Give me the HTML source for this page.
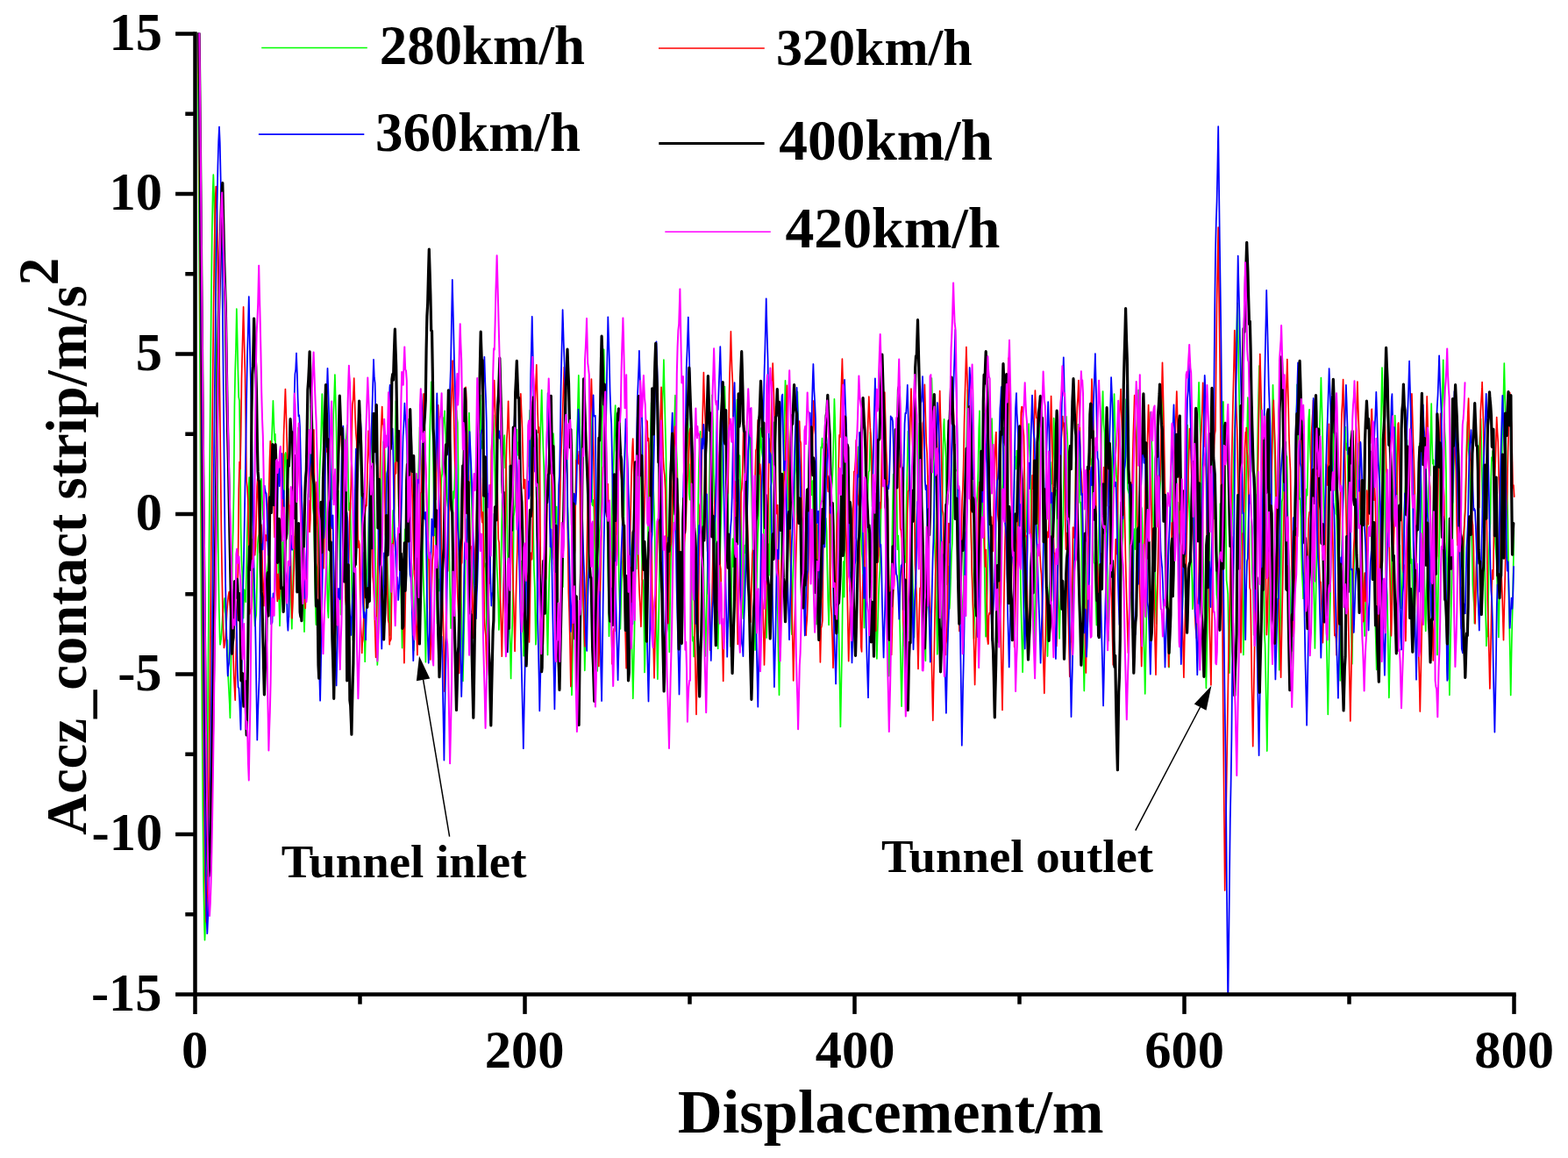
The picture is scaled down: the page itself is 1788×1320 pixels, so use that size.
<!DOCTYPE html>
<html lang="en"><head><meta charset="utf-8"><title>Accz contact strip vs displacement</title>
<style>html,body{margin:0;padding:0;background:#fff;}body{width:1788px;height:1320px;overflow:hidden;}svg{display:block;}text{font-family:"Liberation Serif","DejaVu Serif",serif;font-weight:bold;fill:#000;}</style></head><body>
<svg width="1788" height="1320" viewBox="0 0 1788 1320">
<rect width="1788" height="1320" fill="#fff"/>
<defs><clipPath id="plotclip"><rect x="221.5" y="37.5" width="1507" height="1097"/></clipPath></defs>
<g clip-path="url(#plotclip)" fill="none" stroke-linejoin="round" stroke-linecap="round">
<path stroke="#00ff00" stroke-width="1.7" d="M222.6 -200.0 L223.4 -167.9 224.2 -109.5 225.0 -27.1 225.8 76.1 226.6 195.6 227.4 325.9 228.2 461.3 229.0 595.6 229.8 722.5 230.6 836.4 231.4 932.3 232.2 1006.1 233.0 1054.8 233.5 1071.7 233.8 1064.7 234.6 1030.6 235.4 975.1 236.2 900.8 237.0 811.8 237.8 712.8 238.6 609.5 239.4 507.7 240.2 413.0 241.0 330.8 241.8 265.5 242.6 220.4 243.3 199.2 243.4 200.8 244.2 226.0 245.0 272.3 245.8 336.3 246.6 412.0 247.4 491.6 248.2 570.6 249.0 640.7 249.8 693.0 250.6 726.4 251.0 734.8 251.4 733.4 252.2 727.8 253.0 716.1 253.8 702.4 254.6 697.0 255.4 685.9 256.2 681.8 256.2 681.8 257.0 697.4 257.8 719.0 258.6 730.5 259.4 729.8 260.2 771.5 261.0 787.1 261.8 802.6 262.4 818.3 262.6 807.7 263.4 753.0 264.2 699.6 265.0 630.7 265.8 603.1 266.6 560.9 267.4 464.2 268.2 423.3 269.0 396.6 269.8 353.8 269.8 352.0 270.6 384.6 271.4 421.8 272.2 452.7 273.0 456.7 273.8 512.1 274.6 600.2 275.4 638.3 276.2 652.9 277.0 680.5 277.5 704.7 277.8 693.9 278.6 672.2 279.4 678.8 280.2 686.3 281.0 654.2 281.8 612.4 282.6 586.1 283.4 559.5 284.2 544.4 284.2 544.2 285.0 579.7 285.8 629.7 286.6 637.3 287.4 614.8 288.2 638.5 289.0 679.7 289.8 694.5 290.6 711.4 290.7 713.6 291.4 705.6 292.2 700.9 293.0 664.4 293.8 620.6 294.6 611.9 295.4 609.1 296.2 588.9 297.0 566.3 297.8 547.7 297.9 545.8 298.6 559.2 299.4 579.0 300.2 592.1 301.0 592.7 301.8 614.3 302.6 649.0 303.4 659.7 304.2 663.8 304.4 667.5 305.0 649.9 305.8 641.5 306.6 612.9 307.4 559.7 308.2 536.3 309.0 533.8 309.8 505.9 310.6 480.1 311.4 458.1 311.4 456.9 312.2 479.5 313.0 501.8 313.8 494.8 314.6 539.0 315.4 618.8 316.2 612.0 317.0 631.1 317.8 671.3 318.6 698.6 319.0 713.5 319.4 700.8 320.2 673.6 321.0 666.3 321.8 646.3 322.6 595.7 323.4 585.4 324.2 557.9 325.0 518.1 325.8 516.0 326.4 519.2 326.6 529.8 327.4 558.2 328.2 559.4 329.0 557.4 329.8 581.3 330.6 633.8 331.4 671.8 332.2 696.5 332.8 716.8 333.0 708.0 333.8 678.9 334.6 640.7 335.4 612.1 336.2 612.9 337.0 599.3 337.8 557.3 338.6 523.0 339.4 503.0 340.0 487.7 340.2 493.3 341.0 515.9 341.8 542.7 342.6 570.6 343.4 580.3 344.2 597.8 345.0 645.0 345.8 679.7 346.6 704.8 347.0 720.2 347.4 706.3 348.2 674.9 349.0 648.9 349.8 631.8 350.6 589.3 351.4 563.0 352.2 566.4 353.0 542.0 353.8 491.5 354.5 462.5 354.6 464.4 355.4 506.7 356.2 559.0 357.0 579.9 357.8 587.1 358.6 630.6 359.4 681.0 360.2 707.6 360.4 712.2 361.0 674.3 361.8 647.1 362.6 641.9 363.4 607.2 364.2 549.1 365.0 525.7 365.8 510.6 366.6 476.8 367.3 449.2 367.4 451.0 368.2 483.9 369.0 513.3 369.8 532.9 370.6 555.8 371.4 575.0 372.2 607.9 373.0 662.8 373.8 695.4 374.5 704.1 374.6 695.7 375.4 653.5 376.2 634.7 377.0 596.7 377.8 561.4 378.6 569.1 379.4 524.2 380.2 472.1 381.0 455.5 381.8 430.8 381.9 427.1 382.6 452.0 383.4 484.2 384.2 529.9 385.0 564.2 385.8 559.4 386.6 585.8 387.4 635.2 388.2 681.1 388.6 700.6 389.0 691.5 389.8 669.1 390.6 631.8 391.4 608.7 392.2 605.7 393.0 572.2 393.8 522.3 394.6 501.3 395.4 492.2 395.9 484.5 396.2 497.4 397.0 540.5 397.8 581.6 398.6 581.8 399.4 573.2 400.2 615.5 401.0 665.1 401.8 700.0 402.5 729.7 402.6 725.6 403.4 696.1 404.2 639.7 405.0 591.7 405.8 602.6 406.6 603.3 407.4 541.0 408.2 491.9 409.0 479.8 409.5 469.7 409.8 480.7 410.6 499.4 411.4 530.0 412.2 592.4 413.0 631.6 413.8 629.7 414.6 652.2 415.4 706.4 416.2 754.2 416.2 753.8 417.0 722.6 417.8 685.6 418.6 658.0 419.4 634.6 420.2 602.3 421.0 570.2 421.8 548.6 422.6 526.3 423.4 497.9 424.2 474.3 424.4 470.6 425.0 503.5 425.8 539.7 426.6 563.7 427.4 598.3 428.2 646.7 429.0 682.3 429.8 723.0 430.3 757.9 430.6 751.6 431.4 726.1 432.2 664.4 433.0 609.8 433.8 607.2 434.6 590.6 435.4 548.8 436.2 528.3 437.0 506.7 437.1 503.6 437.8 511.2 438.6 512.3 439.4 540.8 440.2 578.7 441.0 609.3 441.8 641.7 442.6 668.2 443.4 694.3 444.2 718.8 444.5 724.2 445.0 692.2 445.8 644.4 446.6 628.0 447.4 613.0 448.2 581.8 449.0 587.9 449.8 578.6 450.6 505.9 451.4 457.8 452.2 455.1 452.2 456.0 453.0 496.3 453.8 519.1 454.6 564.3 455.4 603.9 456.2 618.8 457.0 661.8 457.8 700.7 458.6 738.6 458.6 738.2 459.4 704.8 460.2 669.0 461.0 635.0 461.8 603.4 462.6 603.7 463.4 577.7 464.2 514.2 465.0 477.7 465.0 478.3 465.8 520.2 466.6 565.4 467.4 581.4 468.2 604.6 469.0 638.7 469.8 649.8 470.6 669.5 471.4 717.1 471.8 741.7 472.2 732.8 473.0 699.1 473.8 650.1 474.6 610.0 475.4 583.6 476.2 563.3 477.0 544.9 477.8 520.3 478.6 488.8 478.6 487.1 479.4 508.6 480.2 531.2 481.0 560.5 481.8 606.1 482.6 653.9 483.4 678.8 484.2 698.7 485.0 734.9 485.4 754.8 485.8 732.7 486.6 683.7 487.4 641.4 488.2 629.0 489.0 585.9 489.8 507.3 490.6 476.9 491.4 452.9 491.8 435.3 492.2 449.5 493.0 478.1 493.8 507.5 494.6 570.2 495.4 610.3 496.2 588.8 497.0 614.6 497.8 674.9 498.6 711.1 498.6 709.5 499.4 670.2 500.2 660.7 501.0 673.6 501.8 635.6 502.6 567.2 503.4 545.0 504.2 540.0 505.0 503.4 505.8 476.4 506.6 475.0 507.1 468.4 507.4 479.8 508.2 495.4 509.0 523.4 509.8 568.4 510.6 576.7 511.4 579.7 512.2 623.9 513.0 668.9 513.8 704.4 514.1 716.3 514.6 702.0 515.4 666.4 516.2 598.8 517.0 560.2 517.8 568.0 518.6 543.7 519.4 508.2 520.2 484.4 520.6 467.8 521.0 475.0 521.8 481.9 522.6 535.0 523.4 617.6 524.2 628.6 525.0 620.4 525.8 670.6 526.6 716.3 527.4 753.1 527.9 776.4 528.2 761.4 529.0 725.6 529.8 689.6 530.6 633.7 531.4 592.1 532.2 592.7 533.0 575.8 533.8 528.7 534.6 481.5 534.9 470.6 535.4 487.1 536.2 522.9 537.0 551.2 537.8 569.4 538.6 611.1 539.4 655.6 540.2 670.8 541.0 685.9 541.2 693.2 541.8 672.4 542.6 657.4 543.4 612.9 544.2 556.1 545.0 554.0 545.8 552.3 546.6 502.9 547.4 457.8 547.7 450.3 548.2 474.9 549.0 511.1 549.8 503.1 550.6 502.5 551.4 579.6 552.2 645.7 553.0 642.2 553.8 651.6 554.6 702.2 555.4 728.0 555.9 730.6 556.2 704.1 557.0 659.5 557.8 658.9 558.6 647.9 559.4 603.1 560.2 578.3 561.0 558.7 561.8 514.3 562.6 473.7 562.6 473.0 563.4 497.6 564.2 537.4 565.0 579.2 565.8 619.5 566.6 645.5 567.4 661.8 568.2 684.6 568.9 717.9 569.0 715.5 569.8 690.1 570.6 670.2 571.4 638.6 572.2 597.5 573.0 558.3 573.8 521.7 574.6 503.2 575.2 496.2 575.4 505.3 576.2 533.4 577.0 528.3 577.8 559.1 578.6 626.5 579.4 643.3 580.2 668.3 581.0 711.3 581.8 739.4 582.6 773.4 582.6 772.6 583.4 734.9 584.2 711.7 585.0 671.7 585.8 588.7 586.6 583.4 587.4 574.8 588.2 521.2 589.0 495.9 589.5 489.5 589.8 505.8 590.6 518.8 591.4 504.1 592.2 546.0 593.0 631.1 593.8 653.6 594.6 639.6 595.4 671.8 596.2 709.8 597.0 740.8 597.2 747.8 597.8 720.6 598.6 689.7 599.4 670.1 600.2 619.5 601.0 545.4 601.8 532.1 602.6 531.2 603.4 500.1 604.2 469.9 604.3 467.6 605.0 507.6 605.8 543.4 606.6 543.1 607.4 554.9 608.2 612.2 609.0 650.2 609.8 669.6 610.6 715.3 610.9 734.7 611.4 726.7 612.2 696.2 613.0 630.1 613.8 579.8 614.6 562.7 615.4 528.7 616.2 496.3 617.0 469.3 617.7 444.7 617.8 450.4 618.6 482.4 619.4 511.6 620.2 532.8 621.0 567.2 621.8 613.6 622.6 655.0 623.4 694.6 624.2 732.1 624.5 746.6 625.0 722.8 625.8 676.2 626.6 643.2 627.4 631.1 628.2 597.6 629.0 547.9 629.8 525.4 630.6 505.8 630.9 494.0 631.4 501.8 632.2 519.3 633.0 572.2 633.8 595.6 634.6 577.5 635.4 635.4 636.2 713.7 637.0 703.0 637.8 704.1 638.5 759.4 638.6 759.0 639.4 738.6 640.2 672.1 641.0 654.2 641.8 669.2 642.6 579.8 643.4 512.4 644.2 539.9 645.0 530.2 645.4 502.3 645.8 502.9 646.6 522.8 647.4 576.8 648.2 597.8 649.0 629.4 649.8 696.1 650.6 727.0 651.4 759.7 652.0 792.3 652.2 784.2 653.0 742.3 653.8 705.1 654.6 667.0 655.4 625.8 656.2 580.5 657.0 526.4 657.8 494.5 658.6 475.7 659.4 443.1 659.8 427.9 660.2 446.3 661.0 477.3 661.8 508.0 662.6 557.3 663.4 606.9 664.2 644.5 665.0 679.6 665.8 711.4 666.6 753.0 666.8 764.3 667.4 736.4 668.2 700.1 669.0 677.4 669.8 638.6 670.6 598.5 671.4 574.2 672.2 527.3 673.0 476.1 673.5 458.9 673.8 470.7 674.6 527.0 675.4 575.5 676.2 576.5 677.0 569.9 677.8 610.0 678.6 664.3 679.4 691.4 680.2 717.3 681.0 759.8 681.1 765.0 681.8 733.7 682.6 670.6 683.4 608.9 684.2 601.5 685.0 591.8 685.8 524.4 686.6 480.2 687.4 452.4 688.2 416.5 688.6 398.3 689.0 415.9 689.8 444.2 690.6 489.3 691.4 545.7 692.2 575.6 693.0 634.8 693.8 682.3 694.5 725.2 694.6 720.9 695.4 687.5 696.2 661.8 697.0 646.5 697.8 584.0 698.6 539.2 699.4 540.6 700.2 513.7 701.0 476.2 701.7 462.0 701.8 469.4 702.6 513.5 703.4 522.6 704.2 533.4 705.0 602.2 705.8 661.7 706.6 685.6 707.4 715.7 707.4 716.9 708.2 686.5 709.0 658.0 709.8 641.3 710.6 633.0 711.4 594.8 712.2 537.0 713.0 503.4 713.8 494.8 714.6 487.6 714.6 487.7 715.4 531.8 716.2 562.4 717.0 574.9 717.8 581.9 718.6 619.7 719.4 684.1 720.2 722.7 721.0 755.4 721.8 793.9 721.8 796.2 722.6 760.3 723.4 724.5 724.2 667.7 725.0 638.1 725.8 648.5 726.6 591.0 727.4 528.1 728.2 523.6 729.0 506.1 729.3 484.5 729.8 487.5 730.6 499.0 731.4 575.6 732.2 660.9 733.0 661.1 733.8 670.2 734.6 730.5 735.0 766.4 735.4 755.9 736.2 714.0 737.0 666.2 737.8 651.7 738.6 635.3 739.4 572.0 740.2 514.9 741.0 507.6 741.8 500.3 742.6 462.9 742.7 458.8 743.4 476.4 744.2 512.2 745.0 554.6 745.8 576.0 746.6 607.0 747.4 660.7 748.2 696.9 749.0 731.4 749.8 770.9 749.9 774.2 750.6 732.2 751.4 689.9 752.2 640.1 753.0 593.4 753.8 566.7 754.6 504.3 755.4 460.4 756.2 440.8 756.9 410.2 757.0 414.1 757.8 450.9 758.6 483.7 759.4 514.2 760.2 574.1 761.0 612.0 761.8 644.5 762.6 701.5 763.3 743.3 763.4 739.6 764.2 683.4 765.0 635.1 765.8 621.8 766.6 611.7 767.4 582.2 768.2 536.9 769.0 485.6 769.8 455.5 770.0 450.7 770.6 479.4 771.4 513.2 772.2 530.6 773.0 566.2 773.8 604.8 774.6 621.4 775.4 657.6 776.2 706.1 777.0 729.1 777.3 734.6 777.8 697.2 778.6 661.3 779.4 667.0 780.2 655.5 781.0 575.0 781.8 506.2 782.6 496.6 783.4 484.6 784.0 458.8 784.2 465.1 785.0 500.2 785.8 562.3 786.6 569.7 787.4 529.0 788.2 591.9 789.0 706.2 789.8 730.6 790.6 726.3 791.1 748.6 791.4 740.0 792.2 723.2 793.0 678.4 793.8 636.7 794.6 643.2 795.4 631.7 796.2 570.5 797.0 524.6 797.8 508.3 798.6 491.9 798.6 492.9 799.4 526.8 800.2 561.4 801.0 596.5 801.8 626.7 802.6 657.9 803.4 695.4 804.2 736.8 804.4 748.0 805.0 723.4 805.8 688.6 806.6 653.3 807.4 624.8 808.2 594.1 809.0 549.6 809.8 515.0 810.6 500.3 811.4 474.4 811.9 450.3 812.2 456.6 813.0 482.4 813.8 539.3 814.6 574.8 815.4 567.8 816.2 613.5 817.0 667.8 817.8 699.2 818.6 736.7 818.7 739.5 819.4 707.6 820.2 674.0 821.0 641.1 821.8 607.0 822.6 581.8 823.4 540.5 824.2 492.8 825.0 481.1 825.8 459.9 826.4 440.5 826.6 449.2 827.4 481.9 828.2 521.5 829.0 531.1 829.8 541.9 830.6 624.4 831.4 676.0 832.2 698.2 833.0 734.1 833.1 736.9 833.8 700.0 834.6 639.5 835.4 614.2 836.2 646.2 837.0 628.3 837.8 547.5 838.6 507.7 839.4 489.1 840.2 464.5 840.5 455.6 841.0 471.7 841.8 503.5 842.6 521.3 843.4 519.2 844.2 551.2 845.0 591.3 845.8 640.9 846.6 693.5 847.4 705.1 847.5 704.4 848.2 653.3 849.0 621.7 849.8 630.1 850.6 612.3 851.4 584.0 852.2 578.7 853.0 546.6 853.8 499.7 854.6 480.5 855.0 477.4 855.4 498.8 856.2 532.9 857.0 559.9 857.8 596.7 858.6 633.3 859.4 663.8 860.2 698.7 861.0 736.1 861.1 741.1 861.8 711.0 862.6 677.6 863.4 638.3 864.2 608.2 865.0 596.0 865.8 553.3 866.6 507.7 867.4 492.8 867.7 488.1 868.2 509.1 869.0 516.5 869.8 521.7 870.6 588.2 871.4 636.6 872.2 616.4 873.0 640.6 873.8 708.6 874.1 727.1 874.6 709.9 875.4 643.9 876.2 620.2 877.0 655.8 877.8 624.5 878.6 556.8 879.4 552.3 880.2 548.4 881.0 504.4 881.8 482.1 882.3 481.5 882.6 504.6 883.4 551.1 884.2 581.7 885.0 611.4 885.8 637.3 886.6 681.7 887.4 734.5 888.2 778.1 888.5 792.3 889.0 761.6 889.8 716.2 890.6 661.0 891.4 607.7 892.2 587.4 893.0 572.2 893.8 523.4 894.6 474.9 895.4 438.4 895.5 433.8 896.2 457.3 897.0 485.4 897.8 526.8 898.6 576.5 899.4 588.3 900.2 569.4 901.0 601.4 901.8 675.2 902.6 717.0 902.9 723.1 903.4 689.4 904.2 653.7 905.0 635.8 905.8 586.6 906.6 542.5 907.4 532.2 908.2 498.2 909.0 456.9 909.4 446.7 909.8 464.9 910.6 505.6 911.4 526.4 912.2 545.3 913.0 561.2 913.8 554.8 914.6 579.8 915.4 645.0 916.2 678.9 917.0 687.7 917.3 694.4 917.8 675.9 918.6 660.6 919.4 625.1 920.2 569.9 921.0 556.9 921.8 559.7 922.6 527.2 923.4 486.0 923.4 486.2 924.2 506.8 925.0 552.7 925.8 564.4 926.6 548.1 927.4 591.9 928.2 650.6 929.0 643.3 929.8 643.2 930.6 692.1 930.9 711.6 931.4 701.5 932.2 646.5 933.0 598.4 933.8 615.6 934.6 607.1 935.4 538.9 936.2 509.7 937.0 510.6 937.5 499.5 937.8 505.2 938.6 506.2 939.4 529.0 940.2 579.6 941.0 600.1 941.8 590.9 942.6 605.6 943.4 648.1 944.2 685.3 945.0 709.1 945.1 712.4 945.8 680.1 946.6 635.5 947.4 588.4 948.2 558.0 949.0 549.4 949.8 530.7 950.6 496.1 951.4 455.5 951.4 454.8 952.2 478.2 953.0 514.7 953.8 576.6 954.6 628.0 955.4 655.1 956.2 702.5 957.0 748.5 957.8 791.6 958.4 828.4 958.6 818.8 959.4 776.8 960.2 735.8 961.0 666.6 961.8 640.0 962.6 680.6 963.4 621.2 964.2 523.0 965.0 491.2 965.1 490.0 965.8 526.8 966.6 542.7 967.4 559.4 968.2 635.6 969.0 673.8 969.8 652.6 970.6 671.6 971.4 728.0 971.6 738.4 972.2 726.1 973.0 685.3 973.8 634.9 974.6 611.8 975.4 613.7 976.2 593.2 977.0 554.6 977.8 532.2 978.6 514.6 978.8 509.4 979.4 520.4 980.2 530.4 981.0 561.1 981.8 605.4 982.6 629.0 983.4 636.2 984.2 657.4 985.0 694.0 985.5 715.7 985.8 706.7 986.6 668.9 987.4 639.3 988.2 635.1 989.0 606.5 989.8 551.9 990.6 537.7 991.4 536.6 992.2 504.4 992.4 492.8 993.0 500.6 993.8 535.6 994.6 577.1 995.4 579.3 996.2 592.6 997.0 654.4 997.8 685.6 998.6 702.2 999.4 732.9 999.9 750.9 1000.2 738.7 1001.0 710.6 1001.8 680.2 1002.6 660.7 1003.4 649.7 1004.2 599.9 1005.0 559.6 1005.8 548.2 1006.6 523.8 1007.4 499.5 1007.6 496.5 1008.2 533.5 1009.0 576.9 1009.8 581.5 1010.6 597.6 1011.4 643.9 1012.2 665.5 1013.0 705.2 1013.7 770.2 1013.8 770.7 1014.6 761.2 1015.4 699.5 1016.2 650.9 1017.0 639.1 1017.8 582.7 1018.6 540.5 1019.4 580.5 1020.2 582.0 1021.0 512.5 1021.3 489.5 1021.8 498.0 1022.6 565.4 1023.4 626.3 1024.2 610.5 1025.0 628.4 1025.8 698.3 1026.6 734.9 1027.4 772.9 1028.1 805.2 1028.2 798.5 1029.0 763.8 1029.8 727.8 1030.6 663.7 1031.4 634.0 1032.2 641.1 1033.0 611.3 1033.8 567.8 1034.6 529.4 1035.4 495.3 1035.5 491.5 1036.2 511.7 1037.0 545.0 1037.8 579.3 1038.6 601.7 1039.4 614.7 1040.2 637.3 1041.0 670.5 1041.8 703.0 1042.4 726.8 1042.6 718.8 1043.4 687.6 1044.2 645.4 1045.0 600.1 1045.8 580.7 1046.6 553.5 1047.4 509.2 1048.2 487.1 1048.5 482.4 1049.0 508.5 1049.8 524.0 1050.6 530.1 1051.4 587.9 1052.2 631.1 1053.0 622.1 1053.8 664.9 1054.6 734.2 1055.4 753.3 1055.4 753.2 1056.2 682.4 1057.0 654.9 1057.8 648.0 1058.6 583.4 1059.4 542.7 1060.2 539.6 1061.0 495.1 1061.8 457.0 1062.4 431.1 1062.6 437.5 1063.4 467.9 1064.2 487.4 1065.0 529.8 1065.8 617.0 1066.6 643.7 1067.4 666.8 1068.2 711.6 1068.8 745.8 1069.0 739.2 1069.8 708.2 1070.6 673.2 1071.4 658.2 1072.2 633.5 1073.0 590.8 1073.8 585.0 1074.6 563.0 1075.4 512.7 1076.2 484.4 1076.6 477.9 1077.0 494.5 1077.8 506.2 1078.6 521.4 1079.4 598.1 1080.2 666.2 1081.0 654.4 1081.8 645.5 1082.6 685.8 1082.7 693.9 1083.4 681.5 1084.2 656.2 1085.0 630.2 1085.8 619.6 1086.6 581.6 1087.4 528.0 1088.2 507.8 1089.0 506.7 1089.0 508.0 1089.8 536.6 1090.6 535.8 1091.4 536.0 1092.2 566.3 1093.0 604.3 1093.8 630.6 1094.6 649.1 1095.4 660.8 1096.2 672.6 1097.0 696.1 1097.4 713.6 1097.8 700.5 1098.6 677.0 1099.4 631.0 1100.2 562.8 1101.0 532.2 1101.8 522.0 1102.6 483.9 1103.4 444.2 1103.4 445.6 1104.2 481.1 1105.0 517.0 1105.8 529.4 1106.6 557.4 1107.4 608.7 1108.2 639.8 1109.0 665.4 1109.8 697.8 1110.5 727.9 1110.6 724.6 1111.4 696.1 1112.2 680.5 1113.0 634.0 1113.8 573.4 1114.6 559.9 1115.4 536.3 1116.2 488.5 1117.0 468.5 1117.0 468.4 1117.8 517.5 1118.6 542.5 1119.4 543.5 1120.2 574.9 1121.0 602.8 1121.8 606.9 1122.6 641.6 1123.4 693.7 1124.1 725.8 1124.2 723.0 1125.0 693.4 1125.8 670.1 1126.6 633.0 1127.4 575.9 1128.2 533.7 1129.0 513.0 1129.8 500.0 1130.6 486.9 1131.0 477.1 1131.4 494.0 1132.2 517.0 1133.0 539.2 1133.8 561.6 1134.6 573.1 1135.4 602.2 1136.2 664.7 1137.0 711.3 1137.8 724.8 1138.2 732.1 1138.6 708.9 1139.4 684.7 1140.2 678.3 1141.0 635.6 1141.8 576.5 1142.6 564.0 1143.4 550.9 1144.2 507.9 1144.6 487.7 1145.0 495.8 1145.8 539.7 1146.6 573.5 1147.4 548.1 1148.2 545.6 1149.0 617.3 1149.8 664.4 1150.6 661.0 1151.4 673.2 1152.0 697.4 1152.2 692.9 1153.0 664.7 1153.8 632.1 1154.6 632.9 1155.4 637.1 1156.2 581.5 1157.0 520.6 1157.8 520.7 1158.6 534.6 1159.3 513.5 1159.4 515.1 1160.2 519.1 1161.0 539.6 1161.8 596.5 1162.6 626.8 1163.4 637.3 1164.2 685.6 1165.0 720.5 1165.8 751.4 1166.1 766.3 1166.6 745.9 1167.4 709.9 1168.2 687.9 1169.0 642.4 1169.8 604.9 1170.6 606.2 1171.4 560.3 1172.2 506.0 1173.0 486.8 1173.2 483.0 1173.8 507.2 1174.6 522.2 1175.4 558.4 1176.2 621.7 1177.0 651.8 1177.8 672.6 1178.6 707.5 1179.4 737.1 1179.5 739.2 1180.2 694.7 1181.0 656.1 1181.8 632.8 1182.6 614.2 1183.4 596.1 1184.2 567.7 1185.0 526.2 1185.8 485.2 1186.6 451.8 1186.6 450.7 1187.4 470.1 1188.2 499.5 1189.0 543.7 1189.8 588.4 1190.6 615.7 1191.4 632.3 1192.2 644.4 1193.0 666.7 1193.8 710.0 1194.5 748.1 1194.6 743.9 1195.4 712.1 1196.2 677.3 1197.0 662.4 1197.8 620.3 1198.6 540.0 1199.4 526.9 1200.2 551.8 1201.0 518.5 1201.6 476.7 1201.8 477.7 1202.6 509.8 1203.4 564.5 1204.2 558.8 1205.0 562.1 1205.8 642.4 1206.6 677.4 1207.4 699.1 1208.1 728.0 1208.2 723.7 1209.0 693.3 1209.8 668.0 1210.6 636.8 1211.4 614.3 1212.2 598.7 1213.0 544.8 1213.8 497.3 1214.6 496.2 1215.4 494.7 1215.9 474.8 1216.2 482.3 1217.0 494.0 1217.8 514.8 1218.6 563.8 1219.4 619.4 1220.2 653.3 1221.0 682.3 1221.8 722.7 1222.0 732.1 1222.6 708.5 1223.4 669.4 1224.2 638.0 1225.0 631.7 1225.8 597.4 1226.6 529.3 1227.4 508.4 1228.2 519.0 1229.0 494.2 1229.2 483.8 1229.8 496.7 1230.6 531.3 1231.4 572.9 1232.2 572.7 1233.0 592.8 1233.8 668.3 1234.6 712.6 1235.4 744.8 1236.2 783.9 1236.3 787.6 1237.0 750.9 1237.8 711.8 1238.6 660.0 1239.4 608.3 1240.2 593.6 1241.0 580.5 1241.8 541.9 1242.6 499.3 1242.7 494.9 1243.4 515.5 1244.2 529.7 1245.0 523.4 1245.8 555.9 1246.6 626.6 1247.4 641.6 1248.2 641.7 1249.0 669.0 1249.8 694.5 1250.4 712.6 1250.6 703.1 1251.4 670.6 1252.2 649.2 1253.0 611.7 1253.8 556.3 1254.6 547.2 1255.4 518.7 1256.2 489.3 1257.0 465.2 1257.6 446.0 1257.8 454.3 1258.6 483.6 1259.4 493.4 1260.2 539.1 1261.0 603.9 1261.8 613.2 1262.6 660.9 1263.4 713.8 1264.1 730.4 1264.2 720.4 1265.0 659.3 1265.8 641.7 1266.6 642.3 1267.4 600.7 1268.2 542.5 1269.0 504.1 1269.8 473.3 1270.6 449.0 1270.6 449.7 1271.4 488.2 1272.2 525.3 1273.0 542.2 1273.8 549.4 1274.6 577.2 1275.4 627.3 1276.2 674.2 1277.0 701.8 1277.3 710.0 1277.8 683.7 1278.6 642.4 1279.4 624.1 1280.2 613.3 1281.0 590.2 1281.8 565.0 1282.6 530.6 1283.4 482.6 1284.1 455.1 1284.2 456.9 1285.0 503.5 1285.8 556.8 1286.6 560.0 1287.4 563.3 1288.2 634.6 1289.0 681.5 1289.8 675.7 1290.6 698.3 1290.9 715.6 1291.4 707.0 1292.2 679.5 1293.0 617.6 1293.8 603.1 1294.6 626.2 1295.4 562.3 1296.2 498.1 1297.0 482.2 1297.8 458.0 1298.2 444.7 1298.6 461.4 1299.4 494.6 1300.2 532.9 1301.0 576.7 1301.8 579.6 1302.6 602.0 1303.4 678.3 1304.2 721.9 1305.0 753.4 1305.7 791.0 1305.8 787.4 1306.6 741.4 1307.4 694.9 1308.2 642.4 1309.0 625.0 1309.8 595.5 1310.6 524.3 1311.4 483.5 1311.9 470.1 1312.2 483.1 1313.0 500.5 1313.8 515.9 1314.6 574.3 1315.4 605.7 1316.2 597.2 1317.0 640.4 1317.8 693.2 1318.6 707.7 1318.8 711.0 1319.4 675.4 1320.2 656.8 1321.0 636.7 1321.8 587.2 1322.6 560.0 1323.4 547.2 1324.2 503.8 1325.0 457.5 1325.6 439.1 1325.8 446.9 1326.6 490.0 1327.4 528.9 1328.2 555.1 1329.0 578.1 1329.8 598.0 1330.6 620.7 1331.4 665.7 1332.2 722.1 1333.0 759.2 1333.1 760.7 1333.8 711.3 1334.6 654.5 1335.4 625.6 1336.2 607.5 1337.0 569.8 1337.8 537.1 1338.6 513.1 1339.1 492.9 1339.4 498.2 1340.2 502.4 1341.0 529.3 1341.8 592.6 1342.6 613.2 1343.4 572.7 1344.2 577.7 1345.0 668.1 1345.8 728.1 1346.6 722.8 1347.4 725.4 1347.4 725.6 1348.2 697.5 1349.0 673.9 1349.8 626.9 1350.6 610.8 1351.4 634.6 1352.2 597.1 1353.0 518.0 1353.8 484.4 1354.1 484.6 1354.6 513.2 1355.4 560.0 1356.2 579.4 1357.0 600.4 1357.8 625.7 1358.6 638.2 1359.4 664.0 1359.9 694.2 1360.2 688.7 1361.0 674.7 1361.8 642.7 1362.6 592.8 1363.4 549.3 1364.2 520.9 1365.0 491.6 1365.8 474.0 1366.6 453.2 1367.1 435.9 1367.4 445.4 1368.2 475.2 1369.0 501.1 1369.8 541.0 1370.6 575.0 1371.4 594.7 1372.2 650.9 1373.0 688.9 1373.8 708.2 1374.6 748.1 1375.4 784.3 1375.4 782.7 1376.2 743.7 1377.0 700.2 1377.8 672.0 1378.6 663.2 1379.4 585.9 1380.2 539.6 1381.0 539.4 1381.8 508.6 1381.8 508.7 1382.6 511.9 1383.4 545.9 1384.2 591.4 1385.0 576.2 1385.8 574.3 1386.6 639.4 1387.4 677.6 1388.2 684.2 1389.0 712.9 1389.0 714.0 1389.8 687.9 1390.6 630.8 1391.4 574.2 1392.2 581.6 1393.0 576.0 1393.8 515.7 1394.6 466.1 1394.9 457.9 1395.4 482.5 1396.2 519.7 1397.0 543.7 1397.8 593.2 1398.6 661.5 1399.4 668.1 1400.2 677.4 1401.0 723.8 1401.8 762.5 1401.9 767.2 1402.6 731.2 1403.4 696.3 1404.2 640.2 1405.0 590.0 1405.8 568.2 1406.6 531.8 1407.4 499.8 1408.2 483.1 1409.0 440.1 1409.8 394.1 1410.6 362.1 1411.0 345.6 1411.4 365.5 1412.2 405.2 1413.0 450.0 1413.8 491.9 1414.6 529.5 1415.4 576.3 1416.2 625.7 1417.0 681.2 1417.8 738.5 1417.9 746.5 1418.6 706.6 1419.4 653.4 1420.2 596.8 1421.0 547.4 1421.8 506.3 1422.6 468.2 1422.9 453.1 1423.4 473.2 1424.2 512.5 1425.0 541.7 1425.8 549.7 1426.6 576.8 1427.4 631.1 1428.2 659.1 1429.0 680.8 1429.7 723.8 1429.8 720.7 1430.6 696.4 1431.4 627.2 1432.2 564.3 1433.0 568.5 1433.8 522.5 1434.6 471.2 1435.4 440.6 1435.9 417.0 1436.2 428.2 1437.0 460.9 1437.8 480.7 1438.6 548.3 1439.4 597.5 1440.2 577.5 1441.0 641.0 1441.8 721.4 1442.6 734.8 1443.4 775.7 1444.2 821.4 1444.8 856.1 1445.0 844.4 1445.8 788.4 1446.6 732.8 1447.4 693.7 1448.2 635.1 1449.0 588.0 1449.8 544.2 1450.6 491.5 1451.4 446.7 1451.5 438.8 1452.2 464.2 1453.0 493.0 1453.8 527.7 1454.6 571.0 1455.4 605.3 1456.2 634.3 1457.0 659.1 1457.8 694.1 1458.6 749.7 1458.8 763.7 1459.4 747.0 1460.2 701.1 1461.0 622.0 1461.8 571.8 1462.6 567.9 1463.4 535.9 1464.2 487.8 1464.8 463.2 1465.0 471.5 1465.8 507.6 1466.6 518.8 1467.4 520.8 1468.2 566.7 1469.0 622.3 1469.8 637.1 1470.6 651.6 1471.4 695.6 1472.2 731.2 1472.7 742.2 1473.0 718.9 1473.8 664.7 1474.6 636.6 1475.4 617.2 1476.2 580.6 1477.0 545.6 1477.8 511.6 1478.6 462.3 1479.0 438.3 1479.4 441.8 1480.2 471.1 1481.0 531.0 1481.8 569.1 1482.6 567.9 1483.4 589.9 1484.2 636.0 1485.0 658.5 1485.8 672.4 1486.1 682.5 1486.6 666.8 1487.4 663.1 1488.2 637.2 1489.0 577.9 1489.8 557.9 1490.6 564.7 1491.4 525.6 1492.2 478.2 1493.0 467.2 1493.1 466.8 1493.8 507.7 1494.6 525.9 1495.4 538.8 1496.2 596.3 1497.0 641.6 1497.8 655.1 1498.6 691.2 1499.4 739.0 1499.4 738.7 1500.2 697.1 1501.0 648.8 1501.8 621.8 1502.6 597.3 1503.4 555.4 1504.2 518.7 1505.0 485.8 1505.8 454.4 1506.4 430.5 1506.6 438.2 1507.4 464.8 1508.2 497.2 1509.0 548.4 1509.8 585.4 1510.6 614.8 1511.4 655.9 1512.2 701.5 1513.0 745.4 1513.8 787.7 1514.3 814.5 1514.6 797.7 1515.4 753.6 1516.2 708.7 1517.0 676.2 1517.8 632.5 1518.6 587.2 1519.4 565.7 1520.2 526.0 1521.0 472.1 1521.1 468.3 1521.8 493.5 1522.6 551.1 1523.4 585.7 1524.2 587.3 1525.0 618.4 1525.8 655.3 1526.6 668.3 1527.4 709.8 1528.2 775.8 1528.3 775.8 1529.0 754.9 1529.8 676.8 1530.6 597.3 1531.4 575.3 1532.2 561.5 1533.0 526.1 1533.8 501.9 1534.3 486.5 1534.6 499.8 1535.4 513.1 1536.2 505.6 1537.0 538.5 1537.8 605.9 1538.6 631.5 1539.4 632.0 1540.2 669.7 1541.0 724.2 1541.8 756.7 1541.8 756.2 1542.6 709.2 1543.4 665.2 1544.2 638.4 1545.0 609.5 1545.8 568.0 1546.6 535.6 1547.4 516.8 1547.8 505.4 1548.2 517.5 1549.0 530.9 1549.8 532.4 1550.6 560.3 1551.4 609.3 1552.2 621.9 1553.0 616.6 1553.8 654.0 1554.6 699.5 1555.4 710.6 1556.2 724.2 1556.2 725.0 1557.0 698.1 1557.8 674.9 1558.6 624.9 1559.4 584.0 1560.2 565.1 1561.0 532.0 1561.8 496.9 1561.8 497.7 1562.6 522.3 1563.4 552.3 1564.2 581.3 1565.0 606.6 1565.8 615.6 1566.6 629.1 1567.4 670.4 1568.2 707.7 1569.0 736.2 1569.7 763.4 1569.8 756.8 1570.6 709.8 1571.4 636.7 1572.2 578.4 1573.0 564.5 1573.8 535.7 1574.6 492.0 1575.4 449.1 1576.0 419.0 1576.2 425.7 1577.0 458.6 1577.8 483.7 1578.6 526.6 1579.4 595.1 1580.2 649.9 1581.0 666.0 1581.8 678.9 1582.6 720.5 1583.4 767.4 1583.9 795.3 1584.2 781.1 1585.0 741.9 1585.8 715.6 1586.6 672.3 1587.4 601.8 1588.2 574.4 1589.0 555.7 1589.8 514.7 1590.6 477.5 1590.7 473.6 1591.4 495.8 1592.2 519.6 1593.0 543.9 1593.8 588.9 1594.6 625.7 1595.4 622.3 1596.2 621.6 1597.0 653.3 1597.7 693.2 1597.8 691.9 1598.6 679.4 1599.4 657.6 1600.2 622.1 1601.0 586.6 1601.8 568.6 1602.6 553.2 1603.4 528.2 1604.2 507.3 1604.5 501.5 1605.0 518.6 1605.8 539.3 1606.6 545.1 1607.4 570.0 1608.2 622.3 1609.0 642.2 1609.8 637.6 1610.6 666.0 1611.4 710.2 1611.7 722.0 1612.2 704.1 1613.0 662.4 1613.8 639.5 1614.6 633.1 1615.4 603.9 1616.2 570.7 1617.0 552.5 1617.8 531.4 1618.6 509.8 1618.8 505.3 1619.4 523.5 1620.2 540.8 1621.0 559.7 1621.8 603.6 1622.6 628.1 1623.4 620.7 1624.2 651.7 1625.0 701.0 1625.8 719.4 1625.8 719.0 1626.6 672.7 1627.4 657.4 1628.2 629.1 1629.0 557.3 1629.8 539.4 1630.6 542.3 1631.4 497.7 1632.2 461.1 1632.2 460.2 1633.0 504.0 1633.8 528.7 1634.6 524.3 1635.4 575.7 1636.2 633.6 1637.0 636.1 1637.8 671.7 1638.6 731.9 1638.9 746.6 1639.4 716.6 1640.2 657.4 1641.0 629.3 1641.8 584.5 1642.6 501.1 1643.4 480.8 1644.2 473.3 1645.0 438.5 1645.7 410.3 1645.8 416.3 1646.6 455.1 1647.4 491.6 1648.2 504.5 1649.0 539.0 1649.8 624.0 1650.6 675.7 1651.4 710.4 1652.2 752.0 1652.9 792.3 1653.0 785.9 1653.8 741.4 1654.6 699.3 1655.4 663.7 1656.2 618.2 1657.0 567.9 1657.8 533.1 1658.6 505.6 1659.2 481.7 1659.4 488.0 1660.2 506.2 1661.0 523.7 1661.8 545.7 1662.6 562.5 1663.4 586.1 1664.2 634.6 1665.0 670.0 1665.8 669.3 1666.6 680.7 1667.2 714.2 1667.4 711.2 1668.2 697.8 1669.0 651.4 1669.8 595.5 1670.6 584.9 1671.4 570.1 1672.2 522.3 1673.0 491.1 1673.6 480.9 1673.8 490.0 1674.6 513.4 1675.4 520.1 1676.2 547.5 1677.0 584.5 1677.8 597.4 1678.6 624.1 1679.4 666.1 1680.2 679.5 1681.0 691.4 1681.4 710.4 1681.8 702.3 1682.6 687.1 1683.4 649.5 1684.2 619.1 1685.0 611.5 1685.8 569.7 1686.6 516.1 1687.4 499.7 1688.2 488.8 1688.6 477.4 1689.0 492.1 1689.8 531.9 1690.6 583.6 1691.4 601.0 1692.2 599.0 1693.0 640.6 1693.8 687.0 1694.6 718.9 1694.9 736.2 1695.4 725.6 1696.2 725.7 1697.0 694.8 1697.8 629.0 1698.6 607.8 1699.4 596.8 1700.2 546.4 1701.0 521.3 1701.8 520.9 1702.1 514.2 1702.6 525.4 1703.4 527.9 1704.2 562.9 1705.0 618.3 1705.8 628.3 1706.6 639.0 1707.4 670.5 1708.2 700.2 1708.9 726.5 1709.0 722.5 1709.8 679.1 1710.6 642.7 1711.4 616.8 1712.2 563.1 1713.0 500.3 1713.8 474.4 1714.6 444.7 1715.3 414.0 1715.4 418.4 1716.2 455.3 1717.0 492.4 1717.8 530.7 1718.6 558.9 1719.4 595.1 1720.2 657.2 1721.0 705.0 1721.8 742.0 1722.6 786.8 1722.7 792.5 1723.4 754.2 1724.2 713.6 1725.0 687.2 1725.8 639.1 1726.3 604.0"/>
<path stroke="#ff0000" stroke-width="1.7" d="M222.7 -200.0 L223.5 -173.9 224.3 -128.0 225.1 -63.6 225.9 17.4 226.7 112.4 227.5 218.2 228.3 331.2 229.1 447.5 229.9 563.0 230.7 673.7 231.5 775.9 232.3 866.0 233.1 941.0 233.9 998.7 234.7 1037.2 235.2 1051.2 235.5 1045.4 236.3 1018.4 237.1 975.1 237.9 917.1 238.7 846.8 239.5 767.0 240.3 681.3 241.1 593.4 241.9 507.3 242.7 426.7 243.5 355.4 244.3 295.0 245.1 249.6 245.9 220.8 246.3 212.6 246.7 219.2 247.5 244.6 248.3 285.1 249.1 335.9 249.9 393.6 250.7 458.6 251.5 529.0 252.3 598.2 253.1 652.0 253.9 692.9 254.7 724.3 255.4 738.5 255.5 738.2 256.3 733.8 257.1 727.2 257.9 714.3 258.7 697.9 259.5 687.5 260.3 680.1 261.1 675.1 261.3 674.5 261.9 684.1 262.7 697.7 263.5 716.7 264.3 733.6 265.1 728.3 265.9 743.1 266.7 769.9 267.5 785.1 268.2 798.2 268.3 790.4 269.1 747.3 269.9 704.7 270.7 684.2 271.5 641.0 272.3 558.2 273.1 526.5 273.9 534.7 274.7 494.0 275.5 431.9 276.3 400.6 277.1 368.9 277.6 349.9 277.9 364.9 278.7 398.2 279.5 427.0 280.3 486.0 281.1 548.7 281.9 555.0 282.7 569.6 283.5 617.0 284.3 668.8 284.8 699.8 285.1 697.0 285.9 696.9 286.7 693.5 287.5 659.8 288.3 611.8 289.1 595.1 289.9 611.8 290.7 632.8 291.5 622.1 292.3 585.6 293.1 554.3 293.7 545.7 293.9 548.6 294.7 573.0 295.5 609.6 296.3 630.0 297.1 614.7 297.9 598.2 298.7 619.3 299.5 657.5 300.3 684.2 300.8 690.7 301.1 681.7 301.9 644.3 302.7 609.8 303.5 610.6 304.3 616.5 305.1 592.5 305.9 573.8 306.7 559.7 307.5 523.7 308.3 502.8 308.6 504.8 309.1 530.4 309.9 570.6 310.7 552.9 311.5 528.1 312.3 576.2 313.1 612.5 313.9 591.1 314.7 604.8 315.5 672.7 316.3 685.5 317.1 654.3 317.9 664.8 318.3 683.0 318.7 678.8 319.5 660.0 320.3 609.7 321.1 581.6 321.9 588.5 322.7 548.2 323.5 497.1 324.3 474.9 325.1 451.9 325.4 443.5 325.9 459.5 326.7 485.0 327.5 513.8 328.3 554.0 329.1 576.5 329.9 576.0 330.7 594.4 331.5 635.5 332.3 676.7 333.0 704.8 333.1 701.9 333.9 685.1 334.7 665.1 335.5 638.7 336.3 611.6 337.1 591.8 337.9 577.9 338.7 566.2 339.5 549.7 340.3 528.7 341.1 512.7 341.3 509.0 341.9 526.0 342.7 546.3 343.5 555.7 344.3 573.9 345.1 602.5 345.9 616.1 346.7 635.2 347.5 671.0 348.2 693.4 348.3 690.7 349.1 663.2 349.9 645.1 350.7 630.5 351.5 585.6 352.3 570.5 353.1 606.5 353.9 591.8 354.7 525.8 355.5 517.7 356.3 524.1 357.0 492.1 357.1 491.2 357.9 489.9 358.7 555.7 359.5 627.4 360.3 595.6 361.1 549.4 361.9 589.2 362.7 659.0 363.5 695.3 364.3 715.5 365.1 732.0 365.1 732.8 365.9 696.3 366.7 653.2 367.5 630.0 368.3 640.1 369.1 647.8 369.9 609.9 370.7 543.0 371.5 511.7 372.3 514.9 373.1 508.0 373.3 503.1 373.9 519.4 374.7 536.3 375.5 559.3 376.3 581.9 377.1 608.0 377.9 647.8 378.7 682.5 379.5 702.2 380.3 724.9 380.3 725.6 381.1 695.9 381.9 672.9 382.7 646.2 383.5 616.2 384.3 586.7 385.1 553.5 385.9 523.8 386.7 506.4 387.5 488.6 387.8 479.4 388.3 490.7 389.1 497.0 389.9 515.2 390.7 557.8 391.5 587.8 392.3 600.3 393.1 638.1 393.9 681.3 394.7 689.8 395.4 693.3 395.5 686.4 396.3 657.0 397.1 658.5 397.9 634.9 398.7 590.8 399.5 577.4 400.3 553.0 401.1 492.0 401.9 461.2 402.7 455.0 403.5 437.4 403.7 431.1 404.3 449.7 405.1 477.0 405.9 494.1 406.7 503.1 407.5 566.2 408.3 624.1 409.1 616.4 409.9 620.9 410.7 678.7 411.5 714.3 412.3 727.7 412.7 744.5 413.1 733.7 413.9 729.4 414.7 706.4 415.5 639.9 416.3 584.5 417.1 575.9 417.9 576.6 418.7 551.2 419.5 515.9 420.2 491.1 420.3 493.6 421.1 516.6 421.9 529.7 422.7 540.1 423.5 574.2 424.3 624.0 425.1 657.3 425.9 665.9 426.7 683.0 427.5 712.0 428.3 740.6 428.6 749.5 429.1 724.4 429.9 689.8 430.7 651.0 431.5 609.6 432.3 586.1 433.1 556.9 433.9 515.2 434.7 487.2 435.5 468.6 435.7 463.6 436.3 483.5 437.1 484.1 437.9 493.4 438.7 550.9 439.5 608.4 440.3 619.4 441.1 631.8 441.9 678.3 442.7 707.0 443.5 710.6 444.2 734.7 444.3 731.5 445.1 730.5 445.9 728.2 446.7 671.1 447.5 619.8 448.3 628.3 449.1 612.8 449.9 548.4 450.7 527.9 451.5 539.8 452.3 512.0 452.5 497.5 453.1 494.5 453.9 518.3 454.7 576.7 455.5 590.0 456.3 574.6 457.1 620.1 457.9 681.5 458.7 683.1 459.5 684.0 460.3 725.2 460.9 755.8 461.1 747.7 461.9 705.8 462.7 660.4 463.5 643.3 464.3 615.4 465.1 554.0 465.9 520.0 466.7 514.8 467.1 506.8 467.5 520.6 468.3 527.8 469.1 531.6 469.9 555.0 470.7 586.6 471.5 622.1 472.3 653.9 473.1 661.7 473.9 678.5 474.7 708.6 475.5 734.7 475.9 746.7 476.3 727.0 477.1 691.7 477.9 659.3 478.7 612.3 479.5 562.4 480.3 560.9 481.1 537.8 481.9 493.7 482.7 463.1 483.1 448.9 483.5 462.4 484.3 491.3 485.1 523.7 485.9 543.6 486.7 578.4 487.5 613.0 488.3 617.2 489.1 639.9 489.9 700.4 490.7 750.5 490.7 751.9 491.5 720.7 492.3 667.8 493.1 639.3 493.9 631.8 494.7 600.0 495.5 565.3 496.3 567.5 497.1 569.4 497.9 524.3 498.7 475.9 499.5 462.5 499.7 461.9 500.3 496.9 501.1 531.2 501.9 538.8 502.7 565.4 503.5 631.8 504.3 676.1 505.1 699.9 505.9 737.2 506.7 777.4 506.9 788.1 507.5 761.4 508.3 724.3 509.1 675.1 509.9 646.6 510.7 650.9 511.5 616.1 512.3 552.4 513.1 506.0 513.9 479.0 514.7 459.4 515.5 434.0 516.1 411.1 516.3 417.7 517.1 451.4 517.9 489.9 518.7 525.7 519.5 535.8 520.3 583.9 521.1 657.0 521.9 680.5 522.7 698.8 523.5 755.5 523.7 767.5 524.3 747.1 525.1 690.5 525.9 643.4 526.7 641.5 527.5 605.1 528.3 537.7 529.1 520.2 529.9 511.7 530.7 467.0 531.1 441.3 531.5 446.7 532.3 478.6 533.1 514.8 533.9 524.0 534.7 544.4 535.5 594.6 536.3 625.3 537.1 622.7 537.9 637.6 538.7 682.6 539.5 726.4 539.5 727.3 540.3 704.1 541.1 661.8 541.9 626.0 542.7 613.8 543.5 593.8 544.3 556.8 545.1 538.0 545.9 531.3 546.6 512.3 546.7 514.9 547.5 524.5 548.3 547.4 549.1 588.2 549.9 595.7 550.7 583.9 551.5 627.7 552.3 703.0 553.1 717.0 553.9 724.3 554.7 752.2 555.2 770.5 555.5 758.6 556.3 723.0 557.1 682.7 557.9 659.3 558.7 665.0 559.5 604.1 560.3 514.2 561.1 500.8 561.9 489.2 562.7 461.6 563.5 437.7 563.6 433.5 564.3 455.4 565.1 483.8 565.9 500.7 566.7 512.5 567.5 574.9 568.3 614.3 569.1 618.3 569.9 654.7 570.7 687.4 571.5 714.1 572.3 746.2 572.3 748.2 573.1 714.6 573.9 683.2 574.7 643.4 575.5 623.3 576.3 599.6 577.1 527.3 577.9 501.3 578.7 487.6 579.5 459.5 579.6 457.3 580.3 482.1 581.1 510.3 581.9 536.0 582.7 550.2 583.5 583.5 584.3 637.1 585.1 667.1 585.9 692.5 586.7 725.1 587.1 742.5 587.5 723.7 588.3 684.3 589.1 650.0 589.9 627.2 590.7 584.8 591.5 534.2 592.3 506.4 593.1 477.2 593.8 448.9 593.9 450.7 594.7 470.8 595.5 488.2 596.3 521.4 597.1 557.0 597.9 546.5 598.7 546.8 599.5 598.2 600.3 651.9 601.1 656.8 601.9 659.1 602.7 695.1 603.5 730.5 603.5 731.9 604.3 690.9 605.1 640.7 605.9 630.0 606.7 637.7 607.5 585.5 608.3 500.8 609.1 475.0 609.9 464.4 610.7 444.0 611.5 424.2 611.8 415.8 612.3 436.3 613.1 469.9 613.9 493.1 614.7 487.1 615.5 531.0 616.3 638.1 617.1 690.6 617.9 687.4 618.7 703.3 619.3 734.7 619.5 727.5 620.3 693.8 621.1 662.7 621.9 664.2 622.7 658.1 623.5 598.5 624.3 548.3 625.1 540.8 625.9 528.4 626.7 500.4 626.8 497.9 627.5 514.1 628.3 532.0 629.1 543.4 629.9 565.1 630.7 605.4 631.5 636.0 632.3 643.7 633.1 653.5 633.9 680.7 634.5 707.5 634.7 703.1 635.5 677.1 636.3 641.3 637.1 613.4 637.9 595.7 638.7 563.5 639.5 525.3 640.3 506.2 641.1 488.5 641.9 461.1 642.7 436.8 643.3 418.5 643.5 425.9 644.3 456.8 645.1 487.6 645.9 517.7 646.7 541.6 647.5 611.3 648.3 675.1 649.1 697.1 649.9 729.5 650.7 773.3 650.9 782.6 651.5 757.5 652.3 732.6 653.1 699.9 653.9 649.2 654.7 638.1 655.5 627.3 656.3 568.6 657.1 524.5 657.9 527.2 658.7 521.8 658.8 519.1 659.5 528.6 660.3 514.5 661.1 538.6 661.9 605.8 662.7 632.1 663.5 616.9 664.3 641.6 665.1 682.5 665.9 707.3 666.7 733.2 666.8 736.9 667.5 706.1 668.3 674.0 669.1 639.5 669.9 585.8 670.7 549.5 671.5 538.3 672.3 513.4 673.1 479.9 673.9 448.7 674.4 432.1 674.7 443.4 675.5 469.4 676.3 493.6 677.1 526.3 677.9 569.8 678.7 606.1 679.5 625.0 680.3 635.4 681.1 664.0 681.9 711.2 682.7 756.2 682.8 759.6 683.5 728.4 684.3 683.0 685.1 641.1 685.9 604.8 686.7 558.8 687.5 532.2 688.3 531.8 689.1 503.5 689.4 480.1 689.9 474.3 690.7 477.8 691.5 537.8 692.3 575.4 693.1 551.6 693.9 586.4 694.7 663.6 695.5 658.6 696.3 628.3 697.1 692.2 697.9 756.7 698.7 755.5 699.0 753.7 699.5 719.4 700.3 716.3 701.1 719.4 701.9 644.4 702.7 582.6 703.5 608.7 704.3 609.3 705.1 541.1 705.9 500.2 706.7 499.3 706.8 499.1 707.5 535.4 708.3 540.5 709.1 550.1 709.9 603.2 710.7 649.1 711.5 660.1 712.3 686.7 713.1 720.9 713.9 752.6 714.1 761.8 714.7 740.2 715.5 708.2 716.3 682.1 717.1 667.0 717.9 642.9 718.7 605.9 719.5 565.7 720.3 532.4 721.1 511.0 721.7 500.1 721.9 506.3 722.7 535.8 723.5 565.4 724.3 579.1 725.1 569.9 725.9 566.0 726.7 588.5 727.5 623.5 728.3 653.5 729.1 675.4 729.9 690.3 730.7 709.0 730.9 714.3 731.5 691.2 732.3 658.0 733.1 633.6 733.9 612.1 734.7 587.6 735.5 549.6 736.3 497.7 737.1 479.2 737.9 483.0 738.1 480.2 738.7 502.6 739.5 499.6 740.3 532.8 741.1 599.3 741.9 590.9 742.7 582.3 743.5 669.1 744.3 716.0 745.1 734.3 745.9 768.4 746.0 773.0 746.7 741.3 747.5 704.6 748.3 664.7 749.1 633.5 749.9 616.4 750.7 589.6 751.5 549.8 752.3 506.9 753.1 475.4 753.9 447.2 754.1 441.3 754.7 460.2 755.5 491.2 756.3 522.4 757.1 535.2 757.9 541.9 758.7 557.9 759.5 597.5 760.3 654.6 761.1 694.1 761.9 708.9 762.0 710.7 762.7 674.3 763.5 638.8 764.3 623.8 765.1 619.4 765.9 605.2 766.7 573.2 767.5 535.6 768.3 510.3 769.1 494.1 769.5 486.0 769.9 496.6 770.7 517.7 771.5 541.4 772.3 561.6 773.1 570.6 773.9 584.9 774.7 616.4 775.5 646.2 776.3 661.6 777.1 679.0 777.6 694.1 777.9 687.9 778.7 674.6 779.5 649.0 780.3 619.0 781.1 609.8 781.9 603.5 782.7 578.0 783.5 553.4 784.3 539.7 785.1 516.3 785.9 494.6 786.7 489.3 786.9 488.4 787.5 521.7 788.3 547.6 789.1 582.1 789.9 636.2 790.7 649.8 791.5 668.0 792.3 727.4 793.1 769.7 793.9 809.7 794.0 814.5 794.7 778.0 795.5 742.0 796.3 718.8 797.1 646.0 797.9 576.0 798.7 573.6 799.5 561.5 800.3 517.4 801.1 479.3 801.9 444.4 802.4 424.5 802.7 436.6 803.5 462.8 804.3 482.2 805.1 532.3 805.9 601.0 806.7 628.8 807.5 632.7 808.3 656.8 809.1 702.7 809.7 741.1 809.9 737.0 810.7 721.9 811.5 700.0 812.3 662.8 813.1 621.7 813.9 594.3 814.7 576.3 815.5 564.2 816.3 553.6 817.1 532.0 817.7 506.2 817.9 509.3 818.7 520.5 819.5 555.9 820.3 614.2 821.1 643.8 821.9 649.1 822.7 687.0 823.5 726.9 824.3 759.1 824.7 776.4 825.1 755.9 825.9 713.6 826.7 681.6 827.5 649.7 828.3 577.2 829.1 542.7 829.9 562.4 830.7 523.5 831.5 450.5 832.3 419.5 833.1 390.9 833.4 377.9 833.9 396.6 834.7 422.5 835.5 437.2 836.3 509.5 837.1 568.1 837.9 548.7 838.7 576.7 839.5 644.0 840.3 685.4 841.1 723.9 841.3 734.4 841.9 710.0 842.7 679.4 843.5 655.8 844.3 609.5 845.1 561.9 845.9 556.3 846.7 540.0 847.5 499.0 848.1 474.5 848.3 479.8 849.1 512.9 849.9 544.9 850.7 549.0 851.5 557.6 852.3 592.1 853.1 622.5 853.9 643.7 854.7 670.2 855.5 696.6 855.9 709.1 856.3 696.4 857.1 662.5 857.9 631.6 858.7 625.0 859.5 631.1 860.3 600.4 861.1 541.7 861.9 513.4 862.7 511.5 863.5 497.5 864.3 480.1 864.4 478.5 865.1 514.5 865.9 540.1 866.7 529.0 867.5 544.4 868.3 632.6 869.1 681.0 869.9 690.4 870.7 722.1 871.5 757.5 871.5 757.9 872.3 726.9 873.1 693.6 873.9 662.6 874.7 665.5 875.5 636.9 876.3 550.5 877.1 500.0 877.9 525.8 878.7 524.0 879.5 473.8 880.3 442.8 881.1 418.4 881.2 414.0 881.9 435.8 882.7 462.1 883.5 480.4 884.3 525.7 885.1 583.9 885.9 585.7 886.7 575.7 887.5 621.6 888.3 687.1 889.1 721.0 889.4 726.5 889.9 695.1 890.7 650.7 891.5 634.8 892.3 626.1 893.1 588.9 893.9 549.6 894.7 539.5 895.5 528.5 896.3 490.2 897.1 450.2 897.4 439.4 897.9 456.4 898.7 496.8 899.5 543.2 900.3 586.9 901.1 617.9 901.9 645.2 902.7 680.6 903.5 715.2 904.3 754.7 904.7 776.0 905.1 757.8 905.9 721.1 906.7 691.5 907.5 644.1 908.3 613.2 909.1 582.6 909.9 520.4 910.7 489.5 911.5 483.7 911.6 480.2 912.3 501.9 913.1 505.0 913.9 537.4 914.7 588.8 915.5 595.0 916.3 607.4 917.1 660.2 917.9 692.0 918.7 705.4 919.2 724.1 919.5 715.3 920.3 705.7 921.1 682.6 921.9 640.3 922.7 608.7 923.5 578.3 924.3 542.1 925.1 528.0 925.9 524.8 926.7 500.8 927.5 469.8 927.9 456.9 928.3 471.3 929.1 489.7 929.9 495.8 930.7 539.7 931.5 628.5 932.3 672.6 933.1 660.0 933.9 675.1 934.7 720.3 935.4 755.0 935.5 750.1 936.3 716.0 937.1 713.4 937.9 707.2 938.7 628.8 939.5 542.2 940.3 534.4 941.1 543.8 941.9 520.1 942.2 506.0 942.7 521.2 943.5 551.5 944.3 560.5 945.1 542.5 945.9 573.6 946.7 654.5 947.5 690.1 948.3 700.8 949.1 726.3 949.9 756.2 950.0 761.3 950.7 736.2 951.5 702.5 952.3 686.2 953.1 666.6 953.9 608.6 954.7 588.0 955.5 581.3 956.3 531.1 957.1 495.9 957.9 498.4 958.7 466.8 959.5 437.0 960.3 413.4 960.4 409.2 961.1 434.6 961.9 459.7 962.7 489.8 963.5 549.9 964.3 596.1 965.1 616.4 965.9 661.9 966.7 704.3 967.5 745.7 967.7 753.7 968.3 732.3 969.1 703.5 969.9 678.1 970.7 664.9 971.5 658.1 972.3 622.6 973.1 565.8 973.9 537.5 974.7 537.0 975.5 525.8 976.3 501.9 976.3 502.2 977.1 531.5 977.9 561.8 978.7 573.7 979.5 577.3 980.3 627.6 981.1 700.2 981.9 738.0 982.6 742.9 982.7 736.3 983.5 676.4 984.3 655.0 985.1 665.2 985.9 638.8 986.7 580.8 987.5 558.9 988.3 546.6 989.1 506.6 989.9 479.6 990.7 455.4 990.8 452.1 991.5 469.0 992.3 487.4 993.1 499.4 993.9 516.8 994.7 569.5 995.5 596.3 996.3 592.7 997.1 633.2 997.9 696.5 998.7 719.0 998.8 719.1 999.5 674.8 1000.3 635.2 1001.1 640.9 1001.9 632.6 1002.7 587.2 1003.5 573.1 1004.3 579.4 1005.1 539.8 1005.9 484.7 1006.7 475.5 1007.5 474.2 1008.3 457.5 1008.8 447.2 1009.1 459.1 1009.9 487.3 1010.7 514.9 1011.5 531.7 1012.3 569.2 1013.1 631.3 1013.9 666.6 1014.7 679.7 1015.5 700.9 1016.3 734.3 1016.6 746.5 1017.1 725.1 1017.9 695.9 1018.7 674.6 1019.5 667.1 1020.3 642.1 1021.1 584.1 1021.9 541.7 1022.7 532.9 1023.5 518.2 1023.9 505.1 1024.3 512.9 1025.1 529.8 1025.9 567.7 1026.7 602.6 1027.5 605.0 1028.3 613.6 1029.1 661.4 1029.9 707.0 1030.7 719.8 1031.5 732.9 1031.6 736.8 1032.3 711.0 1033.1 699.7 1033.9 658.6 1034.7 585.8 1035.5 560.4 1036.3 558.5 1037.1 512.6 1037.9 478.7 1038.7 452.5 1039.0 443.0 1039.5 462.1 1040.3 498.2 1041.1 517.1 1041.9 509.1 1042.7 565.1 1043.5 643.7 1044.3 661.8 1045.1 678.4 1045.9 713.8 1046.7 748.7 1047.0 762.6 1047.5 738.9 1048.3 696.8 1049.1 670.5 1049.9 669.4 1050.7 609.6 1051.5 516.1 1052.3 482.6 1053.1 479.8 1053.9 457.1 1054.4 438.4 1054.7 449.4 1055.5 479.9 1056.3 505.3 1057.1 516.3 1057.9 544.3 1058.7 610.5 1059.5 666.2 1060.3 691.1 1061.1 699.8 1061.9 728.3 1062.7 770.4 1063.5 808.1 1063.8 821.3 1064.3 794.4 1065.1 755.2 1065.9 707.7 1066.7 656.2 1067.5 625.3 1068.3 595.4 1069.1 557.7 1069.9 525.8 1070.7 488.4 1071.5 453.0 1071.7 445.5 1072.3 470.4 1073.1 493.1 1073.9 536.9 1074.7 581.8 1075.5 584.9 1076.3 647.9 1077.1 709.8 1077.9 729.2 1078.4 746.5 1078.7 734.4 1079.5 728.1 1080.3 704.8 1081.1 630.6 1081.9 596.5 1082.7 618.4 1083.5 602.0 1084.3 548.0 1085.1 521.5 1085.9 501.6 1086.7 465.4 1086.9 458.0 1087.5 473.1 1088.3 522.8 1089.1 572.8 1089.9 573.3 1090.7 569.0 1091.5 613.5 1092.3 661.0 1093.1 686.0 1093.9 714.7 1094.0 719.6 1094.7 694.4 1095.5 658.6 1096.3 607.5 1097.1 570.5 1097.9 556.9 1098.7 528.8 1099.5 484.4 1100.3 452.4 1101.1 424.2 1101.9 395.5 1101.9 396.2 1102.7 423.0 1103.5 446.0 1104.3 476.1 1105.1 507.9 1105.9 535.4 1106.7 569.2 1107.5 611.2 1108.3 654.6 1109.1 680.1 1109.9 703.7 1110.7 739.9 1111.5 775.7 1111.6 780.6 1112.3 752.0 1113.1 723.3 1113.9 697.6 1114.7 666.8 1115.5 609.6 1116.3 556.4 1117.1 549.7 1117.9 555.6 1118.7 536.4 1119.2 514.9 1119.5 521.7 1120.3 524.9 1121.1 518.0 1121.9 547.7 1122.7 622.0 1123.5 646.0 1124.3 626.6 1125.1 668.7 1125.9 727.8 1126.7 734.2 1127.0 733.3 1127.5 701.7 1128.3 698.5 1129.1 699.6 1129.9 632.0 1130.7 589.2 1131.5 621.2 1132.3 628.4 1133.1 582.0 1133.9 541.4 1134.7 514.7 1135.5 496.2 1135.9 492.7 1136.3 515.1 1137.1 565.4 1137.9 587.6 1138.7 595.7 1139.5 637.0 1140.3 685.6 1141.1 718.5 1141.9 756.6 1142.7 795.4 1143.0 809.4 1143.5 776.2 1144.3 724.3 1145.1 668.5 1145.9 623.4 1146.7 588.0 1147.5 531.8 1148.3 476.4 1149.1 444.1 1149.9 408.4 1149.9 409.8 1150.7 442.9 1151.5 478.1 1152.3 523.1 1153.1 564.0 1153.9 580.9 1154.7 602.8 1155.5 651.2 1156.3 710.6 1156.7 737.4 1157.1 727.9 1157.9 691.7 1158.7 651.2 1159.5 627.6 1160.3 606.1 1161.1 580.9 1161.9 576.8 1162.7 574.0 1163.5 524.6 1164.3 470.4 1165.1 463.7 1165.9 465.7 1166.0 464.1 1166.7 487.7 1167.5 496.8 1168.3 545.6 1169.1 611.3 1169.9 610.3 1170.7 613.1 1171.5 683.5 1172.3 737.1 1173.1 750.5 1173.1 751.3 1173.9 707.5 1174.7 713.4 1175.5 685.4 1176.3 580.5 1177.1 541.8 1177.9 557.1 1178.7 515.6 1179.5 479.6 1180.3 449.1 1180.4 445.1 1181.1 463.7 1181.9 476.0 1182.7 477.4 1183.5 523.7 1184.3 589.7 1185.1 616.3 1185.9 630.9 1186.7 646.8 1187.5 654.4 1188.3 678.6 1189.1 721.5 1189.9 757.3 1190.7 786.4 1190.8 790.3 1191.5 758.2 1192.3 721.3 1193.1 666.6 1193.9 614.7 1194.7 606.3 1195.5 612.4 1196.3 589.8 1197.1 536.6 1197.9 483.0 1198.6 451.5 1198.7 454.5 1199.5 485.8 1200.3 535.7 1201.1 596.1 1201.9 630.3 1202.7 630.8 1203.5 652.5 1204.3 707.9 1204.7 736.6 1205.1 726.5 1205.9 689.0 1206.7 637.8 1207.5 613.9 1208.3 603.0 1209.1 554.7 1209.9 503.9 1210.7 493.2 1211.5 485.4 1211.8 474.5 1212.3 485.0 1213.1 482.0 1213.9 511.8 1214.7 589.7 1215.5 626.3 1216.3 607.7 1217.1 634.1 1217.9 692.5 1218.7 724.9 1219.5 756.9 1219.8 771.3 1220.3 753.9 1221.1 726.2 1221.9 706.5 1222.7 657.8 1223.5 601.2 1224.3 601.6 1225.1 613.2 1225.9 587.3 1226.7 532.5 1227.5 489.8 1228.3 464.5 1229.1 452.8 1229.9 433.5 1229.9 433.5 1230.7 462.1 1231.5 497.3 1232.3 532.6 1233.1 538.6 1233.9 555.3 1234.7 609.1 1235.5 654.2 1236.3 681.9 1237.1 714.9 1237.9 749.9 1238.3 767.1 1238.7 744.3 1239.5 700.6 1240.3 659.3 1241.1 624.1 1241.9 579.4 1242.7 529.2 1243.5 496.1 1244.3 463.3 1245.0 432.0 1245.1 434.9 1245.9 456.2 1246.7 477.5 1247.5 508.0 1248.3 510.0 1249.1 519.5 1249.9 581.7 1250.7 637.5 1251.5 646.0 1252.3 662.2 1253.1 699.1 1253.5 714.7 1253.9 699.8 1254.7 652.7 1255.5 631.1 1256.3 656.9 1257.1 645.6 1257.9 572.2 1258.7 532.6 1259.5 554.7 1260.3 545.4 1261.1 495.9 1261.7 472.2 1261.9 477.2 1262.7 525.2 1263.5 576.6 1264.3 578.8 1265.1 577.5 1265.9 628.9 1266.7 668.5 1267.5 682.7 1268.3 716.2 1269.1 748.9 1269.3 757.9 1269.9 735.1 1270.7 705.2 1271.5 652.9 1272.3 614.7 1273.1 631.6 1273.9 616.3 1274.7 556.1 1275.5 508.9 1276.3 478.5 1277.1 465.2 1277.9 448.0 1278.1 443.5 1278.7 464.8 1279.5 491.5 1280.3 525.6 1281.1 550.1 1281.9 564.4 1282.7 597.8 1283.5 638.0 1284.3 668.8 1285.1 696.5 1285.9 725.0 1286.4 744.2 1286.7 730.2 1287.5 699.8 1288.3 669.2 1289.1 622.6 1289.9 589.2 1290.7 572.4 1291.5 526.7 1292.3 494.9 1293.1 470.7 1293.7 450.6 1293.9 458.8 1294.7 485.5 1295.5 508.9 1296.3 560.4 1297.1 605.1 1297.9 601.4 1298.7 631.6 1299.5 666.5 1300.3 694.0 1301.1 733.5 1301.7 759.6 1301.9 751.6 1302.7 720.6 1303.5 689.3 1304.3 649.6 1305.1 614.2 1305.9 557.8 1306.7 536.2 1307.5 545.1 1308.3 513.0 1309.1 478.2 1309.6 461.5 1309.9 471.3 1310.7 496.6 1311.5 528.9 1312.3 552.8 1313.1 584.4 1313.9 635.7 1314.7 643.5 1315.5 645.8 1316.3 694.8 1317.1 733.8 1317.9 765.6 1318.0 769.2 1318.7 731.9 1319.5 687.6 1320.3 651.0 1321.1 602.2 1321.9 553.3 1322.7 547.7 1323.5 517.0 1324.3 466.9 1325.1 431.6 1325.5 413.3 1325.9 429.1 1326.7 464.6 1327.5 503.7 1328.3 549.8 1329.1 599.0 1329.9 620.3 1330.7 651.9 1331.5 699.6 1332.3 744.4 1332.6 759.9 1333.1 740.4 1333.9 714.5 1334.7 684.8 1335.5 628.3 1336.3 595.9 1337.1 609.4 1337.9 592.5 1338.7 544.7 1339.5 520.5 1340.3 494.2 1341.1 467.6 1341.8 446.0 1341.9 449.1 1342.7 477.5 1343.5 507.7 1344.3 523.0 1345.1 561.6 1345.9 616.5 1346.7 622.2 1347.5 651.7 1348.3 704.7 1349.1 737.8 1349.9 772.2 1349.9 770.5 1350.7 731.9 1351.5 697.4 1352.3 662.3 1353.1 613.7 1353.9 580.8 1354.7 553.1 1355.5 524.6 1356.3 496.8 1356.5 488.5 1357.1 502.3 1357.9 513.6 1358.7 541.9 1359.5 585.8 1360.3 605.3 1361.1 616.7 1361.9 659.0 1362.7 703.5 1363.5 716.4 1364.3 724.6 1364.4 727.5 1365.1 691.3 1365.9 684.8 1366.7 679.1 1367.5 624.1 1368.3 546.6 1369.1 506.9 1369.9 488.6 1370.7 470.8 1371.5 442.9 1371.7 436.3 1372.3 456.9 1373.1 489.4 1373.9 509.2 1374.7 499.1 1375.5 545.7 1376.3 635.9 1377.1 669.5 1377.9 649.0 1378.7 674.9 1379.5 722.3 1380.3 755.7 1380.9 780.9 1381.1 767.3 1381.9 711.9 1382.7 661.9 1383.5 600.3 1384.3 518.4 1385.1 495.5 1385.9 490.8 1386.7 416.4 1387.5 347.7 1388.3 309.1 1389.1 264.7 1389.2 259.2 1389.9 321.4 1390.7 386.0 1391.5 451.4 1392.3 548.6 1393.1 613.3 1393.9 695.6 1394.7 799.4 1395.5 884.2 1396.3 970.1 1396.7 1015.0 1397.1 989.3 1397.9 938.4 1398.7 887.5 1399.5 836.4 1400.3 786.6 1401.1 738.5 1401.9 705.5 1402.7 672.7 1403.5 610.9 1404.3 544.9 1405.1 500.6 1405.9 462.2 1406.7 429.7 1407.5 391.9 1407.8 376.7 1408.3 398.2 1409.1 438.6 1409.9 468.9 1410.7 489.9 1411.5 542.4 1412.3 581.1 1413.1 602.5 1413.9 658.6 1414.7 728.3 1415.0 744.0 1415.5 719.7 1416.3 653.8 1417.1 607.8 1417.9 608.9 1418.7 576.3 1419.5 512.3 1420.3 492.7 1421.1 492.7 1421.3 487.5 1421.9 513.9 1422.7 520.2 1423.5 552.0 1424.3 630.5 1425.1 669.9 1425.9 672.7 1426.7 726.2 1427.5 784.0 1428.3 826.4 1428.7 850.7 1429.1 827.5 1429.9 776.0 1430.7 729.6 1431.5 692.4 1432.3 630.2 1433.1 582.0 1433.9 564.8 1434.7 520.1 1435.5 466.9 1436.3 427.2 1436.8 403.6 1437.1 415.1 1437.9 445.0 1438.7 475.8 1439.5 507.0 1440.3 552.5 1441.1 582.3 1441.9 589.4 1442.7 613.2 1443.5 663.3 1444.3 715.3 1444.4 723.6 1445.1 708.7 1445.9 675.6 1446.7 620.4 1447.5 569.2 1448.3 563.7 1449.1 575.9 1449.9 554.2 1450.7 508.2 1451.5 475.0 1452.3 456.4 1452.3 457.7 1453.1 484.4 1453.9 505.6 1454.7 541.3 1455.5 595.1 1456.3 616.6 1457.1 607.2 1457.9 647.0 1458.7 702.2 1459.5 728.3 1460.3 759.4 1460.6 772.2 1461.1 744.5 1461.9 702.2 1462.7 663.3 1463.5 611.7 1464.3 573.9 1465.1 534.4 1465.9 476.7 1466.7 446.0 1467.5 422.4 1467.8 409.5 1468.3 428.5 1469.1 460.6 1469.9 497.6 1470.7 520.5 1471.5 536.5 1472.3 594.1 1473.1 650.0 1473.9 675.5 1474.7 704.8 1475.1 725.7 1475.5 715.2 1476.3 689.0 1477.1 640.9 1477.9 601.7 1478.7 606.4 1479.5 611.6 1480.3 574.6 1481.1 523.5 1481.9 494.6 1482.7 477.9 1483.0 471.8 1483.5 488.2 1484.3 516.7 1485.1 552.3 1485.9 579.5 1486.7 586.8 1487.5 604.2 1488.3 642.5 1489.1 682.1 1489.7 703.7 1489.9 695.9 1490.7 664.1 1491.5 624.9 1492.3 591.7 1493.1 583.9 1493.9 583.0 1494.7 544.6 1495.5 494.1 1496.3 480.4 1497.1 467.1 1497.5 456.4 1497.9 465.0 1498.7 483.1 1499.5 508.8 1500.3 540.7 1501.1 541.7 1501.9 531.3 1502.7 551.5 1503.5 597.2 1504.3 642.8 1505.1 663.5 1505.9 663.4 1506.7 682.9 1507.5 706.9 1508.3 729.3 1508.4 732.7 1509.1 706.3 1509.9 678.0 1510.7 678.9 1511.5 629.2 1512.3 529.0 1513.1 537.4 1513.9 553.1 1514.7 511.5 1515.4 483.3 1515.5 487.4 1516.3 531.8 1517.1 551.9 1517.9 532.8 1518.7 550.1 1519.5 601.6 1520.3 641.0 1521.1 688.6 1521.9 724.5 1522.7 723.1 1523.5 728.2 1524.0 746.7 1524.3 732.4 1525.1 707.3 1525.9 671.9 1526.7 638.7 1527.5 618.2 1528.3 578.6 1529.1 517.2 1529.9 472.2 1530.7 458.2 1531.5 435.3 1531.6 432.6 1532.3 463.4 1533.1 498.3 1533.9 533.7 1534.7 569.7 1535.5 606.9 1536.3 644.2 1537.1 683.3 1537.9 724.6 1538.7 764.8 1539.5 806.2 1539.8 822.0 1540.3 795.2 1541.1 753.7 1541.9 713.4 1542.7 664.1 1543.5 627.9 1544.3 613.4 1545.1 563.4 1545.9 500.3 1546.7 476.3 1547.5 449.6 1547.9 435.0 1548.3 450.4 1549.1 477.0 1549.9 499.1 1550.7 551.1 1551.5 580.5 1552.3 567.0 1553.1 619.5 1553.9 694.4 1554.7 708.7 1555.0 706.8 1555.5 666.0 1556.3 653.1 1557.1 685.7 1557.9 641.4 1558.7 559.0 1559.5 572.9 1560.3 598.0 1561.1 536.1 1561.9 492.3 1562.7 505.3 1563.5 488.2 1563.9 467.1 1564.3 466.3 1565.1 490.7 1565.9 549.6 1566.7 570.2 1567.5 554.8 1568.3 572.4 1569.1 611.7 1569.9 647.1 1570.7 682.2 1571.5 710.5 1571.9 720.2 1572.3 699.6 1573.1 655.6 1573.9 614.3 1574.7 586.5 1575.5 575.8 1576.3 559.7 1577.1 526.4 1577.9 488.3 1578.5 463.3 1578.7 467.0 1579.5 487.1 1580.3 517.2 1581.1 552.4 1581.9 579.5 1582.7 595.9 1583.5 607.4 1584.3 625.2 1585.1 660.5 1585.9 704.7 1586.4 724.8 1586.7 716.8 1587.5 684.7 1588.3 646.7 1589.1 623.9 1589.9 599.3 1590.7 563.3 1591.5 555.5 1592.3 571.6 1593.1 552.4 1593.9 499.6 1594.2 483.1 1594.7 482.0 1595.5 515.2 1596.3 569.2 1597.1 580.2 1597.9 566.4 1598.7 598.8 1599.5 648.9 1600.3 652.2 1601.1 644.0 1601.9 678.5 1602.7 724.2 1602.9 730.7 1603.5 704.8 1604.3 648.2 1605.1 606.2 1605.9 598.9 1606.7 578.4 1607.5 533.1 1608.3 502.4 1609.1 477.2 1609.9 450.0 1609.9 448.9 1610.7 475.2 1611.5 503.0 1612.3 525.2 1613.1 554.4 1613.9 601.0 1614.7 631.5 1615.5 647.2 1616.3 681.1 1617.1 721.2 1617.9 750.7 1618.7 784.1 1619.3 811.1 1619.5 802.4 1620.3 762.6 1621.1 725.1 1621.9 684.2 1622.7 645.9 1623.5 612.0 1624.3 573.8 1625.1 536.6 1625.9 504.7 1626.7 472.7 1627.2 451.9 1627.5 462.6 1628.3 492.8 1629.1 520.7 1629.9 544.6 1630.7 555.0 1631.5 605.1 1632.3 663.7 1633.1 700.4 1633.9 735.7 1634.3 752.9 1634.7 736.7 1635.5 707.0 1636.3 662.9 1637.1 627.7 1637.9 642.1 1638.7 633.3 1639.5 579.6 1640.3 533.2 1641.1 513.5 1641.9 494.6 1642.7 471.6 1642.7 471.3 1643.5 499.0 1644.3 533.9 1645.1 553.4 1645.9 549.4 1646.7 565.7 1647.5 623.3 1648.3 673.5 1649.1 681.4 1649.9 690.2 1650.7 728.1 1650.8 731.9 1651.5 720.9 1652.3 687.8 1653.1 635.6 1653.9 615.5 1654.7 622.3 1655.5 598.4 1656.3 554.4 1657.1 532.7 1657.9 519.0 1658.3 505.7 1658.7 510.0 1659.5 513.2 1660.3 537.7 1661.1 591.7 1661.9 621.5 1662.7 605.7 1663.5 597.2 1664.3 635.4 1665.1 683.5 1665.9 709.7 1666.3 716.6 1666.7 699.3 1667.5 662.5 1668.3 629.6 1669.1 607.7 1669.9 598.4 1670.7 582.0 1671.5 550.0 1672.3 519.4 1673.1 494.5 1673.9 468.7 1674.6 454.2 1674.7 459.3 1675.5 496.6 1676.3 521.8 1677.1 525.6 1677.9 554.2 1678.7 593.1 1679.5 598.6 1680.3 623.3 1681.1 678.6 1681.9 707.5 1682.1 710.9 1682.7 678.6 1683.5 647.5 1684.3 626.3 1685.1 576.9 1685.9 556.8 1686.7 578.7 1687.5 532.6 1688.3 469.1 1689.1 456.5 1689.9 441.9 1690.1 435.5 1690.7 455.9 1691.5 481.8 1692.3 533.0 1693.1 601.4 1693.9 571.1 1694.7 538.7 1695.5 604.3 1696.3 684.5 1697.1 712.4 1697.9 742.8 1698.7 778.0 1698.9 785.1 1699.5 757.0 1700.3 719.5 1701.1 666.8 1701.9 649.9 1702.7 660.2 1703.5 606.4 1704.3 551.9 1705.1 531.8 1705.9 504.0 1706.7 475.5 1706.7 475.5 1707.5 492.4 1708.3 504.3 1709.1 543.8 1709.9 565.5 1710.7 587.5 1711.5 633.1 1712.3 659.1 1713.1 680.7 1713.9 709.3 1714.5 729.7 1714.7 719.4 1715.5 685.8 1716.3 654.1 1717.1 615.4 1717.9 584.1 1718.7 559.8 1719.5 515.5 1720.3 488.7 1721.1 467.9 1721.7 447.6 1721.9 452.3 1722.7 471.5 1723.5 485.1 1724.3 516.4 1725.1 556.1 1725.9 553.1 1726.7 566.1"/>
<path stroke="#0000ff" stroke-width="1.75" d="M222.8 -200.0 L223.6 -176.3 224.4 -135.4 225.2 -78.2 226.0 -6.2 226.8 78.6 227.6 173.9 228.4 276.8 229.2 384.4 230.0 493.4 230.8 600.5 231.6 702.7 232.4 796.8 233.2 880.2 234.0 950.4 234.8 1005.6 235.6 1044.4 236.3 1064.2 236.4 1062.8 237.2 1044.3 238.0 1013.8 238.8 971.8 239.6 919.5 240.4 858.2 241.2 789.6 242.0 715.7 242.8 638.3 243.6 558.8 244.4 482.9 245.2 413.5 246.0 346.1 246.8 283.0 247.6 231.2 248.4 189.8 249.2 161.5 250.0 144.6 250.0 144.6 250.8 163.1 251.6 201.5 252.4 246.2 253.2 294.1 254.0 366.4 254.8 446.9 255.6 524.1 256.4 604.5 257.2 668.8 258.0 709.2 258.8 745.1 259.6 768.0 259.8 770.5 260.4 760.5 261.2 755.7 262.0 742.2 262.8 693.2 263.6 676.4 264.4 704.1 265.2 699.4 266.0 681.0 266.8 670.8 266.8 670.8 267.6 683.5 268.4 685.5 269.2 696.1 270.0 723.3 270.8 763.8 271.6 783.5 272.4 784.2 273.2 799.1 274.0 819.5 274.5 831.7 274.8 815.6 275.6 768.4 276.4 716.8 277.2 671.8 278.0 637.8 278.8 592.3 279.6 546.8 280.4 506.3 281.2 451.2 282.0 405.7 282.8 380.3 283.6 345.5 283.8 338.1 284.4 368.3 285.2 405.5 286.0 440.5 286.8 477.2 287.6 525.3 288.4 578.7 289.2 627.2 290.0 664.2 290.8 694.4 291.6 737.3 292.4 788.8 293.2 836.3 293.3 843.5 294.0 816.7 294.8 793.6 295.6 773.4 296.4 724.3 297.2 653.6 298.0 620.2 298.8 624.0 299.6 626.4 300.4 605.9 301.2 574.9 301.7 553.7 302.0 557.2 302.8 560.8 303.6 562.7 304.4 581.8 305.2 615.8 306.0 632.5 306.8 629.9 307.6 643.6 308.4 684.5 309.2 711.4 310.0 710.2 310.5 709.2 310.8 695.6 311.6 676.4 312.4 686.0 313.2 680.1 314.0 634.9 314.8 603.5 315.6 602.3 316.4 581.0 317.2 536.7 318.0 533.0 318.8 554.1 319.6 537.2 319.8 528.0 320.4 519.2 321.2 517.0 322.0 552.5 322.8 568.4 323.6 559.4 324.4 597.5 325.2 651.1 326.0 655.5 326.8 663.7 327.6 707.7 328.4 718.8 329.2 703.5 329.4 703.4 330.0 664.7 330.8 640.0 331.6 619.3 332.4 610.6 333.2 626.8 334.0 606.0 334.8 521.7 335.6 453.6 336.4 426.4 337.2 421.2 338.0 402.6 338.0 403.8 338.8 424.5 339.6 453.6 340.4 474.4 341.2 473.2 342.0 486.1 342.8 520.3 343.6 554.8 344.4 581.5 345.2 604.5 346.0 627.5 346.8 650.6 347.6 674.0 347.9 682.2 348.4 666.9 349.2 644.5 350.0 622.1 350.8 596.3 351.6 567.2 352.4 544.3 353.2 533.6 354.0 526.3 354.8 511.6 355.0 506.7 355.6 523.1 356.4 537.9 357.2 547.5 358.0 556.4 358.8 580.3 359.6 623.7 360.4 668.3 361.2 687.6 362.0 692.1 362.8 718.8 363.6 750.0 364.4 774.4 365.1 798.7 365.2 795.4 366.0 755.5 366.8 717.8 367.6 663.3 368.4 608.5 369.2 613.3 370.0 599.5 370.8 534.7 371.6 483.4 372.4 454.2 373.2 431.6 373.5 419.9 374.0 435.5 374.8 459.8 375.6 495.6 376.4 514.4 377.2 543.7 378.0 599.4 378.8 602.3 379.6 587.3 380.4 646.4 381.2 710.3 382.0 724.9 382.8 749.9 383.6 781.4 383.6 781.0 384.4 747.5 385.2 708.6 386.0 670.8 386.8 677.3 387.6 683.1 388.4 622.0 389.2 543.6 390.0 508.0 390.8 495.7 391.3 485.6 391.6 494.1 392.4 514.7 393.2 545.6 394.0 582.4 394.8 593.6 395.6 584.1 396.4 594.5 397.2 639.4 398.0 684.2 398.8 699.5 399.6 705.1 400.4 724.0 400.4 724.0 401.2 697.7 402.0 680.8 402.8 663.5 403.6 634.6 404.4 589.0 405.2 540.2 406.0 511.7 406.8 514.0 407.6 516.1 408.4 496.5 409.0 468.8 409.2 473.0 410.0 477.0 410.8 473.1 411.6 488.6 412.4 544.7 413.2 623.2 414.0 687.2 414.8 704.1 415.6 697.9 416.4 704.8 417.1 729.3 417.2 721.8 418.0 691.7 418.8 687.0 419.6 688.2 420.4 649.1 421.2 578.5 422.0 530.5 422.8 508.4 423.6 488.8 424.4 466.6 425.2 438.7 426.0 411.2 426.0 409.8 426.8 430.2 427.6 436.3 428.4 474.3 429.2 525.6 430.0 532.1 430.8 554.0 431.6 609.2 432.4 643.5 433.2 655.5 434.0 686.7 434.8 720.8 435.3 739.5 435.6 728.1 436.4 701.4 437.2 663.3 438.0 630.5 438.8 635.5 439.6 622.1 440.4 574.2 441.2 540.0 442.0 535.7 442.8 515.5 443.6 471.2 444.4 442.2 444.7 438.9 445.2 462.6 446.0 502.0 446.8 505.7 447.6 488.5 448.4 520.7 449.2 581.7 450.0 609.9 450.8 617.8 451.6 644.6 452.4 662.8 453.2 658.0 454.0 673.5 454.2 684.0 454.8 673.0 455.6 665.8 456.4 635.0 457.2 596.8 458.0 568.1 458.8 529.7 459.6 497.3 460.4 484.7 461.2 466.3 461.4 459.7 462.0 471.7 462.8 481.4 463.6 497.4 464.4 519.4 465.2 552.2 466.0 595.4 466.8 634.4 467.6 655.0 468.4 658.6 469.2 672.0 470.0 702.8 470.8 734.9 471.3 753.2 471.6 743.8 472.4 717.0 473.2 700.2 474.0 672.8 474.8 615.1 475.6 564.7 476.4 546.9 477.2 550.6 478.0 547.0 478.8 521.0 479.6 483.8 480.4 449.8 480.4 448.9 481.2 467.1 482.0 501.1 482.8 551.7 483.6 590.8 484.4 591.8 485.2 583.9 486.0 612.5 486.8 673.1 487.6 720.5 488.4 747.1 488.7 755.8 489.2 738.7 490.0 718.5 490.8 686.3 491.6 626.8 492.4 591.6 493.2 606.2 494.0 610.8 494.8 569.4 495.6 538.5 496.4 538.0 497.2 508.4 498.0 458.6 498.3 448.4 498.8 469.6 499.6 527.3 500.4 563.7 501.2 582.1 502.0 656.9 502.8 727.9 503.6 725.6 504.4 751.6 505.2 801.4 506.0 844.3 506.4 866.6 506.8 841.2 507.6 788.2 508.4 752.4 509.2 709.8 510.0 642.6 510.8 603.3 511.6 552.7 512.4 475.5 513.2 441.5 514.0 418.0 514.8 372.3 515.6 329.4 515.8 318.9 516.4 342.9 517.2 376.5 518.0 412.5 518.8 436.4 519.6 468.2 520.4 523.8 521.2 574.8 522.0 602.1 522.8 615.1 523.6 644.6 524.4 693.7 525.2 742.5 526.0 783.4 526.2 794.0 526.8 772.8 527.6 750.3 528.4 715.4 529.2 657.4 530.0 619.4 530.8 616.7 531.6 621.4 532.4 612.7 533.2 582.3 534.0 545.7 534.8 514.8 535.5 492.0 535.6 493.9 536.4 511.7 537.2 529.8 538.0 551.7 538.8 577.9 539.6 608.2 540.4 643.8 541.2 672.3 542.0 686.1 542.8 702.4 542.9 705.2 543.6 681.3 544.4 662.1 545.2 633.2 546.0 607.0 546.8 590.0 547.6 547.2 548.4 495.4 549.2 490.7 550.0 489.0 550.8 455.6 551.6 429.3 552.4 406.9 552.4 407.5 553.2 434.0 554.0 453.7 554.8 481.4 555.6 551.8 556.4 578.4 557.2 563.0 558.0 591.2 558.8 640.9 559.6 668.4 560.3 690.5 560.4 686.0 561.2 677.2 562.0 674.7 562.8 635.4 563.6 585.6 564.4 585.6 565.2 599.4 566.0 560.9 566.8 494.7 567.6 478.4 568.4 498.9 569.2 497.2 569.4 491.3 570.0 500.0 570.8 497.2 571.6 512.4 572.4 547.9 573.2 569.9 574.0 580.9 574.8 612.0 575.6 657.4 576.4 680.9 577.2 687.0 578.0 707.2 578.8 740.0 578.9 743.4 579.6 719.1 580.4 683.1 581.2 652.6 582.0 636.1 582.8 609.2 583.6 568.3 584.4 537.9 585.2 521.3 586.0 500.2 586.8 475.1 587.2 461.8 587.6 475.4 588.4 506.6 589.2 535.0 590.0 562.6 590.8 591.3 591.6 620.5 592.4 652.4 593.2 688.5 594.0 726.7 594.8 762.4 595.6 797.0 596.4 832.9 596.8 853.2 597.2 833.6 598.0 791.3 598.8 753.1 599.6 705.5 600.4 634.0 601.2 569.9 602.0 548.7 602.8 568.5 603.6 564.7 604.4 489.9 605.2 426.9 606.0 393.7 606.7 360.8 606.8 363.3 607.6 400.8 608.4 446.9 609.2 504.4 610.0 537.5 610.8 526.5 611.6 541.5 612.4 626.1 613.2 705.5 614.0 742.2 614.8 780.9 615.3 810.3 615.6 798.0 616.4 764.4 617.2 732.3 618.0 689.5 618.8 642.7 619.6 642.9 620.4 651.3 621.2 613.4 622.0 550.1 622.8 520.0 623.6 502.8 624.4 464.0 624.7 448.2 625.2 457.8 626.0 508.9 626.8 591.9 627.6 623.4 628.4 603.3 629.2 631.1 630.0 687.6 630.8 725.3 631.6 767.7 632.4 807.4 632.4 808.3 633.2 765.4 634.0 719.6 634.8 664.9 635.6 634.0 636.4 594.5 637.2 553.0 638.0 541.6 638.8 503.5 639.6 441.0 640.4 404.6 641.2 372.7 641.6 353.2 642.0 365.6 642.8 392.0 643.6 412.7 644.4 440.4 645.2 460.2 646.0 497.9 646.8 556.7 647.6 601.9 648.4 618.4 649.2 637.2 650.0 676.0 650.8 719.9 650.8 719.1 651.6 705.4 652.4 677.6 653.2 630.1 654.0 582.3 654.8 562.7 655.6 567.4 656.4 574.9 657.2 561.2 658.0 528.2 658.8 491.7 659.5 466.6 659.6 468.0 660.4 484.8 661.2 511.6 662.0 539.6 662.8 557.6 663.6 573.8 664.4 600.2 665.2 628.8 666.0 649.6 666.8 674.4 667.6 708.9 668.4 732.6 669.2 742.0 669.2 741.3 670.0 691.3 670.8 664.1 671.6 645.6 672.4 603.8 673.2 573.7 674.0 572.0 674.8 539.3 675.6 484.0 676.4 455.3 676.6 450.4 677.2 473.4 678.0 474.8 678.8 473.8 679.6 548.0 680.4 631.8 681.2 645.5 682.0 653.6 682.8 674.4 683.6 674.4 684.4 712.2 685.2 762.1 686.0 794.6 686.1 799.0 686.8 752.4 687.6 694.6 688.4 634.1 689.2 590.3 690.0 539.1 690.8 494.4 691.6 452.8 692.4 409.6 693.2 367.8 693.3 361.3 694.0 383.4 694.8 409.0 695.6 446.1 696.4 469.0 697.2 483.4 698.0 523.6 698.8 565.9 699.6 584.7 700.4 597.3 701.2 630.8 702.0 675.6 702.8 706.5 703.6 735.8 704.4 768.5 704.6 775.2 705.2 751.8 706.0 723.7 706.8 694.0 707.6 659.9 708.4 632.5 709.2 610.7 710.0 588.2 710.8 566.1 711.6 543.2 712.4 517.0 713.2 488.9 713.5 477.6 714.0 487.7 714.8 505.8 715.6 526.7 716.4 551.9 717.2 580.7 718.0 610.9 718.8 640.0 719.6 663.2 720.4 683.4 721.2 706.2 721.4 711.3 722.0 678.2 722.8 636.5 723.6 608.4 724.4 593.2 725.2 556.1 726.0 499.7 726.8 456.8 727.6 437.5 728.4 417.0 728.9 399.8 729.2 410.1 730.0 439.0 730.8 463.3 731.6 462.1 732.4 489.0 733.2 569.3 734.0 616.4 734.8 624.9 735.6 645.9 736.4 677.8 737.2 697.2 738.0 731.3 738.8 771.6 739.5 799.5 739.6 792.6 740.4 753.9 741.2 710.9 742.0 650.7 742.8 618.1 743.6 609.1 744.4 575.5 745.2 538.6 746.0 502.6 746.8 456.5 747.6 423.7 748.4 394.2 748.5 389.3 749.2 412.5 750.0 446.2 750.8 503.7 751.6 531.8 752.4 521.8 753.2 543.0 754.0 573.6 754.8 589.7 755.6 628.4 756.4 695.8 757.2 741.6 758.0 759.5 758.1 762.4 758.8 729.1 759.6 705.0 760.4 676.7 761.2 631.3 762.0 612.6 762.8 617.1 763.6 594.9 764.4 545.7 765.2 510.7 766.0 487.9 766.7 470.7 766.8 474.8 767.6 511.4 768.4 552.8 769.2 577.9 770.0 591.6 770.8 623.6 771.6 669.6 772.4 703.4 773.2 732.7 774.0 767.8 774.5 791.5 774.8 778.8 775.6 741.8 776.4 712.6 777.2 685.1 778.0 635.5 778.8 577.6 779.6 541.7 780.4 529.7 781.2 517.9 782.0 469.6 782.8 417.9 783.6 399.3 784.4 375.0 784.8 361.6 785.2 377.6 786.0 407.3 786.8 440.5 787.6 481.8 788.4 515.6 789.2 532.7 790.0 556.8 790.8 598.8 791.6 639.0 792.4 668.6 793.2 704.0 793.3 711.0 794.0 700.2 794.8 694.0 795.6 664.7 796.4 615.6 797.2 599.0 798.0 607.6 798.8 580.2 799.6 519.8 800.4 500.0 801.2 511.4 802.0 497.4 802.3 483.8 802.8 490.1 803.6 517.7 804.4 562.3 805.2 567.1 806.0 563.4 806.8 625.3 807.6 677.1 808.4 665.1 809.2 688.1 810.0 725.2 810.8 752.9 810.8 751.8 811.6 721.6 812.4 693.7 813.2 685.2 814.0 648.4 814.8 595.8 815.6 587.8 816.4 559.2 817.2 493.7 818.0 463.9 818.8 467.0 819.6 443.8 820.4 422.1 821.2 399.4 821.3 395.2 822.0 421.4 822.8 455.6 823.6 477.5 824.4 501.2 825.2 548.0 826.0 592.0 826.8 630.4 827.6 670.2 828.4 707.7 829.2 747.3 829.2 748.7 830.0 718.2 830.8 685.4 831.6 648.8 832.4 615.9 833.2 600.6 834.0 590.7 834.8 565.6 835.6 518.4 836.4 471.2 837.2 442.6 837.6 436.1 838.0 453.2 838.8 499.2 839.6 548.1 840.4 571.5 841.2 559.3 842.0 547.1 842.8 562.4 843.6 606.0 844.4 663.2 845.2 711.3 846.0 733.5 846.8 738.2 847.4 748.2 847.6 738.8 848.4 705.5 849.2 685.4 850.0 656.6 850.8 628.3 851.6 607.0 852.4 562.5 853.2 514.4 854.0 502.0 854.8 489.5 855.3 465.9 855.6 470.4 856.4 487.4 857.2 533.6 858.0 568.5 858.8 570.9 859.6 612.1 860.4 676.1 861.2 685.2 862.0 694.6 862.8 739.3 863.6 776.1 864.3 805.7 864.4 799.9 865.2 755.6 866.0 720.5 866.8 700.1 867.6 635.7 868.4 560.1 869.2 539.4 870.0 521.5 870.8 465.4 871.6 422.7 872.4 396.5 873.2 361.9 873.7 340.3 874.0 353.3 874.8 384.0 875.6 410.7 876.4 475.2 877.2 527.5 878.0 516.1 878.8 518.8 879.6 573.1 880.4 648.9 881.2 696.7 882.0 734.9 882.8 776.7 882.9 783.1 883.6 756.1 884.4 723.6 885.2 672.1 886.0 626.5 886.8 630.5 887.6 637.1 888.4 615.7 889.2 569.2 890.0 510.4 890.8 466.6 891.6 451.3 892.3 449.6 892.4 458.3 893.2 507.4 894.0 536.2 894.8 534.2 895.6 525.6 896.4 547.9 897.2 607.4 898.0 656.9 898.8 684.3 899.6 711.7 900.0 729.1 900.4 715.3 901.2 684.2 902.0 649.7 902.8 620.4 903.6 600.1 904.4 581.3 905.2 553.3 906.0 518.9 906.8 495.4 907.6 472.1 908.4 447.5 908.6 441.8 909.2 458.4 910.0 478.6 910.8 499.4 911.6 519.2 912.4 539.4 913.2 581.3 914.0 631.7 914.8 646.1 915.6 643.3 916.4 669.9 917.2 703.3 917.8 724.4 918.0 717.8 918.8 689.4 919.6 663.9 920.4 654.6 921.2 649.8 922.0 583.7 922.8 500.5 923.6 470.6 924.4 499.6 925.2 495.5 926.0 459.1 926.8 431.7 927.4 415.0 927.6 421.8 928.4 445.6 929.2 459.3 930.0 477.2 930.8 540.5 931.6 596.1 932.4 585.8 933.2 582.7 934.0 640.3 934.8 695.6 935.4 713.0 935.6 705.6 936.4 674.8 937.2 663.3 938.0 640.5 938.8 597.3 939.6 598.7 940.4 623.6 941.2 598.2 942.0 547.4 942.8 530.2 943.6 519.2 944.4 501.5 944.9 497.2 945.2 511.6 946.0 558.8 946.8 584.9 947.6 577.7 948.4 578.6 949.2 608.5 950.0 657.9 950.8 705.2 951.6 732.1 952.4 754.7 953.1 779.4 953.2 773.8 954.0 742.3 954.8 706.2 955.6 678.6 956.4 661.7 957.2 638.4 958.0 605.5 958.8 570.9 959.6 542.0 960.4 518.6 961.2 494.2 962.0 467.9 962.8 442.7 963.1 432.9 963.6 449.0 964.4 471.2 965.2 489.8 966.0 527.2 966.8 562.8 967.6 593.9 968.4 632.3 969.2 666.9 970.0 693.7 970.8 725.1 971.5 755.4 971.6 752.3 972.4 725.4 973.2 699.7 974.0 668.8 974.8 643.4 975.6 638.3 976.4 612.0 977.2 561.1 978.0 541.2 978.8 543.8 979.6 518.4 980.1 492.8 980.4 494.1 981.2 513.0 982.0 552.2 982.8 563.8 983.6 578.3 984.4 645.7 985.2 681.9 986.0 646.8 986.8 650.1 987.6 713.3 988.4 744.3 989.2 769.2 990.0 795.2 990.0 793.4 990.8 752.9 991.6 705.4 992.4 639.5 993.2 628.8 994.0 630.5 994.8 576.1 995.6 531.2 996.4 495.3 997.2 458.1 997.9 431.3 998.0 435.5 998.8 457.9 999.6 486.4 1000.4 520.4 1001.2 535.0 1002.0 561.1 1002.8 603.6 1003.6 623.3 1004.4 620.9 1005.2 646.6 1006.0 688.8 1006.8 721.1 1007.6 749.5 1007.6 748.9 1008.4 718.1 1009.2 690.8 1010.0 657.4 1010.8 607.4 1011.6 566.3 1012.4 553.5 1013.2 557.2 1014.0 548.4 1014.8 519.5 1015.6 480.5 1015.7 474.3 1016.4 478.1 1017.2 476.1 1018.0 480.3 1018.8 506.1 1019.6 555.6 1020.4 605.9 1021.2 640.5 1022.0 654.2 1022.8 656.2 1023.6 664.0 1024.4 680.2 1025.2 702.6 1025.3 705.6 1026.0 680.2 1026.8 657.7 1027.6 644.5 1028.4 645.7 1029.2 636.6 1030.0 587.6 1030.8 520.8 1031.6 482.8 1032.4 470.8 1033.2 471.2 1034.0 458.2 1034.8 438.8 1034.8 440.2 1035.6 472.4 1036.4 497.7 1037.2 529.7 1038.0 594.4 1038.8 622.7 1039.6 646.1 1040.4 687.0 1041.2 726.4 1041.5 740.3 1042.0 723.1 1042.8 694.1 1043.6 673.2 1044.4 664.8 1045.2 618.8 1046.0 571.8 1046.8 575.8 1047.6 589.3 1048.4 550.8 1049.2 483.6 1050.0 459.7 1050.8 457.2 1051.6 440.4 1052.0 429.1 1052.4 440.7 1053.2 466.5 1054.0 501.0 1054.8 547.5 1055.6 558.2 1056.4 553.4 1057.2 593.0 1058.0 652.7 1058.8 679.3 1059.6 705.0 1060.4 739.1 1060.8 754.6 1061.2 737.0 1062.0 706.7 1062.8 672.8 1063.6 637.5 1064.4 616.0 1065.2 577.3 1066.0 532.2 1066.8 523.5 1067.6 521.6 1068.4 488.8 1068.9 459.0 1069.2 462.1 1070.0 474.5 1070.8 498.6 1071.6 529.5 1072.4 568.8 1073.2 607.0 1074.0 632.6 1074.8 659.0 1075.6 697.9 1076.4 727.0 1077.2 747.9 1078.0 776.9 1078.8 809.1 1078.9 812.8 1079.6 779.8 1080.4 742.3 1081.2 716.4 1082.0 696.2 1082.8 657.7 1083.6 605.8 1084.4 553.7 1085.2 511.6 1086.0 482.4 1086.8 459.1 1087.6 432.2 1088.4 407.3 1089.2 379.3 1089.3 375.8 1090.0 415.3 1090.8 455.1 1091.6 501.2 1092.4 570.8 1093.2 630.2 1094.0 663.6 1094.8 707.5 1095.6 762.7 1096.4 818.6 1096.8 849.7 1097.2 830.6 1098.0 788.2 1098.8 752.9 1099.6 713.7 1100.4 649.9 1101.2 607.6 1102.0 604.5 1102.8 579.8 1103.6 512.8 1104.4 470.8 1105.2 442.6 1105.7 419.0 1106.0 425.5 1106.8 439.5 1107.6 458.1 1108.4 500.7 1109.2 546.1 1110.0 544.0 1110.8 545.5 1111.6 597.9 1112.4 634.7 1113.2 633.6 1114.0 669.5 1114.7 724.9 1114.8 726.2 1115.6 716.7 1116.4 659.7 1117.2 617.2 1118.0 604.0 1118.8 567.8 1119.6 549.5 1120.4 572.2 1121.2 553.0 1122.0 498.5 1122.8 473.4 1123.1 471.2 1123.6 492.7 1124.4 514.9 1125.2 528.2 1126.0 565.2 1126.8 604.8 1127.6 616.4 1128.4 628.3 1129.2 657.7 1130.0 683.5 1130.8 709.8 1131.4 730.2 1131.6 724.3 1132.4 699.7 1133.2 681.6 1134.0 665.4 1134.8 633.3 1135.6 591.8 1136.4 561.5 1137.2 547.8 1138.0 545.6 1138.8 533.9 1139.6 493.7 1140.4 465.3 1141.2 454.5 1141.8 441.2 1142.0 447.2 1142.8 472.4 1143.6 499.8 1144.4 537.9 1145.2 578.0 1146.0 595.2 1146.8 600.9 1147.6 614.0 1148.4 656.2 1149.2 701.2 1150.0 732.4 1150.7 760.4 1150.8 756.5 1151.6 723.5 1152.4 681.8 1153.2 644.7 1154.0 633.3 1154.8 614.3 1155.6 585.7 1156.4 555.3 1157.2 507.9 1158.0 465.7 1158.8 450.9 1159.0 448.1 1159.6 471.0 1160.4 484.0 1161.2 504.7 1162.0 569.2 1162.8 600.0 1163.6 575.0 1164.4 576.8 1165.2 607.8 1166.0 624.6 1166.8 663.7 1167.6 705.6 1168.4 730.8 1168.7 739.5 1169.2 718.7 1170.0 689.4 1170.8 664.4 1171.6 623.6 1172.4 547.6 1173.2 527.7 1174.0 557.1 1174.8 537.3 1175.6 497.0 1176.4 470.4 1177.0 450.6 1177.2 454.9 1178.0 478.3 1178.8 494.8 1179.6 500.7 1180.4 538.9 1181.2 593.0 1182.0 614.3 1182.8 626.2 1183.6 656.8 1184.4 684.4 1185.2 705.2 1186.0 734.1 1186.6 755.7 1186.8 748.4 1187.6 718.5 1188.4 697.5 1189.2 662.1 1190.0 603.1 1190.8 576.0 1191.6 575.4 1192.4 556.1 1193.2 518.5 1194.0 492.5 1194.8 469.4 1195.2 458.1 1195.6 471.0 1196.4 495.2 1197.2 534.3 1198.0 573.4 1198.8 570.7 1199.6 561.6 1200.4 588.3 1201.2 648.7 1202.0 690.0 1202.8 712.8 1203.6 739.9 1203.9 750.9 1204.4 729.1 1205.2 692.2 1206.0 654.3 1206.8 625.7 1207.6 602.9 1208.4 576.1 1209.2 549.2 1210.0 507.6 1210.8 461.6 1211.6 442.0 1212.4 420.3 1212.8 407.4 1213.2 424.7 1214.0 457.5 1214.8 496.6 1215.6 550.4 1216.4 583.5 1217.2 594.6 1218.0 625.8 1218.8 671.0 1219.6 710.9 1220.4 757.4 1221.2 800.9 1221.5 817.1 1222.0 794.8 1222.8 764.5 1223.6 724.6 1224.4 672.4 1225.2 641.2 1226.0 609.2 1226.8 561.5 1227.6 539.8 1228.4 542.9 1229.2 527.1 1229.9 490.4 1230.0 491.7 1230.8 491.9 1231.6 509.6 1232.4 548.7 1233.2 564.3 1234.0 562.8 1234.8 606.6 1235.6 689.4 1236.4 721.3 1237.2 694.5 1238.0 695.0 1238.8 741.3 1238.9 748.7 1239.6 736.3 1240.4 707.7 1241.2 679.7 1242.0 661.2 1242.8 606.7 1243.6 540.5 1244.4 532.6 1245.2 553.1 1246.0 515.9 1246.8 465.9 1247.6 441.7 1248.4 417.7 1248.9 403.2 1249.2 416.4 1250.0 448.2 1250.8 489.6 1251.6 521.8 1252.4 525.1 1253.2 551.9 1254.0 602.2 1254.8 654.0 1255.6 698.5 1256.4 731.4 1257.2 762.0 1258.0 800.1 1258.1 804.4 1258.8 771.7 1259.6 730.6 1260.4 691.9 1261.2 663.6 1262.0 643.6 1262.8 619.1 1263.6 587.6 1264.4 544.8 1265.2 503.6 1266.0 471.3 1266.8 442.8 1267.1 430.1 1267.6 441.8 1268.4 461.6 1269.2 489.4 1270.0 529.8 1270.8 554.5 1271.6 550.5 1272.4 549.7 1273.2 574.0 1274.0 618.5 1274.8 657.7 1275.6 686.0 1276.4 709.4 1276.5 712.0 1277.2 686.2 1278.0 645.2 1278.8 604.5 1279.6 590.5 1280.4 591.1 1281.2 567.5 1282.0 535.6 1282.8 530.6 1283.6 520.1 1284.4 472.9 1284.9 441.3 1285.2 438.5 1286.0 458.9 1286.8 519.0 1287.6 557.4 1288.4 569.0 1289.2 593.4 1290.0 587.0 1290.8 552.3 1291.6 593.1 1292.4 692.7 1293.2 720.1 1294.0 708.0 1294.7 723.3 1294.8 720.5 1295.6 696.2 1296.4 650.5 1297.2 633.0 1298.0 666.0 1298.8 644.1 1299.6 568.2 1300.4 539.9 1301.2 552.6 1302.0 532.6 1302.8 503.1 1303.4 492.0 1303.6 498.9 1304.4 527.8 1305.2 526.5 1306.0 523.0 1306.8 571.8 1307.6 644.5 1308.4 686.0 1309.2 691.9 1310.0 707.0 1310.8 732.0 1311.6 761.8 1311.8 768.5 1312.4 745.3 1313.2 711.8 1314.0 691.0 1314.8 681.1 1315.6 653.4 1316.4 618.9 1317.2 591.5 1318.0 561.6 1318.8 525.2 1319.6 491.5 1319.9 480.8 1320.4 489.7 1321.2 515.4 1322.0 555.8 1322.8 600.1 1323.6 627.9 1324.4 639.2 1325.2 647.5 1326.0 665.0 1326.8 693.1 1327.6 725.3 1328.4 756.4 1328.5 760.5 1329.2 738.0 1330.0 711.2 1330.8 687.0 1331.6 661.8 1332.4 632.0 1333.2 609.7 1334.0 593.0 1334.8 562.8 1335.6 531.8 1336.4 517.4 1337.2 496.4 1338.0 473.6 1338.5 461.3 1338.8 471.4 1339.6 490.5 1340.4 514.0 1341.2 540.0 1342.0 570.8 1342.8 603.6 1343.6 609.8 1344.4 649.9 1345.2 701.8 1346.0 724.8 1346.8 755.3 1346.8 757.1 1347.6 724.8 1348.4 682.3 1349.2 641.4 1350.0 605.9 1350.8 612.7 1351.6 632.1 1352.4 586.6 1353.2 489.1 1354.0 454.9 1354.8 445.5 1355.6 419.2 1355.7 414.5 1356.4 436.3 1357.2 466.1 1358.0 494.0 1358.8 523.0 1359.6 529.9 1360.4 534.3 1361.2 581.8 1362.0 662.9 1362.8 698.2 1363.6 705.4 1364.4 731.7 1365.2 764.9 1365.3 769.2 1366.0 740.1 1366.8 703.0 1367.6 658.0 1368.4 638.7 1369.2 650.4 1370.0 628.4 1370.8 578.7 1371.6 534.2 1372.4 493.7 1373.2 449.7 1373.7 427.9 1374.0 433.4 1374.8 470.3 1375.6 531.1 1376.4 591.3 1377.2 632.4 1378.0 643.2 1378.8 640.0 1379.6 652.2 1380.4 692.0 1380.4 691.1 1381.2 645.3 1382.0 616.8 1382.8 586.5 1383.6 528.8 1384.4 440.6 1385.2 352.9 1386.0 288.6 1386.8 252.6 1387.6 229.3 1388.4 189.4 1389.2 144.2 1389.2 144.2 1390.0 208.6 1390.8 272.5 1391.6 328.0 1392.4 388.8 1393.2 471.9 1394.0 555.0 1394.8 631.7 1395.6 708.6 1396.4 781.0 1397.2 839.9 1398.0 910.3 1398.8 997.6 1399.6 1079.4 1400.3 1150.0 1400.4 1141.6 1401.2 1074.7 1402.0 1000.9 1402.8 933.7 1403.6 894.6 1404.4 840.7 1405.2 762.2 1406.0 692.8 1406.8 636.3 1407.6 565.7 1408.4 488.8 1409.2 452.6 1410.0 415.3 1410.8 353.1 1411.6 298.3 1411.7 291.7 1412.4 322.6 1413.2 351.4 1414.0 390.0 1414.8 424.1 1415.6 462.2 1416.4 538.1 1417.2 585.2 1418.0 584.5 1418.8 623.5 1419.6 694.6 1420.2 729.2 1420.4 719.5 1421.2 667.5 1422.0 639.7 1422.8 636.6 1423.6 597.4 1424.4 564.5 1425.2 573.9 1426.0 549.7 1426.8 493.7 1427.6 464.8 1427.6 464.2 1428.4 503.9 1429.2 538.7 1430.0 575.1 1430.8 641.4 1431.6 691.9 1432.4 699.3 1433.2 722.3 1434.0 772.0 1434.8 818.2 1435.6 860.9 1435.6 861.1 1436.4 806.7 1437.2 756.7 1438.0 700.6 1438.8 632.1 1439.6 582.3 1440.4 552.1 1441.2 511.0 1442.0 445.4 1442.8 400.1 1443.6 363.0 1444.2 330.9 1444.4 338.6 1445.2 369.8 1446.0 405.5 1446.8 440.2 1447.6 461.6 1448.4 484.4 1449.2 524.1 1450.0 574.3 1450.8 620.6 1451.6 651.1 1452.4 679.1 1453.2 715.8 1454.0 755.1 1454.4 774.4 1454.8 760.1 1455.6 731.9 1456.4 701.8 1457.2 682.3 1458.0 682.2 1458.8 653.0 1459.6 591.5 1460.4 542.7 1461.2 529.2 1462.0 517.7 1462.8 507.6 1463.4 504.9 1463.6 519.8 1464.4 559.6 1465.2 551.4 1466.0 526.9 1466.8 550.2 1467.6 580.8 1468.4 600.0 1469.2 667.1 1470.0 736.2 1470.8 739.2 1471.6 735.3 1472.0 748.6 1472.4 734.3 1473.2 695.3 1474.0 626.1 1474.8 590.2 1475.6 610.6 1476.4 584.9 1477.2 509.7 1478.0 476.8 1478.8 460.3 1479.6 430.6 1480.1 413.3 1480.4 425.4 1481.2 453.9 1482.0 494.1 1482.8 527.9 1483.6 532.8 1484.4 567.6 1485.2 623.3 1486.0 651.8 1486.8 662.1 1487.6 704.2 1488.4 751.9 1489.2 784.9 1490.0 820.5 1490.1 826.7 1490.8 790.0 1491.6 746.1 1492.4 711.8 1493.2 670.0 1494.0 609.2 1494.8 567.1 1495.6 547.5 1496.4 521.1 1497.2 480.5 1497.7 454.0 1498.0 461.0 1498.8 478.3 1499.6 498.9 1500.4 529.3 1501.2 571.3 1502.0 609.5 1502.8 632.5 1503.6 647.8 1504.4 671.1 1505.2 702.9 1506.0 737.0 1506.3 749.7 1506.8 731.2 1507.6 702.5 1508.4 674.7 1509.2 646.5 1510.0 614.9 1510.8 582.7 1511.6 552.1 1512.4 520.5 1513.2 493.8 1514.0 471.3 1514.8 446.8 1515.6 421.2 1515.6 420.0 1516.4 440.1 1517.2 461.9 1518.0 502.3 1518.8 528.4 1519.6 550.6 1520.4 572.9 1521.2 581.4 1522.0 608.5 1522.8 674.6 1523.6 720.6 1524.4 741.2 1525.2 768.2 1525.9 795.7 1526.0 790.1 1526.8 755.5 1527.6 712.6 1528.4 656.5 1529.2 635.4 1530.0 643.6 1530.8 613.9 1531.6 559.8 1532.4 514.4 1533.2 491.5 1534.0 470.0 1534.8 443.4 1534.9 438.8 1535.6 457.6 1536.4 484.2 1537.2 517.7 1538.0 516.6 1538.8 514.5 1539.6 577.3 1540.4 649.5 1541.2 648.6 1542.0 649.0 1542.8 682.9 1543.6 713.0 1543.8 721.0 1544.4 702.6 1545.2 678.6 1546.0 656.2 1546.8 641.2 1547.6 595.7 1548.4 546.9 1549.2 552.2 1550.0 559.9 1550.8 528.6 1551.3 503.8 1551.6 505.7 1552.4 525.1 1553.2 551.2 1554.0 558.4 1554.8 569.9 1555.6 595.6 1556.4 608.5 1557.2 623.3 1558.0 659.6 1558.8 680.9 1559.6 693.6 1560.4 713.2 1560.6 718.5 1561.2 697.9 1562.0 667.3 1562.8 640.7 1563.6 630.6 1564.4 620.7 1565.2 589.2 1566.0 544.5 1566.8 507.4 1567.6 487.7 1568.4 472.0 1569.2 450.4 1569.3 446.9 1570.0 467.0 1570.8 496.7 1571.6 525.3 1572.4 539.3 1573.2 549.9 1574.0 578.0 1574.8 614.4 1575.6 645.2 1576.4 675.3 1577.2 708.6 1578.0 736.8 1578.8 766.2 1578.9 769.7 1579.6 740.5 1580.4 703.9 1581.2 659.7 1582.0 622.9 1582.8 608.9 1583.6 604.2 1584.4 591.8 1585.2 545.3 1586.0 486.4 1586.8 454.8 1587.4 449.1 1587.6 457.0 1588.4 493.7 1589.2 496.8 1590.0 487.0 1590.8 524.7 1591.6 574.6 1592.4 578.8 1593.2 583.9 1594.0 630.6 1594.8 656.2 1595.6 642.8 1596.4 672.3 1597.2 725.6 1598.0 740.3 1598.1 740.5 1598.8 696.1 1599.6 675.8 1600.4 666.1 1601.2 604.8 1602.0 562.3 1602.8 573.5 1603.6 546.9 1604.4 487.6 1605.2 470.0 1606.0 448.2 1606.8 420.6 1607.1 411.6 1607.6 432.2 1608.4 458.1 1609.2 485.1 1610.0 510.4 1610.8 537.2 1611.6 612.1 1612.4 669.4 1613.2 693.8 1614.0 725.7 1614.8 766.1 1615.0 774.7 1615.6 745.7 1616.4 703.8 1617.2 672.6 1618.0 674.5 1618.8 657.3 1619.6 588.1 1620.4 517.0 1621.2 485.1 1622.0 474.9 1622.7 461.4 1622.8 466.0 1623.6 485.8 1624.4 496.3 1625.2 510.8 1626.0 538.1 1626.8 567.2 1627.6 585.2 1628.4 593.6 1629.2 606.5 1630.0 633.8 1630.8 664.9 1631.6 688.7 1632.4 706.5 1632.4 705.8 1633.2 669.7 1634.0 637.3 1634.8 616.4 1635.6 601.1 1636.4 568.2 1637.2 519.0 1638.0 481.7 1638.8 463.8 1639.6 450.0 1640.4 427.4 1641.1 405.3 1641.2 407.3 1642.0 434.8 1642.8 452.1 1643.6 471.4 1644.4 542.8 1645.2 603.1 1646.0 608.7 1646.8 613.5 1647.6 624.4 1648.4 636.8 1649.2 689.1 1650.0 765.0 1650.3 775.8 1650.8 773.7 1651.6 720.3 1652.4 662.1 1653.2 631.0 1654.0 586.8 1654.8 540.2 1655.6 550.6 1656.4 573.1 1657.2 534.3 1658.0 470.1 1658.5 446.1 1658.8 452.2 1659.6 484.7 1660.4 517.2 1661.2 530.8 1662.0 555.1 1662.8 597.0 1663.6 620.8 1664.4 624.8 1665.2 652.2 1666.0 706.8 1666.8 739.8 1667.6 742.8 1667.9 744.3 1668.4 714.3 1669.2 688.0 1670.0 697.6 1670.8 699.4 1671.6 661.4 1672.4 624.5 1673.2 611.3 1674.0 591.3 1674.8 546.6 1675.6 512.4 1676.4 503.0 1677.2 495.0 1677.5 490.2 1678.0 503.4 1678.8 526.4 1679.6 559.1 1680.4 581.6 1681.2 579.8 1682.0 581.9 1682.8 599.4 1683.6 622.7 1684.4 650.0 1685.2 675.7 1686.0 697.4 1686.8 718.5 1686.8 717.7 1687.6 687.4 1688.4 659.8 1689.2 633.2 1690.0 602.4 1690.8 565.7 1691.6 534.2 1692.4 514.1 1693.2 493.8 1694.0 469.1 1694.7 448.9 1694.8 453.6 1695.6 482.1 1696.4 507.6 1697.2 531.0 1698.0 569.0 1698.8 614.1 1699.6 649.6 1700.4 673.5 1701.2 684.5 1702.0 711.0 1702.8 759.5 1703.6 799.6 1704.4 834.6 1704.4 834.4 1705.2 796.2 1706.0 750.8 1706.8 691.2 1707.6 666.5 1708.4 667.8 1709.2 636.3 1710.0 590.4 1710.8 549.7 1711.6 511.0 1712.4 483.0 1713.2 454.6 1713.3 450.8 1714.0 470.6 1714.8 495.4 1715.6 513.3 1716.4 513.5 1717.2 557.8 1718.0 632.8 1718.8 650.6 1719.6 640.3 1720.4 666.8 1721.2 698.3 1721.7 715.9 1722.0 710.8 1722.8 695.5 1723.6 681.6 1724.4 693.9 1725.2 681.1 1726.0 645.9"/>
<path stroke="#000000" stroke-width="3.2" d="M222.9 -200.0 L223.7 -180.7 224.5 -148.3 225.3 -103.4 226.1 -46.8 226.9 20.2 227.7 96.1 228.5 179.1 229.3 267.4 230.1 358.9 230.9 451.3 231.7 542.5 232.5 630.2 233.3 712.5 234.1 787.4 234.9 853.1 235.7 908.3 236.5 951.7 237.3 982.5 238.0 998.7 238.1 997.6 238.9 984.6 239.7 963.8 240.5 935.4 241.3 900.0 242.1 858.3 242.9 812.0 243.7 760.6 244.5 701.1 245.3 644.7 246.1 592.1 246.9 534.4 247.7 474.7 248.5 417.1 249.3 365.9 250.1 331.2 250.9 300.0 251.7 257.8 252.5 229.7 253.3 215.1 253.8 208.5 254.1 221.8 254.9 259.3 255.7 298.3 256.5 324.5 257.3 351.8 258.1 404.5 258.9 456.5 259.7 495.2 260.5 530.8 261.3 572.9 262.1 616.6 262.9 655.8 263.7 700.7 264.5 745.2 264.5 745.2 265.3 732.8 266.1 726.8 266.9 687.8 267.7 662.5 268.5 681.5 269.3 671.9 270.1 665.0 270.5 660.4 270.9 667.4 271.7 686.1 272.5 706.8 273.3 676.7 274.1 702.3 274.9 775.8 275.7 768.1 276.5 767.6 277.3 792.4 277.9 805.2 278.1 802.4 278.9 793.8 279.7 776.6 279.7 776.5 280.5 809.9 281.2 837.9 281.3 834.2 282.1 784.9 282.9 730.7 283.7 647.9 284.5 622.9 285.3 649.3 286.1 593.9 286.9 470.9 287.7 427.1 288.5 417.4 289.3 379.6 289.6 363.1 290.1 378.2 290.9 402.5 291.7 417.9 292.5 449.5 293.3 501.2 294.1 537.9 294.9 547.2 295.7 548.8 296.5 587.0 297.3 651.1 298.1 674.9 298.9 680.8 299.7 722.0 300.5 756.6 301.3 788.7 301.4 791.8 302.1 769.2 302.9 748.0 303.7 728.3 304.5 661.3 305.3 652.8 306.1 702.0 306.9 655.4 307.7 566.8 308.5 573.4 309.3 584.5 310.1 532.2 310.9 506.6 311.1 508.5 311.7 542.3 312.5 575.6 313.3 546.4 314.1 506.7 314.9 528.8 315.7 592.8 316.5 641.3 317.3 629.5 318.1 591.3 318.9 595.0 319.7 639.2 320.5 670.6 321.3 669.9 322.1 670.1 322.9 689.9 323.2 697.4 323.7 687.1 324.5 654.4 325.3 615.9 326.1 614.0 326.9 608.0 327.7 556.5 328.5 524.5 329.3 531.5 330.1 516.4 330.9 484.9 331.1 477.7 331.7 487.4 332.5 498.1 333.3 492.5 334.1 522.8 334.9 590.7 335.7 586.0 336.5 519.7 337.3 531.9 338.1 631.8 338.9 674.8 339.7 623.5 340.5 596.5 341.3 649.4 342.1 697.8 342.9 703.0 343.7 704.3 343.9 707.6 344.5 684.5 345.3 661.6 346.1 638.5 346.9 603.7 347.7 565.0 348.5 545.6 349.3 536.3 350.1 494.7 350.9 444.4 351.7 433.5 352.5 417.1 353.1 400.8 353.3 408.7 354.1 433.8 354.9 452.7 355.7 490.8 356.5 538.3 357.3 546.3 358.1 552.0 358.9 588.9 359.7 650.7 360.5 691.0 361.3 683.5 362.1 687.7 362.9 750.7 363.0 758.2 363.7 773.2 364.5 728.5 365.3 608.4 366.1 572.4 366.9 629.8 367.7 610.2 368.5 545.1 369.3 520.2 370.1 485.8 370.9 458.9 371.5 438.6 371.7 445.1 372.5 475.7 373.3 509.3 374.1 500.5 374.9 542.7 375.7 626.8 376.5 627.4 377.3 617.9 378.1 680.5 378.9 728.7 379.7 752.6 380.5 786.0 380.7 796.3 381.3 763.4 382.1 721.7 382.9 686.3 383.7 616.6 384.5 566.6 385.3 545.9 386.1 508.2 386.9 469.0 387.3 451.2 387.7 461.7 388.5 483.5 389.3 495.5 390.1 488.2 390.9 524.2 391.7 622.1 392.5 662.9 393.3 583.1 394.1 526.8 394.9 640.8 395.7 775.8 396.5 747.3 397.3 643.8 398.1 713.3 398.9 798.3 399.7 804.6 400.5 825.3 400.9 837.1 401.3 816.3 402.1 782.4 402.9 756.3 403.7 685.2 404.5 632.5 405.3 643.7 406.1 624.3 406.9 563.5 407.7 526.7 408.5 499.8 409.3 468.5 409.6 457.0 410.1 469.2 410.9 487.5 411.7 507.3 412.5 540.1 413.3 565.0 414.1 563.4 414.9 569.8 415.7 611.7 416.5 661.8 417.3 680.8 418.1 681.6 418.8 692.3 418.9 688.1 419.7 670.7 420.5 685.8 421.3 685.2 422.1 607.0 422.9 532.1 423.7 567.4 424.5 624.7 425.3 559.1 426.1 471.4 426.9 491.9 427.7 514.7 428.1 498.0 428.5 488.2 429.3 461.5 430.1 520.7 430.9 601.8 431.7 576.3 432.5 546.4 433.3 588.0 434.1 637.9 434.9 666.5 435.7 679.8 436.5 693.9 437.3 719.4 437.6 728.9 438.1 713.9 438.9 698.3 439.7 665.0 440.5 587.5 441.3 588.0 442.1 632.8 442.9 610.3 443.7 544.2 444.5 509.3 445.3 511.6 446.1 488.4 446.9 432.5 447.7 426.7 448.5 433.2 449.3 405.1 450.1 381.7 450.4 375.2 450.9 393.7 451.7 417.0 452.5 466.7 453.3 524.9 454.1 498.3 454.9 491.6 455.7 584.2 456.5 649.5 457.3 631.0 458.1 648.8 458.9 715.3 458.9 716.3 459.7 713.7 460.5 649.3 461.3 618.9 462.1 673.3 462.9 654.0 463.7 547.4 464.5 529.4 465.3 612.8 466.1 616.9 466.9 511.9 467.7 466.7 468.5 496.6 469.0 509.6 469.3 523.2 470.1 537.4 470.9 521.1 471.7 519.7 472.5 557.4 473.3 613.8 474.1 649.3 474.9 642.4 475.7 637.4 476.5 672.2 477.3 703.6 478.1 725.5 478.4 733.9 478.9 710.4 479.7 671.7 480.5 632.6 481.3 609.1 482.1 584.8 482.9 532.3 483.7 484.8 484.5 472.6 485.3 456.3 486.1 397.9 486.9 360.7 487.7 345.7 488.5 313.4 489.3 284.0 489.3 284.2 490.1 309.7 490.9 337.0 491.7 376.8 492.5 377.3 493.3 423.3 494.1 488.5 494.9 503.7 495.7 539.9 496.5 600.2 497.3 586.3 498.1 582.0 498.9 675.2 499.7 721.9 500.5 746.6 501.0 771.6 501.3 762.6 502.1 733.0 502.9 712.7 503.7 688.3 504.5 650.9 505.3 636.9 506.1 624.9 506.9 583.1 507.7 527.3 508.5 506.8 509.3 518.1 510.1 505.3 510.9 468.0 511.4 444.9 511.7 450.7 512.5 474.0 513.3 517.8 514.1 567.8 514.9 580.9 515.7 584.3 516.5 632.5 517.3 687.4 518.1 706.8 518.9 738.5 519.7 774.0 520.5 809.2 520.5 809.4 521.3 777.9 522.1 745.2 522.9 737.0 523.7 700.3 524.5 631.3 525.3 620.1 526.1 613.1 526.9 559.4 527.7 530.8 528.5 542.5 529.3 512.3 530.1 451.0 530.2 443.2 530.9 457.0 531.7 526.6 532.5 584.7 533.3 562.8 534.1 549.6 534.9 617.9 535.7 691.1 536.5 699.0 537.3 700.9 538.1 743.5 538.9 781.5 539.7 814.0 539.8 818.1 540.5 777.3 541.3 725.2 542.1 680.8 542.9 667.4 543.7 628.4 544.5 550.4 545.3 494.8 546.1 471.0 546.9 440.0 547.7 400.9 548.2 378.2 548.5 388.8 549.3 411.8 550.1 410.5 550.9 459.3 551.7 565.1 552.5 560.7 553.3 520.8 554.1 565.0 554.9 635.8 555.7 659.0 556.5 695.9 557.3 740.7 558.1 755.2 558.9 789.1 559.7 824.2 559.8 827.0 560.5 793.0 561.3 756.4 562.1 719.7 562.9 706.9 563.7 642.2 564.5 577.9 565.3 592.8 566.1 592.8 566.9 513.4 567.7 462.1 568.5 448.2 569.3 426.4 569.8 408.2 570.1 418.6 570.9 447.9 571.7 477.0 572.5 529.5 573.3 562.0 574.1 561.1 574.9 607.5 575.7 661.9 576.5 694.2 577.3 730.2 577.6 742.3 578.1 725.0 578.9 693.5 579.7 689.4 580.5 716.2 581.3 634.2 582.1 531.2 582.9 553.6 583.7 604.2 584.5 553.7 585.3 487.1 586.1 501.3 586.9 491.0 587.7 447.2 588.5 431.3 589.3 411.4 589.3 411.5 590.1 434.1 590.9 453.6 591.7 453.5 592.5 495.3 593.3 549.8 594.1 562.5 594.9 572.4 595.7 604.7 596.5 638.6 597.3 664.0 598.1 690.5 598.9 716.8 599.7 741.5 600.2 758.9 600.5 746.9 601.3 724.2 602.1 700.6 602.9 658.2 603.7 606.4 604.5 581.4 605.3 588.7 606.1 580.0 606.9 516.4 607.7 458.4 608.5 452.8 609.0 458.0 609.3 479.7 610.1 508.5 610.9 490.9 611.7 500.6 612.5 565.7 613.3 610.4 614.1 629.9 614.9 653.9 615.7 664.8 616.5 686.4 617.3 745.0 617.6 765.7 618.1 761.2 618.9 702.3 619.7 639.4 620.5 674.8 621.3 699.2 622.1 618.9 622.9 561.5 623.7 572.9 624.5 563.3 625.3 541.4 626.1 539.8 626.9 503.7 627.7 457.0 628.3 451.4 628.5 460.5 629.3 513.6 630.1 525.1 630.9 508.7 631.7 559.2 632.5 643.2 633.3 651.3 634.1 599.4 634.9 620.4 635.7 711.7 636.5 744.7 637.3 762.0 638.0 786.4 638.1 779.4 638.9 740.7 639.7 704.5 640.5 666.7 641.3 632.1 642.1 610.3 642.9 579.9 643.7 529.8 644.5 470.3 645.3 438.9 646.1 428.3 646.9 402.3 647.0 398.2 647.7 418.2 648.5 437.0 649.3 474.3 650.1 509.9 650.9 489.5 651.7 518.5 652.5 597.9 653.3 609.8 654.1 574.1 654.9 624.7 655.7 727.7 656.5 729.4 657.3 679.9 658.1 735.0 658.9 788.2 659.7 811.9 660.1 826.5 660.5 794.9 661.3 726.1 662.1 670.3 662.9 642.5 663.7 555.5 664.5 499.7 665.3 453.0 665.6 431.8 666.1 444.3 666.9 467.5 667.7 491.9 668.5 512.2 669.3 531.1 670.1 550.7 670.9 572.8 671.7 608.3 672.5 646.8 673.3 658.2 674.1 658.7 674.9 700.8 675.7 741.0 676.5 758.8 677.3 785.1 677.7 799.3 678.1 778.2 678.9 737.4 679.7 690.5 680.5 635.8 681.3 622.7 682.1 570.4 682.9 499.0 683.7 502.1 684.5 470.0 685.3 418.9 686.1 383.5 686.1 383.2 686.9 405.3 687.7 440.5 688.5 460.9 689.3 438.2 690.1 471.7 690.9 540.1 691.7 583.2 692.5 588.3 693.3 587.5 694.1 637.3 694.9 698.7 695.7 708.2 696.5 704.8 696.5 704.8 697.3 671.4 698.1 695.8 698.9 712.3 699.7 637.2 700.5 540.8 701.3 542.2 702.1 593.3 702.9 568.3 703.7 497.3 704.5 471.8 705.3 469.2 705.5 465.9 706.1 483.4 706.9 503.1 707.7 518.9 708.5 523.9 709.3 547.1 710.1 588.9 710.9 598.7 711.7 599.2 712.5 658.4 713.3 718.4 714.1 683.5 714.9 656.7 715.7 723.6 716.5 775.8 716.5 775.8 717.3 766.5 718.1 681.8 718.9 647.5 719.7 685.6 720.5 680.9 721.3 628.9 722.1 606.9 722.9 603.9 723.7 568.0 724.5 526.8 725.3 529.8 726.1 541.9 726.9 512.2 727.7 468.2 728.3 451.7 728.5 456.7 729.3 495.2 730.1 539.7 730.9 541.8 731.7 519.4 732.5 553.8 733.3 628.7 734.1 649.4 734.9 617.4 735.7 638.0 736.5 700.6 737.3 731.0 737.3 731.1 738.1 685.1 738.9 639.5 739.7 619.6 740.5 607.0 741.3 605.9 742.1 591.2 742.9 512.4 743.7 442.8 744.5 480.6 745.3 495.0 746.1 440.5 746.9 413.3 747.7 391.4 747.7 392.0 748.5 418.3 749.3 439.7 750.1 484.4 750.9 527.0 751.7 525.5 752.5 566.7 753.3 639.6 754.1 656.7 754.9 676.5 755.7 724.3 756.5 760.7 757.1 787.9 757.3 780.5 758.1 752.4 758.9 728.2 759.7 717.2 760.5 676.9 761.3 625.0 762.1 619.1 762.9 628.5 763.7 596.3 764.5 548.6 765.3 529.8 766.1 512.6 766.6 494.2 766.9 496.4 767.7 512.4 768.5 546.4 769.3 575.1 770.1 586.3 770.9 574.9 771.7 545.8 772.5 574.4 773.3 689.7 774.1 739.9 774.9 664.0 775.7 629.4 776.5 698.5 776.6 704.9 777.3 733.3 778.1 692.0 778.9 591.7 779.7 568.2 780.5 607.1 781.3 584.7 782.1 518.5 782.9 488.2 783.7 475.9 784.5 454.8 785.3 436.2 785.9 419.2 786.1 423.8 786.9 446.5 787.7 469.0 788.5 491.9 789.3 514.7 790.1 541.1 790.9 575.2 791.7 602.2 792.5 610.2 793.3 624.0 794.1 666.7 794.9 710.8 795.7 730.4 796.5 751.6 797.3 780.3 797.7 794.0 798.1 776.6 798.9 744.9 799.7 724.2 800.5 681.8 801.3 609.5 802.1 600.6 802.9 615.9 803.7 572.8 804.5 517.8 805.3 502.2 806.1 473.4 806.9 445.7 807.4 428.5 807.7 436.9 808.5 464.9 809.3 490.6 810.1 470.8 810.9 517.4 811.7 611.8 812.5 608.1 813.3 588.3 814.1 634.1 814.9 680.0 815.7 712.0 816.3 735.6 816.5 727.8 817.3 679.4 818.1 619.5 818.9 617.5 819.7 642.8 820.5 590.7 821.3 510.4 822.1 482.0 822.9 464.3 823.7 449.1 824.2 435.6 824.5 444.1 825.3 467.4 826.1 502.3 826.9 505.9 827.7 467.5 828.5 530.9 829.3 634.0 830.1 647.1 830.9 609.2 831.7 629.6 832.5 684.8 833.3 709.5 834.1 733.4 834.9 760.6 835.1 767.4 835.7 744.3 836.5 716.8 837.3 691.3 838.1 635.8 838.9 590.6 839.7 617.4 840.5 620.2 841.3 527.0 842.1 448.8 842.9 486.2 843.7 480.1 844.5 433.1 845.3 411.5 845.7 400.7 846.1 414.2 846.9 443.0 847.7 483.4 848.5 491.7 849.3 492.5 850.1 531.2 850.9 573.1 851.7 609.8 852.5 644.9 853.3 666.7 854.1 680.4 854.9 712.8 855.7 749.9 856.5 781.1 856.9 797.3 857.3 782.5 858.1 751.4 858.9 716.1 859.7 694.0 860.5 680.7 861.3 635.7 862.1 593.7 862.9 586.9 863.7 569.2 864.5 511.6 865.3 480.2 866.1 473.0 866.9 451.5 867.5 434.4 867.7 439.6 868.5 458.7 869.3 489.1 870.1 497.7 870.9 482.1 871.7 554.8 872.5 601.6 873.3 564.3 874.1 576.9 874.9 654.4 875.7 661.6 876.5 667.1 877.3 699.9 878.1 724.3 878.2 728.0 878.9 701.4 879.7 664.6 880.5 620.3 881.3 608.8 882.1 637.3 882.9 607.0 883.7 505.6 884.5 475.6 885.3 473.9 886.1 449.1 886.3 443.6 886.9 458.8 887.7 464.3 888.5 458.4 889.3 538.8 890.1 604.4 890.9 557.7 891.7 540.4 892.5 618.9 893.3 658.4 894.1 664.5 894.9 689.4 895.5 708.7 895.7 702.8 896.5 679.9 897.3 657.9 898.1 625.7 898.9 587.1 899.7 583.4 900.5 602.1 901.3 577.0 902.1 500.0 902.9 473.7 903.7 483.5 904.5 466.1 905.3 445.0 905.6 438.6 906.1 450.0 906.9 464.2 907.7 468.0 908.5 471.4 909.3 516.9 910.1 583.5 910.9 596.4 911.7 568.1 912.5 568.3 913.3 617.0 914.1 667.4 914.9 688.1 915.7 691.2 915.9 693.0 916.5 667.7 917.3 655.2 918.1 666.9 918.9 647.2 919.7 584.3 920.5 558.1 921.3 581.8 922.1 581.8 922.9 532.4 923.7 496.3 924.5 489.3 925.2 486.8 925.3 490.6 926.1 524.5 926.9 541.6 927.7 522.2 928.5 526.5 929.3 612.6 930.1 675.5 930.9 638.9 931.7 644.8 932.5 688.9 933.3 714.7 933.8 729.4 934.1 718.8 934.9 694.5 935.7 679.4 936.5 635.8 937.3 580.5 938.1 612.9 938.9 619.2 939.7 554.5 940.5 516.5 941.3 501.5 942.1 474.1 942.9 469.2 943.7 453.2 943.8 450.3 944.5 467.0 945.3 482.9 946.1 495.0 946.9 537.0 947.7 575.8 948.5 577.0 949.3 573.5 950.1 600.1 950.9 648.6 951.7 680.2 952.5 695.7 953.3 710.7 953.8 721.8 954.1 711.6 954.9 690.2 955.7 688.0 956.5 687.5 957.3 673.5 958.1 655.4 958.9 607.6 959.7 541.8 960.5 553.0 961.3 633.4 962.1 627.0 962.9 514.1 963.7 475.2 964.5 515.6 965.3 516.7 965.4 514.4 966.1 507.0 966.9 510.2 967.7 564.8 968.5 595.6 969.3 572.3 970.1 579.8 970.9 628.7 971.7 659.5 972.5 666.8 973.3 686.2 974.1 708.5 974.9 729.8 975.5 747.3 975.7 741.1 976.5 711.0 977.3 681.8 978.1 644.0 978.9 617.3 979.7 611.6 980.5 583.6 981.3 531.6 982.1 497.2 982.9 483.7 983.7 465.0 984.1 453.6 984.5 462.8 985.3 480.3 986.1 490.4 986.9 512.3 987.7 551.7 988.5 569.2 989.3 582.1 990.1 600.6 990.9 598.7 991.7 607.9 992.5 682.1 993.3 731.8 994.1 696.0 994.9 686.3 995.2 702.3 995.7 715.7 996.5 748.2 997.3 670.0 998.1 562.8 998.9 599.6 999.7 640.4 1000.5 569.6 1001.3 501.5 1002.1 501.5 1002.9 499.8 1003.7 472.1 1004.5 443.8 1005.3 420.7 1005.9 404.2 1006.1 410.8 1006.9 438.8 1007.7 468.1 1008.5 491.1 1009.3 543.3 1010.1 578.4 1010.9 555.9 1011.7 569.1 1012.5 661.8 1013.3 727.8 1014.1 729.2 1014.5 726.9 1014.9 700.1 1015.7 675.7 1016.5 691.1 1017.3 671.3 1018.1 622.8 1018.9 625.5 1019.7 622.9 1020.5 545.2 1021.3 489.5 1022.1 532.9 1022.9 555.8 1023.7 492.9 1024.5 443.9 1025.2 441.2 1025.3 444.1 1026.1 489.4 1026.9 518.7 1027.7 531.8 1028.5 533.7 1029.3 553.2 1030.1 623.9 1030.9 694.4 1031.7 683.1 1032.5 661.1 1033.3 721.0 1034.1 767.5 1034.9 794.6 1035.3 809.4 1035.7 790.4 1036.5 750.0 1037.3 732.0 1038.1 732.8 1038.9 651.6 1039.7 562.2 1040.5 559.4 1041.3 594.1 1042.1 576.4 1042.9 493.8 1043.7 418.9 1044.5 405.8 1045.3 404.6 1046.1 378.9 1046.5 364.7 1046.9 381.1 1047.7 413.4 1048.5 445.4 1049.3 487.4 1050.1 536.3 1050.9 576.6 1051.7 597.0 1052.5 633.3 1053.3 681.8 1054.1 723.3 1054.4 738.9 1054.9 724.0 1055.7 696.7 1056.5 683.8 1057.3 681.2 1058.1 613.6 1058.9 580.6 1059.7 609.6 1060.5 585.9 1061.3 526.6 1062.1 529.6 1062.9 521.3 1063.7 483.4 1064.5 468.4 1065.3 449.5 1065.3 449.5 1066.1 479.5 1066.9 501.0 1067.7 524.2 1068.5 562.1 1069.3 592.8 1070.1 660.5 1070.9 700.4 1071.7 726.2 1072.5 764.9 1072.5 765.8 1073.3 742.5 1074.1 726.4 1074.9 713.2 1075.7 665.8 1076.5 633.2 1077.3 630.2 1078.1 606.5 1078.9 575.4 1079.7 574.8 1080.5 562.0 1081.3 505.9 1082.1 479.6 1082.9 483.0 1083.7 463.3 1084.5 444.1 1085.1 430.2 1085.3 435.6 1086.1 459.0 1086.9 483.5 1087.7 485.7 1088.5 526.3 1089.3 591.5 1090.1 589.4 1090.9 568.0 1091.7 603.8 1092.5 658.9 1093.3 694.9 1093.8 711.2 1094.1 705.6 1094.9 682.1 1095.7 645.6 1096.5 617.1 1097.3 620.5 1098.1 627.4 1098.9 611.9 1099.7 587.2 1100.5 563.2 1101.3 533.7 1102.1 511.1 1102.9 515.5 1103.7 523.6 1104.5 505.6 1105.3 473.8 1105.6 463.6 1106.1 468.9 1106.9 491.4 1107.7 536.8 1108.5 581.2 1109.3 583.1 1110.1 567.8 1110.9 596.9 1111.7 659.7 1112.5 690.3 1113.3 695.0 1113.7 701.9 1114.1 684.6 1114.9 665.7 1115.7 652.8 1116.5 636.3 1117.3 604.7 1118.1 546.1 1118.9 514.3 1119.7 553.0 1120.5 558.5 1121.3 458.2 1122.1 427.2 1122.9 436.9 1123.7 413.7 1124.2 400.7 1124.5 411.4 1125.3 431.9 1126.1 459.6 1126.9 515.5 1127.7 543.6 1128.5 579.2 1129.3 598.0 1130.1 598.8 1130.9 660.5 1131.7 727.9 1132.5 741.3 1133.3 772.1 1134.1 810.3 1134.3 817.8 1134.9 788.4 1135.7 757.2 1136.5 707.7 1137.3 644.7 1138.1 646.5 1138.9 662.0 1139.7 602.4 1140.5 507.2 1141.3 491.9 1142.1 495.4 1142.9 458.4 1143.7 425.3 1144.0 414.6 1144.5 428.0 1145.3 448.8 1146.1 504.3 1146.9 507.4 1147.7 426.7 1148.5 468.1 1149.3 654.0 1150.1 687.6 1150.9 577.7 1151.7 590.4 1152.5 670.5 1153.3 695.4 1154.1 719.7 1154.4 729.7 1154.9 713.3 1155.7 692.1 1156.5 674.0 1157.3 620.9 1158.1 585.9 1158.9 594.1 1159.7 584.4 1160.5 550.8 1161.3 521.9 1162.1 500.3 1162.7 485.9 1162.9 490.7 1163.7 513.7 1164.5 532.8 1165.3 545.4 1166.1 565.9 1166.9 595.2 1167.7 616.8 1168.5 635.0 1169.3 662.2 1170.1 684.0 1170.9 702.0 1171.7 727.4 1172.5 751.5 1172.5 752.0 1173.3 733.0 1174.1 718.1 1174.9 693.6 1175.7 647.7 1176.5 630.3 1177.3 664.0 1178.1 675.8 1178.9 602.2 1179.7 525.1 1180.5 547.7 1181.3 596.7 1182.1 562.4 1182.9 504.3 1183.7 493.5 1184.5 470.8 1185.3 463.3 1186.1 454.8 1186.3 451.7 1186.9 468.0 1187.7 486.1 1188.5 476.4 1189.3 536.5 1190.1 617.7 1190.9 579.2 1191.7 557.8 1192.5 619.7 1193.3 669.7 1194.1 678.1 1194.9 690.8 1195.7 714.9 1196.1 730.4 1196.5 722.7 1197.3 714.4 1198.1 683.9 1198.9 631.3 1199.7 611.4 1200.5 612.0 1201.3 592.4 1202.1 568.6 1202.9 554.4 1203.7 527.1 1204.5 486.5 1205.1 468.2 1205.3 473.6 1206.1 522.9 1206.9 590.9 1207.7 582.5 1208.5 519.5 1209.3 559.3 1210.1 669.5 1210.9 694.2 1211.7 662.3 1212.5 688.5 1213.3 740.7 1213.5 751.1 1214.1 732.8 1214.9 689.3 1215.7 655.1 1216.5 636.9 1217.3 629.4 1218.1 621.6 1218.9 578.6 1219.7 515.1 1220.5 508.4 1221.3 534.7 1222.1 495.7 1222.9 458.1 1223.7 440.3 1224.0 431.7 1224.5 446.2 1225.3 470.6 1226.1 488.1 1226.9 496.3 1227.7 536.1 1228.5 588.6 1229.3 617.6 1230.1 653.2 1230.9 686.4 1231.7 709.5 1232.5 741.1 1232.9 758.2 1233.3 746.8 1234.1 724.0 1234.9 711.7 1235.7 685.9 1236.5 633.0 1237.3 608.1 1238.1 616.2 1238.9 608.7 1239.7 564.4 1240.5 532.1 1241.3 534.8 1242.1 515.0 1242.9 472.7 1243.7 460.1 1244.1 461.1 1244.5 482.5 1245.3 498.7 1246.1 491.6 1246.9 537.0 1247.7 592.1 1248.5 577.4 1249.3 587.0 1250.1 661.7 1250.9 684.8 1251.7 677.1 1252.5 717.8 1252.6 724.6 1253.3 726.6 1254.1 685.6 1254.9 643.3 1255.7 671.7 1256.5 671.5 1257.3 597.4 1258.1 551.8 1258.9 575.2 1259.7 606.9 1260.5 585.6 1261.3 507.9 1262.1 464.7 1262.9 491.5 1263.6 510.7 1263.7 514.8 1264.5 533.9 1265.3 505.4 1266.1 522.7 1266.9 610.2 1267.7 657.2 1268.5 639.4 1269.3 655.5 1270.1 729.7 1270.9 760.2 1271.7 747.4 1272.5 794.9 1273.3 837.3 1274.1 866.9 1274.4 877.7 1274.9 843.6 1275.7 789.2 1276.5 770.4 1277.3 728.0 1278.1 604.8 1278.9 572.5 1279.7 587.1 1280.5 517.8 1281.3 439.6 1282.1 407.4 1282.9 380.5 1283.6 351.6 1283.7 356.2 1284.5 387.1 1285.3 409.3 1286.1 466.7 1286.9 535.1 1287.7 550.5 1288.5 550.4 1289.3 561.4 1290.1 614.3 1290.9 676.8 1291.7 714.7 1292.5 751.1 1292.8 767.1 1293.3 752.1 1294.1 724.2 1294.9 708.4 1295.7 701.7 1296.5 654.5 1297.3 603.8 1298.1 601.9 1298.9 617.2 1299.7 585.0 1300.5 520.8 1301.3 502.9 1302.1 516.9 1302.9 493.3 1303.7 453.9 1303.9 448.8 1304.5 472.1 1305.3 518.1 1306.1 520.8 1306.9 504.8 1307.7 567.6 1308.5 635.9 1309.3 625.3 1310.1 617.9 1310.9 665.4 1311.7 699.9 1312.5 724.0 1312.6 729.7 1313.3 721.0 1314.1 694.4 1314.9 621.8 1315.7 602.5 1316.5 650.7 1317.3 613.4 1318.1 522.9 1318.9 514.6 1319.7 520.4 1320.5 473.0 1321.3 462.0 1322.1 448.7 1322.5 438.1 1322.9 447.9 1323.7 470.2 1324.5 484.4 1325.3 490.1 1326.1 536.4 1326.9 594.2 1327.7 590.3 1328.5 564.4 1329.3 602.7 1330.1 679.4 1330.9 692.0 1331.7 695.0 1332.5 725.3 1333.1 744.3 1333.3 738.6 1334.1 721.8 1334.9 700.7 1335.7 625.1 1336.5 614.4 1337.3 679.7 1338.1 654.4 1338.9 595.8 1339.7 585.6 1340.5 558.1 1341.3 495.4 1342.1 501.6 1342.9 543.1 1343.7 519.9 1344.0 495.8 1344.5 479.5 1345.3 474.0 1346.1 533.3 1346.9 581.2 1347.7 562.3 1348.5 559.6 1349.3 607.6 1350.1 645.7 1350.9 643.8 1351.7 648.1 1352.5 679.8 1353.3 712.0 1353.6 721.1 1354.1 707.2 1354.9 674.1 1355.7 647.3 1356.5 642.3 1357.3 640.3 1358.1 614.7 1358.9 572.4 1359.7 537.7 1360.5 526.5 1361.3 537.2 1362.1 537.7 1362.9 503.3 1363.5 468.5 1363.7 465.3 1364.5 471.9 1365.3 541.9 1366.1 616.8 1366.9 594.9 1367.7 550.8 1368.5 592.6 1369.3 671.1 1370.1 699.1 1370.9 709.4 1371.7 730.7 1372.5 759.1 1372.9 771.3 1373.3 754.1 1374.1 729.5 1374.9 703.1 1375.7 621.7 1376.5 611.3 1377.3 669.7 1378.1 603.2 1378.9 494.9 1379.7 513.8 1380.5 538.2 1381.3 483.5 1382.0 442.4 1382.1 444.5 1382.9 481.2 1383.7 522.0 1384.5 530.5 1385.3 541.1 1386.1 579.5 1386.9 627.9 1387.7 650.5 1388.5 647.7 1389.3 667.5 1389.9 706.8 1390.1 708.3 1390.9 718.3 1391.7 683.7 1392.5 596.8 1393.3 553.1 1394.1 605.1 1394.9 648.1 1395.7 582.3 1396.5 485.4 1397.3 482.3 1398.1 511.2 1398.9 493.2 1399.0 487.2 1399.7 492.3 1400.5 507.4 1401.3 548.5 1402.1 598.0 1402.9 622.7 1403.7 611.5 1404.5 622.2 1405.3 702.5 1406.1 742.6 1406.9 756.6 1407.7 788.6 1407.8 792.7 1408.5 763.7 1409.3 746.9 1410.1 723.0 1410.9 603.2 1411.7 564.3 1412.5 646.3 1413.3 648.1 1414.1 536.6 1414.9 462.5 1415.7 478.0 1416.5 480.3 1417.3 421.4 1418.1 374.5 1418.9 378.4 1419.7 357.7 1420.5 317.1 1421.3 289.6 1421.7 276.4 1422.1 288.4 1422.9 308.8 1423.7 341.2 1424.5 369.4 1425.3 366.3 1426.1 397.7 1426.9 447.3 1427.7 481.3 1428.5 510.7 1429.3 537.1 1430.1 544.5 1430.9 565.9 1431.7 629.2 1432.5 670.8 1433.3 658.7 1434.1 691.0 1434.9 739.1 1435.7 766.7 1436.3 789.3 1436.5 780.0 1437.3 746.6 1438.1 718.9 1438.9 679.1 1439.7 648.2 1440.5 672.2 1441.3 613.6 1442.1 498.2 1442.9 508.3 1443.7 561.8 1444.5 517.9 1444.6 508.2 1445.3 471.9 1446.1 466.9 1446.9 548.4 1447.7 627.8 1448.5 620.1 1449.3 576.5 1450.1 585.5 1450.9 658.5 1451.7 706.7 1452.5 712.3 1453.3 725.0 1453.6 733.3 1454.1 708.1 1454.9 669.6 1455.7 635.5 1456.5 616.4 1457.3 587.8 1458.1 529.5 1458.9 470.4 1459.7 454.5 1460.5 440.6 1461.3 411.9 1461.4 406.7 1462.1 430.3 1462.9 454.9 1463.7 512.7 1464.5 549.3 1465.3 504.0 1466.1 554.5 1466.9 671.8 1467.7 672.6 1468.5 645.9 1469.3 709.7 1470.1 753.5 1470.8 786.7 1470.9 784.5 1471.7 754.2 1472.5 707.7 1473.3 700.6 1474.1 706.3 1474.9 641.9 1475.7 605.4 1476.5 609.8 1477.3 572.3 1478.1 495.3 1478.9 471.7 1479.7 494.7 1480.5 470.6 1481.3 434.5 1482.1 411.4 1482.1 412.0 1482.9 436.0 1483.7 466.7 1484.5 500.3 1485.3 495.7 1486.1 513.9 1486.9 580.0 1487.7 618.9 1488.5 613.6 1489.3 633.6 1490.1 682.2 1490.9 716.2 1490.9 716.6 1491.7 687.0 1492.5 663.1 1493.3 651.9 1494.1 633.5 1494.9 614.1 1495.7 590.6 1496.5 547.9 1497.3 535.7 1498.1 573.4 1498.9 549.5 1499.7 467.5 1500.5 450.6 1501.0 470.4 1501.3 497.7 1502.1 533.9 1502.9 493.7 1503.7 489.2 1504.5 552.8 1505.3 573.2 1506.1 581.0 1506.9 619.3 1507.7 618.2 1508.5 597.7 1509.3 650.2 1510.1 709.0 1510.9 704.7 1511.7 697.9 1511.9 701.8 1512.5 681.5 1513.3 682.4 1514.1 671.5 1514.9 607.0 1515.7 533.1 1516.5 531.8 1517.3 558.1 1518.1 502.8 1518.9 463.1 1519.7 450.9 1520.3 432.3 1520.5 437.0 1521.3 461.9 1522.1 493.3 1522.9 493.7 1523.7 504.4 1524.5 557.7 1525.3 572.5 1526.1 592.4 1526.9 673.5 1527.7 711.1 1528.5 643.0 1529.3 651.6 1530.1 746.4 1530.9 775.6 1531.7 796.2 1532.1 809.9 1532.5 792.9 1533.3 762.4 1534.1 748.2 1534.9 677.9 1535.7 611.6 1536.5 664.5 1537.3 674.6 1538.1 574.2 1538.9 510.9 1539.7 528.1 1540.5 524.2 1540.9 502.2 1541.3 498.9 1542.1 491.4 1542.9 523.7 1543.7 570.0 1544.5 575.5 1545.3 569.0 1546.1 592.9 1546.9 632.2 1547.7 649.0 1548.5 648.4 1549.3 663.2 1550.1 698.5 1550.1 698.4 1550.9 694.4 1551.7 667.2 1552.5 600.6 1553.3 547.7 1554.1 561.7 1554.9 598.3 1555.7 565.8 1556.5 502.0 1557.3 480.5 1558.1 465.3 1558.4 457.0 1558.9 466.7 1559.7 487.8 1560.5 477.4 1561.3 489.8 1562.1 585.2 1562.9 573.9 1563.7 515.4 1564.5 577.1 1565.3 660.4 1566.1 625.8 1566.9 595.6 1567.7 666.6 1568.5 712.8 1569.3 691.4 1570.1 712.2 1570.9 742.5 1571.7 760.5 1572.3 777.2 1572.5 769.4 1573.3 728.2 1574.1 685.6 1574.9 652.9 1575.7 638.6 1576.5 577.8 1577.3 501.1 1578.1 487.6 1578.9 473.6 1579.7 433.0 1580.5 399.2 1580.6 396.3 1581.3 415.5 1582.1 432.8 1582.9 472.5 1583.7 507.2 1584.5 502.7 1585.3 509.6 1586.1 533.2 1586.9 569.5 1587.7 617.4 1588.5 638.8 1589.3 633.4 1590.1 666.0 1590.9 701.5 1591.7 724.5 1592.3 744.8 1592.5 736.9 1593.3 703.2 1594.1 679.0 1594.9 635.4 1595.7 576.2 1596.5 593.2 1597.3 577.8 1598.1 488.6 1598.9 467.2 1599.7 459.6 1600.4 438.0 1600.5 441.4 1601.3 462.3 1602.1 467.6 1602.9 504.6 1603.7 586.8 1604.5 563.4 1605.3 509.1 1606.1 554.9 1606.9 666.0 1607.7 704.5 1608.5 671.1 1609.3 685.0 1610.1 721.2 1610.8 743.1 1610.9 739.3 1611.7 717.0 1612.5 697.7 1613.3 666.7 1614.1 631.4 1614.9 606.5 1615.7 599.7 1616.5 604.0 1617.3 579.4 1618.1 527.5 1618.9 509.2 1619.7 514.2 1620.5 485.2 1621.3 450.7 1621.4 448.3 1622.1 480.1 1622.9 529.7 1623.7 518.6 1624.5 499.5 1625.3 580.7 1626.1 644.2 1626.9 605.1 1627.7 596.0 1628.5 675.3 1629.3 706.9 1630.1 722.2 1630.9 748.9 1631.1 754.9 1631.7 734.7 1632.5 706.5 1633.3 705.0 1634.1 705.9 1634.9 593.2 1635.7 532.4 1636.5 614.5 1637.3 654.3 1638.1 547.6 1638.9 471.9 1639.7 488.2 1640.3 503.9 1640.5 515.9 1641.3 532.4 1642.1 504.8 1642.9 513.0 1643.7 581.4 1644.5 612.4 1645.3 589.0 1646.1 594.5 1646.9 649.8 1647.7 683.2 1648.5 685.5 1649.3 702.8 1650.1 726.5 1650.4 733.9 1650.9 715.0 1651.7 692.3 1652.5 645.7 1653.3 591.0 1654.1 640.4 1654.9 648.2 1655.7 525.6 1656.5 454.6 1657.3 508.4 1658.1 497.9 1658.9 458.4 1659.6 438.5 1659.7 441.2 1660.5 459.1 1661.3 475.9 1662.1 503.2 1662.9 519.6 1663.7 553.3 1664.5 591.6 1665.3 608.1 1666.1 611.3 1666.9 616.9 1667.7 649.3 1668.5 705.7 1669.3 733.2 1670.1 748.1 1670.8 772.5 1670.9 770.5 1671.7 744.2 1672.5 721.8 1673.3 724.4 1674.1 692.0 1674.9 618.3 1675.7 588.8 1676.5 604.4 1677.3 609.5 1678.1 568.0 1678.9 517.2 1679.7 504.1 1680.5 491.0 1681.3 469.7 1681.7 459.5 1682.1 470.5 1682.9 491.6 1683.7 508.2 1684.5 508.3 1685.3 536.6 1686.1 626.4 1686.9 642.1 1687.7 640.0 1688.5 672.3 1689.3 700.4 1689.3 700.3 1690.1 676.0 1690.9 652.0 1691.7 646.6 1692.5 614.4 1693.3 530.1 1694.1 541.5 1694.9 591.1 1695.7 530.1 1696.5 485.4 1697.3 476.9 1698.1 457.3 1698.5 446.9 1698.9 453.5 1699.7 461.3 1700.5 473.8 1701.3 509.3 1702.1 494.4 1702.9 489.4 1703.7 551.0 1704.5 610.7 1705.3 588.5 1706.1 544.0 1706.9 593.8 1707.7 656.0 1708.5 654.1 1709.3 665.7 1710.0 681.6 1710.1 679.0 1710.9 659.1 1711.7 655.9 1712.5 607.6 1713.3 518.0 1714.1 563.5 1714.9 636.1 1715.7 577.8 1716.5 471.1 1717.3 483.2 1718.1 496.6 1718.9 469.5 1719.7 452.7 1720.0 446.5 1720.5 459.6 1721.3 484.8 1722.1 472.2 1722.9 450.7 1723.7 561.8 1724.5 632.1 1725.3 604.8 1725.8 596.7"/>
<path stroke="#ff00ff" stroke-width="2" d="M223.0 -200.0 L223.8 -181.4 224.6 -150.8 225.4 -108.4 226.2 -55.2 227.0 7.9 227.8 79.8 228.6 158.8 229.4 243.4 230.2 331.7 231.0 422.0 231.8 512.3 232.6 600.7 233.4 685.2 234.2 764.2 235.0 836.1 235.8 899.2 236.6 952.5 237.4 994.8 238.2 1025.4 239.0 1044.0 239.0 1044.0 239.8 1029.6 240.6 1005.0 241.4 970.7 242.2 927.6 243.0 877.0 243.8 818.3 244.6 753.5 245.4 688.9 246.2 626.5 247.0 561.5 247.8 491.7 248.6 424.6 249.4 369.7 250.2 326.3 251.0 285.1 251.8 250.9 252.6 229.3 253.2 219.4 253.4 226.5 254.2 255.8 255.0 289.3 255.8 317.5 256.6 332.1 257.4 356.0 258.2 396.7 259.0 443.9 259.8 484.3 260.6 516.3 261.4 547.4 262.2 579.4 263.0 606.1 263.8 635.9 264.6 675.2 265.4 711.9 265.5 716.4 266.2 707.3 267.0 706.2 267.8 712.5 268.6 686.8 269.4 631.7 270.2 625.7 271.0 641.8 271.8 641.1 272.5 634.5 272.6 636.5 273.4 652.6 274.2 660.8 275.0 677.8 275.8 728.7 276.6 751.5 277.4 725.9 278.2 711.1 279.0 759.2 279.8 811.8 280.6 831.0 281.4 822.6 282.2 835.0 283.0 870.4 283.8 889.4 283.8 887.1 284.6 842.1 285.4 803.7 286.2 727.4 287.0 647.6 287.8 638.8 288.6 646.7 289.4 627.5 290.2 573.4 291.0 497.8 291.8 423.5 292.6 380.3 293.4 365.8 294.2 345.6 295.0 310.3 295.2 302.8 295.8 330.3 296.6 363.2 297.4 400.2 298.2 446.7 299.0 476.9 299.8 496.8 300.6 537.9 301.4 605.0 302.2 666.9 303.0 693.9 303.8 703.1 304.6 744.5 305.4 799.0 306.2 843.9 306.4 855.4 307.0 834.5 307.8 812.0 308.6 778.0 309.4 721.1 310.2 681.6 311.0 682.9 311.8 701.6 312.6 701.8 313.4 656.9 314.2 579.9 315.0 525.5 315.8 523.8 316.6 539.0 317.4 529.0 317.5 527.0 318.2 532.7 319.0 515.0 319.8 509.0 320.6 545.6 321.4 597.7 322.2 616.4 323.0 597.7 323.8 578.6 324.6 596.9 325.4 645.7 326.2 681.0 327.0 687.4 327.4 686.0 327.8 668.1 328.6 640.2 329.4 639.7 330.2 644.4 331.0 606.6 331.8 555.0 332.6 560.4 333.4 616.8 334.2 624.8 335.0 531.1 335.8 448.4 336.6 461.6 337.4 513.8 337.5 516.5 338.2 572.1 339.0 566.9 339.8 507.5 340.6 482.6 341.4 524.9 342.2 568.0 343.0 590.9 343.8 625.0 344.6 674.3 345.4 688.1 346.2 651.9 347.0 625.0 347.8 648.0 348.0 659.5 348.6 662.6 349.4 686.1 350.2 678.5 351.0 610.0 351.8 525.8 352.6 490.0 353.4 501.5 354.2 516.7 355.0 486.4 355.8 443.3 356.6 424.3 357.4 406.3 357.6 401.5 358.2 418.8 359.0 442.1 359.8 462.6 360.6 480.1 361.4 511.8 362.2 551.4 363.0 578.4 363.8 586.7 364.6 593.6 365.4 623.1 366.2 667.3 367.0 697.2 367.8 721.0 368.5 745.2 368.6 741.6 369.4 716.0 370.2 689.8 371.0 672.4 371.8 652.2 372.6 615.3 373.4 584.1 374.2 572.5 375.0 569.1 375.8 547.9 376.6 508.7 377.4 472.9 378.1 457.6 378.2 461.5 379.0 499.0 379.8 550.4 380.6 575.2 381.4 550.7 382.2 534.9 383.0 586.3 383.8 676.3 384.6 712.6 385.4 682.6 386.2 695.6 387.0 737.0 387.8 763.1 387.8 762.5 388.6 732.2 389.4 710.7 390.2 671.1 391.0 632.4 391.8 599.5 392.6 544.8 393.4 501.6 394.2 520.0 395.0 559.4 395.8 520.0 396.6 459.8 397.4 430.9 397.9 416.7 398.2 426.1 399.0 436.4 399.8 471.7 400.6 523.1 401.4 533.3 402.2 556.8 403.0 611.0 403.8 651.5 404.6 652.1 405.4 647.7 406.2 689.5 407.0 738.3 407.8 771.5 408.4 796.3 408.6 789.7 409.4 760.6 410.2 731.8 411.0 701.7 411.8 664.9 412.6 625.6 413.4 598.7 414.2 589.5 415.0 583.1 415.8 562.4 416.6 523.5 417.4 489.4 418.2 463.7 419.0 440.4 419.3 430.6 419.8 443.0 420.6 462.7 421.4 494.2 422.2 544.0 423.0 563.8 423.8 540.4 424.6 528.4 425.4 563.0 426.2 631.0 427.0 688.4 427.8 706.0 428.6 703.6 429.4 714.8 430.2 744.5 430.4 753.5 431.0 738.9 431.8 718.3 432.6 688.8 433.4 658.5 434.2 646.0 435.0 643.7 435.8 623.2 436.6 569.1 437.4 504.6 438.2 477.8 439.0 493.0 439.8 510.3 440.6 497.2 440.6 496.7 441.4 508.6 442.2 482.7 443.0 447.2 443.8 458.4 444.6 537.9 445.4 628.9 446.2 674.8 447.0 659.3 447.8 621.1 448.6 633.2 449.4 671.7 450.2 699.3 450.7 713.3 451.0 703.4 451.8 678.1 452.6 648.9 453.4 614.2 454.2 601.8 455.0 606.9 455.8 590.6 456.6 533.8 457.4 457.0 458.2 423.9 459.0 431.5 459.8 438.8 460.6 413.1 461.3 395.4 461.4 399.0 462.2 421.3 463.0 422.5 463.8 434.1 464.6 517.6 465.4 594.8 466.2 588.6 467.0 543.4 467.8 543.4 468.6 608.9 469.4 672.9 470.2 689.2 471.0 698.6 471.6 724.0 471.8 722.1 472.6 729.0 473.4 711.4 474.2 624.1 475.0 540.1 475.8 568.1 476.6 660.2 477.4 681.0 478.2 581.4 479.0 462.4 479.8 443.2 480.6 484.3 481.4 501.0 481.7 494.1 482.2 504.1 483.0 499.7 483.8 492.1 484.6 503.2 485.4 530.5 486.2 557.4 487.0 582.9 487.8 609.2 488.6 630.1 489.4 636.0 490.2 630.0 491.0 634.0 491.8 670.5 492.6 720.2 493.4 751.8 494.2 758.4 494.2 757.5 495.0 707.3 495.8 651.6 496.6 621.9 497.4 630.9 498.2 647.3 499.0 635.0 499.8 585.8 500.6 518.1 501.4 479.1 502.2 473.4 503.0 463.1 503.6 448.2 503.8 457.7 504.6 492.5 505.4 528.8 506.2 538.8 507.0 544.8 507.8 603.8 508.6 679.3 509.4 727.0 510.2 734.0 511.0 754.5 511.8 801.4 512.6 844.6 513.1 870.2 513.4 856.7 514.2 821.3 515.0 778.8 515.8 706.7 516.6 651.5 517.4 671.0 518.2 701.9 519.0 675.1 519.8 567.4 520.6 444.8 521.4 425.9 522.2 461.4 523.0 445.3 523.8 401.2 524.6 372.9 524.7 369.3 525.4 392.0 526.2 410.5 527.0 468.0 527.8 512.3 528.6 482.1 529.4 493.5 530.2 574.6 531.0 637.3 531.8 626.0 532.6 619.6 533.4 667.5 534.2 710.8 535.0 742.7 535.1 746.8 535.8 721.9 536.6 693.3 537.4 666.2 538.2 644.3 539.0 601.7 539.8 554.3 540.6 540.1 541.4 559.1 542.2 558.1 543.0 513.0 543.8 454.4 544.2 431.1 544.6 434.6 545.4 466.8 546.2 537.3 547.0 609.0 547.8 627.9 548.6 608.6 549.4 609.0 550.2 660.2 551.0 727.2 551.8 758.9 552.6 786.8 553.4 822.8 553.6 829.9 554.2 800.4 555.0 771.8 555.8 755.6 556.6 693.6 557.4 588.6 558.2 553.0 559.0 595.1 559.8 633.6 560.6 591.4 561.4 484.4 562.2 427.2 563.0 397.2 563.8 398.7 564.6 368.5 565.4 332.1 566.2 306.8 566.6 291.3 567.0 305.0 567.8 335.9 568.6 368.3 569.4 398.5 570.2 428.9 571.0 464.2 571.8 500.3 572.6 535.9 573.4 570.6 574.2 604.1 575.0 643.2 575.8 690.8 576.6 734.7 576.9 748.2 577.4 732.3 578.2 686.7 579.0 640.8 579.8 636.6 580.6 667.9 581.4 672.8 582.2 635.5 583.0 593.7 583.8 576.8 584.6 566.0 585.4 534.1 586.2 498.8 587.0 487.6 587.4 490.1 587.8 511.8 588.6 565.5 589.4 603.6 590.2 592.3 591.0 545.6 591.8 524.5 592.6 559.9 593.4 638.8 594.2 704.4 595.0 720.3 595.8 704.1 596.3 696.4 596.6 671.4 597.4 624.5 598.2 619.5 599.0 651.0 599.8 661.9 600.6 615.0 601.4 538.9 602.2 485.2 603.0 479.4 603.8 500.8 604.6 496.4 605.4 461.7 606.2 432.5 607.0 413.0 607.2 407.0 607.8 422.2 608.6 432.7 609.4 453.9 610.2 511.9 611.0 548.5 611.8 553.8 612.6 551.9 613.4 570.6 614.2 623.5 615.0 672.8 615.8 695.7 616.6 718.5 617.3 745.2 617.4 741.6 618.2 708.0 619.0 674.2 619.8 650.8 620.6 629.4 621.4 595.2 622.2 554.4 623.0 515.2 623.8 489.2 624.6 467.6 625.4 441.5 625.7 431.5 626.2 446.2 627.0 472.5 627.8 498.7 628.6 523.6 629.4 539.4 630.2 543.4 631.0 555.4 631.8 605.0 632.6 690.3 633.4 751.4 634.2 754.1 635.0 730.7 635.6 729.7 635.8 713.5 636.6 687.6 637.4 717.1 638.2 754.1 639.0 724.2 639.8 644.5 640.6 595.7 641.4 608.2 642.2 635.1 643.0 615.2 643.8 546.3 644.6 482.9 645.4 472.8 646.2 505.5 647.0 523.2 647.8 505.7 648.3 483.4 648.6 488.3 649.4 484.9 650.2 478.8 651.0 506.8 651.8 587.9 652.6 674.3 653.4 710.2 654.2 687.2 655.0 668.2 655.8 719.2 656.6 777.6 657.4 811.7 657.9 834.1 658.2 820.8 659.0 782.3 659.8 726.5 660.6 684.8 661.4 700.6 662.2 690.8 663.0 616.3 663.8 535.7 664.6 511.3 665.4 519.7 666.2 477.8 667.0 410.7 667.8 396.3 668.6 377.3 669.0 363.1 669.4 379.3 670.2 413.6 671.0 419.9 671.8 427.2 672.6 518.9 673.4 631.1 674.2 646.0 675.0 597.6 675.8 594.4 676.6 672.1 677.4 734.3 678.2 771.1 678.9 805.6 679.0 801.9 679.8 775.1 680.6 745.6 681.4 710.7 682.2 679.8 683.0 663.9 683.8 649.0 684.6 628.8 685.4 606.8 686.2 588.2 687.0 567.6 687.8 532.8 688.6 490.5 689.4 459.1 690.2 446.6 690.2 446.5 691.0 488.6 691.8 544.9 692.6 588.1 693.4 593.8 694.2 574.9 695.0 570.6 695.8 601.8 696.6 670.4 697.4 719.0 698.2 745.1 699.0 774.3 699.2 782.1 699.8 756.9 700.6 719.3 701.4 671.8 702.2 641.0 703.0 644.1 703.8 632.5 704.6 584.0 705.4 519.7 706.2 481.0 707.0 480.9 707.8 467.4 708.6 421.4 709.4 393.2 710.2 370.4 710.4 362.6 711.0 383.1 711.8 421.8 712.6 465.2 713.4 445.8 714.2 427.2 715.0 507.6 715.8 640.5 716.6 674.8 717.4 633.5 718.2 659.4 719.0 709.1 719.7 739.3 719.8 736.0 720.6 717.8 721.4 689.6 722.2 652.2 723.0 681.1 723.8 706.8 724.6 637.4 725.4 538.4 726.2 519.3 727.0 583.7 727.8 631.4 728.6 590.8 729.4 496.8 730.2 434.1 731.0 448.9 731.8 474.9 732.6 461.1 733.4 438.3 733.9 428.1 734.2 435.2 735.0 453.8 735.8 461.7 736.6 484.9 737.4 547.1 738.2 595.9 739.0 599.2 739.8 574.1 740.6 566.9 741.4 606.7 742.2 674.1 743.0 717.7 743.8 730.3 744.6 738.2 744.6 737.4 745.4 704.0 746.2 686.8 747.0 677.8 747.8 654.8 748.6 618.7 749.4 594.4 750.2 591.9 751.0 590.7 751.8 562.5 752.6 518.8 753.4 487.3 753.9 479.6 754.2 493.2 755.0 543.1 755.8 599.3 756.6 627.0 757.4 616.2 758.2 611.2 759.0 648.2 759.8 720.2 760.6 771.5 761.4 793.8 762.2 820.0 763.0 852.9 763.0 850.7 763.8 812.9 764.6 773.9 765.4 745.5 766.2 713.2 767.0 657.8 767.8 609.4 768.6 596.1 769.4 603.7 770.2 583.5 771.0 511.5 771.8 426.5 772.6 395.9 773.4 376.7 774.2 369.3 775.0 342.9 775.4 329.4 775.8 351.5 776.6 398.1 777.4 436.4 778.2 430.9 779.0 429.1 779.8 528.8 780.6 681.5 781.4 740.8 782.2 731.7 783.0 761.7 783.8 814.5 783.9 822.7 784.6 799.2 785.4 782.8 786.2 775.8 787.0 775.8 787.8 633.4 788.6 551.4 789.4 590.6 790.2 673.2 791.0 683.6 791.8 594.6 792.6 489.8 793.4 465.4 794.2 492.6 795.0 499.3 795.4 486.1 795.8 495.5 796.6 494.1 797.4 497.2 798.2 538.2 799.0 598.9 799.8 633.3 800.6 639.2 801.4 647.3 802.2 681.9 803.0 727.2 803.8 758.9 804.6 787.2 805.2 812.3 805.4 803.7 806.2 761.8 807.0 720.6 807.8 690.6 808.6 659.9 809.4 606.1 810.2 552.0 811.0 515.9 811.8 483.1 812.6 445.1 813.4 422.8 814.1 397.2 814.2 399.8 815.0 428.4 815.8 456.3 816.6 461.3 817.4 457.2 818.2 515.7 819.0 613.2 819.8 694.9 820.6 710.8 821.4 679.0 822.2 664.0 823.0 698.5 823.2 711.8 823.8 705.3 824.6 726.5 825.4 739.5 826.2 705.4 827.0 635.4 827.8 583.8 828.6 559.7 829.4 540.3 830.2 512.3 831.0 491.0 831.8 486.2 832.6 482.9 832.9 477.6 833.4 496.2 834.2 503.7 835.0 485.2 835.8 476.1 836.6 517.7 837.4 585.0 838.2 631.1 839.0 634.9 839.8 619.3 840.6 624.1 841.4 663.9 842.2 707.3 843.0 730.8 843.8 743.2 843.8 743.8 844.6 708.5 845.4 686.9 846.2 678.6 847.0 654.6 847.8 600.5 848.6 551.4 849.4 540.4 850.2 547.1 851.0 515.3 851.8 481.2 852.6 460.8 853.2 443.2 853.4 446.9 854.2 464.6 855.0 493.4 855.8 497.4 856.6 465.1 857.4 503.3 858.2 590.0 859.0 625.9 859.8 580.2 860.6 542.2 861.4 594.2 862.2 689.8 863.0 721.5 863.8 675.9 864.6 671.3 865.4 716.9 866.2 745.0 867.0 765.3 867.0 764.6 867.8 737.8 868.6 704.5 869.4 648.7 870.2 608.9 871.0 644.1 871.8 693.8 872.6 679.4 873.4 571.2 874.2 439.7 875.0 427.2 875.8 473.2 876.6 493.1 877.4 451.2 878.2 424.7 878.4 419.6 879.0 433.8 879.8 435.3 880.6 459.1 881.4 512.2 882.2 529.4 883.0 533.4 883.8 564.6 884.6 614.5 885.4 648.4 886.2 653.6 887.0 657.9 887.8 686.4 888.6 718.9 889.4 745.9 889.6 753.5 890.2 733.7 891.0 707.2 891.8 681.1 892.6 654.2 893.4 624.9 894.2 595.5 895.0 569.3 895.8 548.6 896.6 533.0 897.4 512.3 898.2 482.0 899.0 454.9 899.8 433.4 900.2 422.2 900.6 436.5 901.4 462.7 902.2 497.1 903.0 544.8 903.8 570.2 904.6 580.2 905.4 592.5 906.2 618.6 907.0 678.7 907.8 745.1 908.6 775.5 909.4 799.0 910.1 831.2 910.2 827.2 911.0 793.6 911.8 758.2 912.6 744.7 913.4 716.5 914.2 671.1 915.0 661.0 915.8 653.5 916.6 586.9 917.4 490.9 918.2 485.9 919.0 506.1 919.8 477.3 920.6 449.7 920.7 447.4 921.4 468.6 922.2 470.0 923.0 487.0 923.8 588.2 924.6 665.6 925.4 633.3 926.2 580.7 927.0 615.6 927.8 672.2 928.6 704.1 929.1 720.8 929.4 713.8 930.2 699.0 931.0 671.4 931.8 639.8 932.6 640.6 933.4 650.2 934.2 633.4 935.0 600.1 935.8 576.8 936.6 572.1 937.4 570.2 938.2 553.6 939.0 525.2 939.8 501.3 940.6 485.6 941.4 478.0 942.2 473.5 943.0 461.8 943.3 456.6 943.8 468.4 944.6 488.4 945.4 515.2 946.2 540.7 947.0 544.6 947.8 552.1 948.6 588.5 949.4 641.2 950.2 669.1 951.0 664.4 951.8 664.9 952.6 696.1 952.7 700.3 953.4 697.3 954.2 705.6 955.0 681.9 955.8 609.3 956.6 542.8 957.4 533.8 958.2 562.6 959.0 563.9 959.8 509.5 960.6 454.3 961.4 438.5 961.8 440.5 962.2 467.4 963.0 517.1 963.8 526.6 964.6 498.3 965.4 500.5 966.2 558.5 967.0 625.1 967.8 656.7 968.6 659.7 969.4 670.5 970.2 696.3 971.0 725.6 971.1 730.2 971.8 702.1 972.6 676.2 973.4 658.6 974.2 632.7 975.0 582.8 975.8 529.1 976.6 504.1 977.4 494.1 978.2 470.7 979.0 441.6 979.4 428.6 979.8 437.6 980.6 454.2 981.4 459.3 982.2 465.4 983.0 510.8 983.8 575.2 984.6 606.1 985.4 584.3 986.2 543.9 987.0 546.9 987.8 616.5 988.6 684.6 989.4 693.2 990.2 698.1 991.0 720.2 991.1 724.2 991.8 704.2 992.6 682.2 993.4 682.1 994.2 656.4 995.0 578.9 995.8 541.2 996.6 564.0 997.4 584.8 998.2 546.4 999.0 475.1 999.8 443.8 1000.6 468.5 1001.4 463.8 1002.2 422.9 1003.0 398.7 1003.7 381.0 1003.8 383.9 1004.6 411.2 1005.4 442.1 1006.2 509.1 1007.0 554.2 1007.8 547.3 1008.6 547.3 1009.4 575.6 1010.2 633.0 1011.0 699.9 1011.8 743.5 1012.6 777.0 1013.4 814.4 1013.8 834.1 1014.2 817.1 1015.0 785.7 1015.8 745.2 1016.6 683.7 1017.4 642.5 1018.2 654.0 1019.0 671.3 1019.8 652.4 1020.6 589.3 1021.4 515.0 1022.2 476.3 1023.0 474.5 1023.8 458.4 1024.6 429.5 1025.2 409.6 1025.4 418.9 1026.2 452.4 1027.0 478.1 1027.8 534.9 1028.6 600.9 1029.4 632.1 1030.2 657.9 1031.0 706.4 1031.8 759.5 1032.6 807.3 1032.8 816.5 1033.4 789.5 1034.2 757.2 1035.0 720.1 1035.8 689.3 1036.6 667.5 1037.4 633.7 1038.2 589.9 1039.0 555.4 1039.8 538.4 1040.6 514.6 1041.4 471.2 1042.2 450.2 1043.0 431.6 1043.2 426.9 1043.8 446.1 1044.6 462.1 1045.4 473.4 1046.2 527.2 1047.0 621.8 1047.8 648.6 1048.6 586.0 1049.4 523.9 1050.2 570.8 1051.0 693.8 1051.8 764.3 1052.6 764.4 1052.9 759.9 1053.4 730.2 1054.2 692.9 1055.0 675.0 1055.8 637.2 1056.6 600.5 1057.4 627.7 1058.2 690.8 1059.0 679.1 1059.8 555.8 1060.6 428.9 1061.4 427.2 1062.2 506.7 1063.0 538.5 1063.8 497.4 1064.0 481.8 1064.6 469.4 1065.4 463.4 1066.2 498.3 1067.0 541.8 1067.8 539.3 1068.6 511.2 1069.4 518.0 1070.2 583.6 1071.0 666.6 1071.8 704.2 1072.6 677.2 1073.4 627.6 1074.2 617.8 1075.0 666.6 1075.8 727.0 1076.6 764.1 1076.9 770.9 1077.4 748.7 1078.2 697.6 1079.0 637.1 1079.8 586.7 1080.6 564.5 1081.4 558.4 1082.2 545.5 1083.0 506.2 1083.8 443.2 1084.6 397.4 1085.4 379.1 1086.2 356.7 1087.0 326.6 1087.1 322.4 1087.8 346.2 1088.6 368.2 1089.4 374.3 1090.2 404.4 1091.0 473.1 1091.8 533.3 1092.6 556.8 1093.4 554.2 1094.2 560.0 1095.0 608.6 1095.8 664.5 1096.6 700.0 1097.4 732.4 1097.7 745.2 1098.2 727.8 1099.0 693.4 1099.8 656.4 1100.6 672.1 1101.4 702.1 1102.2 633.6 1103.0 516.0 1103.8 465.8 1104.6 520.1 1105.4 568.5 1106.2 495.7 1107.0 444.6 1107.8 436.0 1108.6 415.5 1108.6 415.9 1109.4 448.6 1110.2 493.9 1111.0 540.9 1111.8 566.7 1112.6 568.5 1113.4 589.9 1114.2 646.5 1115.0 703.1 1115.8 743.7 1116.1 761.1 1116.6 743.4 1117.4 715.9 1118.2 667.5 1119.0 603.6 1119.8 589.4 1120.6 612.7 1121.4 612.1 1122.2 570.2 1123.0 508.5 1123.8 471.9 1124.6 458.2 1125.4 437.1 1126.2 411.7 1126.4 406.3 1127.0 420.3 1127.8 429.4 1128.6 431.3 1129.4 477.4 1130.2 544.4 1131.0 562.5 1131.8 534.9 1132.6 506.8 1133.4 524.3 1134.2 589.7 1135.0 661.9 1135.8 695.5 1136.6 674.4 1137.4 671.7 1138.2 701.9 1139.0 729.1 1139.3 737.6 1139.8 720.8 1140.6 703.2 1141.4 685.7 1142.2 626.2 1143.0 558.5 1143.8 557.4 1144.6 591.3 1145.4 595.0 1146.2 538.9 1147.0 464.2 1147.8 438.1 1148.6 458.6 1149.4 444.5 1150.2 410.4 1151.0 388.9 1151.0 387.8 1151.8 426.4 1152.6 461.0 1153.4 531.7 1154.2 622.7 1155.0 633.6 1155.8 629.4 1156.6 680.9 1157.4 744.7 1158.1 787.9 1158.2 783.7 1159.0 756.3 1159.8 737.2 1160.6 678.7 1161.4 600.4 1162.2 603.1 1163.0 643.8 1163.8 648.5 1164.6 589.3 1165.4 508.2 1166.2 477.5 1167.0 471.7 1167.8 458.8 1168.6 438.0 1168.7 436.3 1169.4 455.9 1170.2 472.5 1171.0 481.2 1171.8 508.6 1172.6 559.6 1173.4 595.8 1174.2 608.2 1175.0 608.8 1175.8 615.8 1176.6 639.3 1177.4 680.7 1178.2 715.4 1179.0 739.8 1179.8 764.4 1180.1 773.2 1180.6 751.5 1181.4 717.5 1182.2 672.7 1183.0 628.4 1183.8 621.1 1184.6 633.2 1185.4 621.6 1186.2 564.1 1187.0 492.5 1187.8 467.0 1188.6 455.8 1189.4 431.0 1189.6 423.6 1190.2 437.6 1191.0 456.7 1191.8 462.9 1192.6 496.3 1193.4 571.0 1194.2 591.5 1195.0 546.4 1195.8 514.4 1196.6 558.5 1197.4 643.0 1198.2 688.3 1199.0 686.2 1199.8 701.6 1200.6 725.4 1201.4 749.3 1201.4 748.5 1202.2 719.1 1203.0 678.7 1203.8 633.6 1204.6 626.1 1205.4 643.1 1206.2 630.3 1207.0 586.5 1207.8 527.4 1208.6 477.0 1209.4 459.1 1210.2 450.6 1211.0 430.1 1211.4 417.2 1211.8 425.7 1212.6 445.6 1213.4 451.1 1214.2 448.2 1215.0 471.8 1215.8 531.0 1216.6 577.5 1217.4 592.0 1218.2 590.9 1219.0 600.0 1219.8 625.7 1220.6 657.7 1221.4 687.5 1222.2 714.4 1223.0 737.6 1223.3 746.0 1223.8 725.6 1224.6 685.5 1225.4 651.5 1226.2 639.8 1227.0 637.8 1227.8 610.6 1228.6 551.5 1229.4 493.3 1230.2 484.4 1231.0 486.1 1231.8 460.9 1232.6 432.9 1232.9 423.2 1233.4 433.8 1234.2 433.4 1235.0 448.2 1235.8 522.9 1236.6 580.4 1237.4 563.8 1238.2 535.9 1239.0 565.4 1239.8 642.4 1240.6 682.8 1241.4 668.1 1242.2 667.6 1242.9 708.5 1243.0 708.5 1243.8 726.8 1244.6 725.4 1245.4 654.4 1246.2 571.8 1247.0 561.9 1247.8 578.9 1248.6 549.7 1249.4 499.2 1250.2 504.7 1251.0 513.5 1251.8 476.1 1252.6 445.2 1253.1 433.7 1253.4 443.0 1254.2 456.8 1255.0 477.1 1255.8 536.1 1256.6 587.9 1257.4 597.2 1258.2 601.1 1259.0 602.0 1259.8 599.5 1260.6 629.2 1261.4 676.8 1262.2 710.7 1263.0 737.2 1263.1 741.3 1263.8 723.3 1264.6 700.2 1265.4 665.3 1266.2 644.2 1267.0 650.6 1267.8 644.8 1268.6 616.1 1269.4 579.8 1270.2 552.4 1271.0 535.2 1271.8 521.8 1272.6 509.9 1273.4 499.5 1274.2 485.8 1275.0 464.2 1275.2 456.7 1275.8 468.9 1276.6 484.2 1277.4 513.1 1278.2 563.1 1279.0 611.6 1279.8 635.7 1280.6 643.9 1281.4 662.8 1282.2 707.2 1283.0 747.4 1283.8 779.4 1284.6 813.2 1284.8 820.3 1285.4 795.4 1286.2 766.0 1287.0 742.2 1287.8 705.6 1288.6 652.1 1289.4 621.9 1290.2 619.2 1291.0 613.3 1291.8 581.9 1292.6 538.4 1293.4 505.8 1294.2 479.3 1295.0 456.7 1295.7 435.1 1295.8 437.9 1296.6 448.7 1297.4 481.2 1298.2 530.7 1299.0 474.0 1299.8 427.2 1300.6 510.5 1301.4 669.8 1302.2 736.5 1303.0 673.2 1303.8 620.4 1304.6 651.8 1304.9 675.3 1305.4 686.3 1306.2 702.9 1307.0 667.6 1307.8 600.1 1308.6 581.0 1309.4 610.4 1310.2 616.7 1311.0 562.2 1311.8 489.9 1312.6 469.5 1313.4 493.7 1314.2 502.2 1315.0 474.4 1315.1 470.2 1315.8 464.6 1316.6 462.5 1317.4 499.6 1318.2 566.6 1319.0 600.4 1319.8 579.7 1320.6 542.5 1321.4 544.6 1322.2 603.8 1323.0 676.1 1323.8 694.3 1324.6 694.7 1325.4 712.5 1325.9 725.5 1326.2 717.6 1327.0 695.7 1327.8 684.1 1328.6 690.1 1329.4 672.3 1330.2 618.6 1331.0 575.6 1331.8 562.1 1332.6 569.2 1333.4 576.9 1334.2 567.1 1335.0 540.6 1335.8 506.1 1336.4 483.0 1336.6 482.5 1337.4 487.9 1338.2 524.5 1339.0 592.0 1339.8 638.9 1340.6 621.1 1341.4 569.7 1342.2 551.6 1343.0 607.4 1343.8 685.7 1344.6 731.6 1345.0 737.2 1345.4 723.0 1346.2 659.9 1347.0 581.3 1347.8 546.2 1348.6 583.7 1349.4 631.1 1350.2 625.8 1351.0 558.0 1351.8 468.8 1352.6 427.1 1353.4 423.7 1354.2 430.4 1355.0 413.7 1355.8 401.2 1356.2 392.9 1356.6 403.0 1357.4 419.1 1358.2 425.0 1359.0 461.9 1359.8 554.6 1360.6 588.9 1361.4 551.0 1362.2 505.7 1363.0 525.2 1363.8 612.4 1364.6 698.8 1365.4 709.8 1366.2 689.4 1367.0 710.7 1367.8 745.8 1368.3 763.6 1368.6 751.1 1369.4 719.2 1370.2 695.9 1371.0 647.2 1371.8 571.9 1372.6 533.1 1373.4 526.8 1374.2 514.7 1375.0 491.9 1375.8 459.4 1376.4 439.0 1376.6 445.3 1377.4 464.5 1378.2 487.4 1379.0 552.5 1379.8 606.2 1380.6 567.6 1381.4 531.5 1382.2 566.7 1383.0 649.0 1383.8 697.5 1384.6 697.2 1385.4 707.3 1386.2 747.9 1386.3 756.0 1387.0 757.3 1387.8 742.6 1388.6 699.2 1389.4 656.4 1390.2 640.8 1391.0 634.0 1391.8 629.5 1392.6 635.9 1393.4 639.9 1394.2 610.8 1395.0 551.7 1395.8 507.8 1396.6 508.8 1397.4 529.4 1398.2 523.4 1399.0 493.7 1399.8 469.0 1400.3 461.0 1400.6 474.4 1401.4 513.0 1402.2 548.1 1403.0 570.0 1403.8 585.6 1404.6 611.9 1405.4 655.6 1406.2 711.5 1407.0 762.4 1407.8 784.5 1408.6 804.9 1409.4 841.5 1410.2 879.3 1410.3 884.0 1411.0 837.1 1411.8 791.2 1412.6 752.5 1413.4 685.8 1414.2 595.3 1415.0 541.5 1415.8 531.8 1416.6 527.3 1417.4 461.9 1418.2 382.1 1419.0 345.9 1419.8 309.7 1420.0 299.3 1420.6 321.4 1421.4 357.6 1422.2 398.4 1423.0 410.1 1423.8 412.7 1424.6 451.3 1425.4 518.4 1426.2 570.6 1427.0 590.3 1427.8 599.8 1428.6 629.8 1429.4 675.1 1430.2 719.9 1430.5 736.0 1431.0 727.8 1431.8 720.3 1432.6 705.8 1433.4 650.2 1434.2 567.3 1435.0 538.0 1435.8 596.7 1436.6 666.0 1437.4 639.9 1438.2 529.8 1439.0 467.8 1439.8 485.5 1440.6 500.2 1440.9 494.2 1441.4 497.4 1442.2 474.5 1443.0 485.9 1443.8 575.3 1444.6 659.1 1445.4 657.6 1446.2 607.4 1447.0 583.7 1447.8 611.0 1448.6 666.8 1449.4 706.8 1450.2 731.6 1451.0 755.7 1451.0 756.9 1451.8 724.5 1452.6 691.1 1453.4 635.4 1454.2 577.5 1455.0 566.8 1455.8 577.1 1456.6 579.1 1457.4 552.4 1458.2 479.8 1459.0 411.1 1459.8 398.3 1460.6 387.5 1461.1 371.0 1461.4 380.4 1462.2 411.3 1463.0 442.6 1463.8 432.0 1464.6 427.2 1465.4 496.8 1466.2 582.9 1467.0 616.5 1467.8 599.1 1468.6 589.3 1469.4 628.8 1470.2 696.3 1471.0 733.0 1471.8 753.2 1472.6 782.3 1473.2 805.9 1473.4 798.0 1474.2 768.3 1475.0 739.0 1475.8 706.8 1476.6 677.8 1477.4 665.7 1478.2 655.1 1479.0 624.7 1479.8 569.3 1480.6 514.4 1481.4 502.5 1482.2 500.0 1483.0 477.3 1483.8 454.9 1483.8 456.0 1484.6 475.8 1485.4 478.4 1486.2 461.8 1487.0 486.0 1487.8 565.2 1488.6 646.2 1489.4 696.6 1490.2 689.4 1491.0 634.2 1491.8 638.9 1492.6 696.4 1493.4 733.4 1493.8 747.2 1494.2 735.4 1495.0 721.2 1495.8 685.6 1496.6 594.6 1497.4 567.3 1498.2 636.7 1499.0 662.7 1499.8 597.5 1500.6 510.8 1501.4 488.4 1502.2 510.1 1502.9 516.7 1503.0 521.5 1503.8 543.3 1504.6 524.2 1505.4 497.3 1506.2 515.5 1507.0 576.8 1507.8 627.6 1508.6 638.0 1509.4 623.6 1510.2 622.1 1511.0 654.1 1511.8 697.3 1512.6 721.7 1513.4 728.0 1513.6 729.5 1514.2 702.3 1515.0 671.9 1515.8 666.9 1516.6 674.4 1517.4 653.5 1518.2 600.6 1519.0 550.8 1519.8 538.2 1520.6 555.7 1521.4 558.7 1522.2 522.4 1523.0 476.5 1523.8 450.7 1524.0 448.2 1524.6 464.5 1525.4 496.7 1526.2 525.9 1527.0 544.8 1527.8 556.0 1528.6 559.8 1529.4 553.8 1530.2 558.5 1531.0 599.8 1531.8 662.9 1532.6 692.1 1533.4 675.5 1534.2 666.0 1535.0 694.2 1535.1 699.4 1535.8 698.2 1536.6 691.6 1537.4 640.3 1538.2 567.1 1539.0 550.0 1539.8 587.5 1540.6 606.5 1541.4 549.1 1542.2 478.2 1543.0 461.3 1543.8 452.6 1544.5 434.3 1544.6 437.2 1545.4 461.1 1546.2 484.6 1547.0 490.3 1547.8 515.5 1548.6 571.7 1549.4 601.9 1550.2 598.2 1551.0 599.6 1551.8 638.6 1552.6 698.3 1553.4 727.2 1554.2 741.7 1555.0 767.2 1555.6 787.4 1555.8 780.0 1556.6 753.7 1557.4 734.6 1558.2 722.8 1559.0 689.2 1559.8 635.6 1560.6 601.8 1561.4 600.3 1562.2 610.9 1563.0 598.4 1563.8 548.0 1564.6 498.6 1565.4 480.0 1566.1 481.7 1566.2 487.9 1567.0 534.4 1567.8 555.2 1568.6 527.9 1569.4 499.7 1570.2 542.6 1571.0 636.0 1571.8 699.7 1572.6 686.5 1573.4 648.6 1574.2 667.0 1575.0 723.7 1575.6 754.1 1575.8 751.6 1576.6 716.5 1577.4 662.3 1578.2 659.6 1579.0 715.7 1579.8 721.3 1580.6 634.1 1581.4 540.5 1582.2 535.5 1583.0 595.2 1583.8 623.0 1584.6 584.7 1585.4 531.7 1586.2 507.9 1587.0 494.9 1587.8 479.1 1588.1 474.2 1588.6 489.5 1589.4 534.7 1590.2 586.3 1591.0 599.7 1591.8 570.9 1592.6 565.1 1593.4 617.0 1594.2 696.9 1595.0 742.2 1595.8 740.4 1596.6 753.7 1597.4 784.8 1598.0 807.2 1598.2 800.8 1599.0 773.0 1599.8 750.6 1600.6 726.7 1601.4 692.9 1602.2 658.9 1603.0 631.6 1603.8 608.6 1604.6 589.6 1605.4 572.9 1606.2 550.2 1607.0 519.5 1607.8 489.6 1607.8 489.3 1608.6 500.6 1609.4 527.9 1610.2 563.4 1611.0 578.8 1611.8 567.2 1612.6 564.2 1613.4 592.4 1614.2 632.2 1615.0 647.9 1615.8 642.8 1616.6 662.2 1617.4 713.2 1618.2 748.0 1619.0 742.6 1619.0 741.8 1619.8 670.7 1620.6 608.3 1621.4 626.8 1622.2 704.1 1623.0 712.0 1623.8 621.6 1624.6 524.7 1625.4 509.4 1626.2 533.3 1627.0 524.2 1627.8 489.7 1627.9 487.6 1628.6 495.9 1629.4 524.5 1630.2 559.8 1631.0 584.6 1631.8 618.8 1632.6 663.1 1633.4 665.1 1634.2 610.8 1635.0 583.3 1635.8 663.3 1636.6 775.8 1637.4 782.7 1638.2 785.4 1639.0 807.9 1639.3 817.3 1639.8 795.7 1640.6 760.6 1641.4 742.4 1642.2 708.3 1643.0 647.5 1643.8 623.0 1644.6 626.0 1645.4 602.8 1646.2 534.7 1647.0 465.0 1647.8 443.8 1648.6 434.6 1649.4 420.1 1650.2 397.4 1650.2 397.4 1651.0 425.5 1651.8 442.2 1652.6 453.3 1653.4 504.8 1654.2 587.9 1655.0 633.4 1655.8 629.2 1656.6 615.3 1657.4 650.2 1658.2 702.8 1659.0 741.1 1659.4 759.9 1659.8 747.8 1660.6 726.1 1661.4 695.7 1662.2 640.3 1663.0 601.3 1663.8 611.7 1664.6 628.5 1665.4 618.7 1666.2 574.4 1667.0 515.9 1667.8 483.8 1668.6 477.4 1669.4 465.3 1670.2 444.2 1670.5 436.2"/>
</g>
<g stroke="#000" stroke-width="4.5" fill="none" stroke-linecap="butt">
<path d="M222.5 36.25 V1155.9"/>
<path d="M200.1 1133.5 H1728.75"/>
<path d="M200.1 38.5 H222.5"/>
<path d="M200.1 221 H222.5"/>
<path d="M200.1 403.5 H222.5"/>
<path d="M200.1 586 H222.5"/>
<path d="M200.1 768.5 H222.5"/>
<path d="M200.1 951 H222.5"/>
<path d="M211.3 129.75 H222.5"/>
<path d="M211.3 312.25 H222.5"/>
<path d="M211.3 494.75 H222.5"/>
<path d="M211.3 677.25 H222.5"/>
<path d="M211.3 859.75 H222.5"/>
<path d="M211.3 1042.25 H222.5"/>
<path d="M598.5 1133.5 V1155.9"/>
<path d="M974.5 1133.5 V1155.9"/>
<path d="M1350.5 1133.5 V1155.9"/>
<path d="M1726.5 1133.5 V1155.9"/>
<path d="M410.5 1133.5 V1144.7"/>
<path d="M786.5 1133.5 V1144.7"/>
<path d="M1162.5 1133.5 V1144.7"/>
<path d="M1538.5 1133.5 V1144.7"/>
</g>
<text x="124.52" y="56.90" font-size="60.50">15</text>
<text x="124.52" y="239.40" font-size="60.50">10</text>
<text x="154.77" y="421.90" font-size="60.50">5</text>
<text x="154.77" y="604.40" font-size="60.50">0</text>
<text x="134.20" y="786.90" font-size="60.50">-5</text>
<text x="104.55" y="969.40" font-size="60.50">-10</text>
<text x="103.95" y="1151.90" font-size="60.50">-15</text>
<text x="207.07" y="1217.40" font-size="60.50">0</text>
<text x="552.83" y="1217.40" font-size="60.50">200</text>
<text x="929.73" y="1217.40" font-size="60.50">400</text>
<text x="1305.13" y="1217.40" font-size="60.50">600</text>
<text x="1681.13" y="1217.40" font-size="60.50">800</text>
<text transform="translate(772.79 1291.30) scale(1.0150 1)" font-size="69.50">Displacement/m</text>
<text transform="translate(97.8 951.8) rotate(-90) scale(0.9945 1.02)" font-size="65">Accz<tspan dy="4.3">_</tspan><tspan dy="-4.3">contact strip/m/s</tspan><tspan dy="-31.2" font-size="64">2</tspan></text>
<g fill="none">
<path d="M298.2 54.55 H418.8" stroke="#00ff00" stroke-width="1.6"/>
<path d="M294.9 153.1 H415.3" stroke="#0000ff" stroke-width="1.6"/>
<path d="M751 55.05 H871.8" stroke="#ff0000" stroke-width="1.6"/>
<path d="M751.3 163.6 H871.6" stroke="#000" stroke-width="3.0"/>
<path d="M758.3 264.3 H878.8" stroke="#ff00ff" stroke-width="1.6"/>
</g>
<text x="432.68" y="72.90" font-size="62.94">280km/h</text>
<text x="427.99" y="171.60" font-size="62.86">360km/h</text>
<text x="884.89" y="73.80" font-size="60.14">320km/h</text>
<text x="888.25" y="182.20" font-size="65.43">400km/h</text>
<text x="895.44" y="282.00" font-size="65.76">420km/h</text>
<text transform="translate(320.70 999.90) scale(1.0363 1)" font-size="52.90">Tunnel inlet</text>
<text transform="translate(1005.10 993.50) scale(1.0355 1)" font-size="52.90">Tunnel outlet</text>
<path d="M482.6 774.9 L512.6 953.6" stroke="#000" stroke-width="1.5" fill="none"/>
<path d="M478.0 747.8 L474.9 776.2 L490.2 773.6 Z" fill="#000"/>
<path d="M1368.6 806.0 L1294.8 946.6" stroke="#000" stroke-width="1.5" fill="none"/>
<path d="M1381.4 781.7 L1361.8 802.4 L1375.5 809.7 Z" fill="#000"/>
</svg></body></html>
